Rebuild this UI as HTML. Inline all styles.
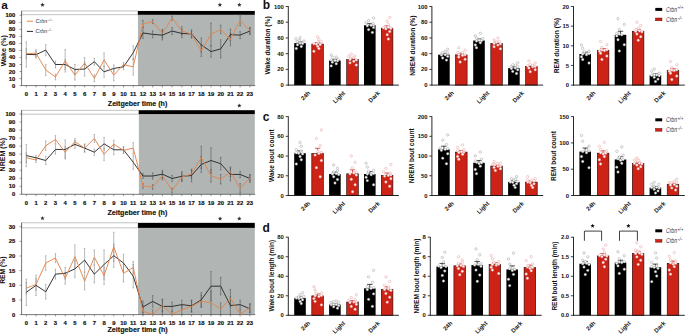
<!DOCTYPE html>
<html><head><meta charset="utf-8"><style>
html,body{margin:0;padding:0;background:#fff;}
svg{display:block;}
text{font-family:"Liberation Sans", sans-serif;}
</style></head><body>
<svg width="685" height="335" viewBox="0 0 685 335">
<rect width="685" height="335" fill="#fff"/>
<text x="1.2" y="8.6" font-size="11.8" font-weight="bold" text-anchor="start" fill="#111">a</text>
<rect x="137.95" y="14.8" width="116.85" height="70.8" fill="#b1b5b3"/>
<rect x="21.6" y="10.95" width="116.35" height="3.85" fill="#fff" stroke="#9a9a9a" stroke-width="0.6"/>
<rect x="137.95" y="10.95" width="116.85" height="3.85" fill="#000"/>
<line x1="21.6" y1="10.95" x2="21.6" y2="85.9" stroke="#555" stroke-width="0.8"/>
<line x1="21.6" y1="85.6" x2="255.2" y2="85.6" stroke="#555" stroke-width="0.8"/>
<line x1="19.6" y1="85.6" x2="21.6" y2="85.6" stroke="#555" stroke-width="0.6"/>
<text x="15.4" y="87.6" font-size="5.9" font-weight="bold" text-anchor="end" fill="#111" stroke="#111" stroke-width="0.18">0</text>
<line x1="19.6" y1="78.57" x2="21.6" y2="78.57" stroke="#555" stroke-width="0.6"/>
<text x="15.4" y="80.57" font-size="5.9" font-weight="bold" text-anchor="end" fill="#111" stroke="#111" stroke-width="0.18">10</text>
<line x1="19.6" y1="71.54" x2="21.6" y2="71.54" stroke="#555" stroke-width="0.6"/>
<text x="15.4" y="73.54" font-size="5.9" font-weight="bold" text-anchor="end" fill="#111" stroke="#111" stroke-width="0.18">20</text>
<line x1="19.6" y1="64.51" x2="21.6" y2="64.51" stroke="#555" stroke-width="0.6"/>
<text x="15.4" y="66.51" font-size="5.9" font-weight="bold" text-anchor="end" fill="#111" stroke="#111" stroke-width="0.18">30</text>
<line x1="19.6" y1="57.48" x2="21.6" y2="57.48" stroke="#555" stroke-width="0.6"/>
<text x="15.4" y="59.48" font-size="5.9" font-weight="bold" text-anchor="end" fill="#111" stroke="#111" stroke-width="0.18">40</text>
<line x1="19.6" y1="50.45" x2="21.6" y2="50.45" stroke="#555" stroke-width="0.6"/>
<text x="15.4" y="52.45" font-size="5.9" font-weight="bold" text-anchor="end" fill="#111" stroke="#111" stroke-width="0.18">50</text>
<line x1="19.6" y1="43.42" x2="21.6" y2="43.42" stroke="#555" stroke-width="0.6"/>
<text x="15.4" y="45.42" font-size="5.9" font-weight="bold" text-anchor="end" fill="#111" stroke="#111" stroke-width="0.18">60</text>
<line x1="19.6" y1="36.39" x2="21.6" y2="36.39" stroke="#555" stroke-width="0.6"/>
<text x="15.4" y="38.39" font-size="5.9" font-weight="bold" text-anchor="end" fill="#111" stroke="#111" stroke-width="0.18">70</text>
<line x1="19.6" y1="29.36" x2="21.6" y2="29.36" stroke="#555" stroke-width="0.6"/>
<text x="15.4" y="31.36" font-size="5.9" font-weight="bold" text-anchor="end" fill="#111" stroke="#111" stroke-width="0.18">80</text>
<line x1="19.6" y1="22.33" x2="21.6" y2="22.33" stroke="#555" stroke-width="0.6"/>
<text x="15.4" y="24.33" font-size="5.9" font-weight="bold" text-anchor="end" fill="#111" stroke="#111" stroke-width="0.18">90</text>
<line x1="19.6" y1="15.3" x2="21.6" y2="15.3" stroke="#555" stroke-width="0.6"/>
<text x="15.4" y="17.3" font-size="5.9" font-weight="bold" text-anchor="end" fill="#111" stroke="#111" stroke-width="0.18">100</text>
<line x1="26.3" y1="85.6" x2="26.3" y2="87.4" stroke="#555" stroke-width="0.6"/>
<text x="26.3" y="96.2" font-size="5.9" font-weight="bold" text-anchor="middle" fill="#111" stroke="#111" stroke-width="0.18">0</text>
<line x1="36.02" y1="85.6" x2="36.02" y2="87.4" stroke="#555" stroke-width="0.6"/>
<text x="36.02" y="96.2" font-size="5.9" font-weight="bold" text-anchor="middle" fill="#111" stroke="#111" stroke-width="0.18">1</text>
<line x1="45.74" y1="85.6" x2="45.74" y2="87.4" stroke="#555" stroke-width="0.6"/>
<text x="45.74" y="96.2" font-size="5.9" font-weight="bold" text-anchor="middle" fill="#111" stroke="#111" stroke-width="0.18">2</text>
<line x1="55.46" y1="85.6" x2="55.46" y2="87.4" stroke="#555" stroke-width="0.6"/>
<text x="55.46" y="96.2" font-size="5.9" font-weight="bold" text-anchor="middle" fill="#111" stroke="#111" stroke-width="0.18">3</text>
<line x1="65.18" y1="85.6" x2="65.18" y2="87.4" stroke="#555" stroke-width="0.6"/>
<text x="65.18" y="96.2" font-size="5.9" font-weight="bold" text-anchor="middle" fill="#111" stroke="#111" stroke-width="0.18">4</text>
<line x1="74.9" y1="85.6" x2="74.9" y2="87.4" stroke="#555" stroke-width="0.6"/>
<text x="74.9" y="96.2" font-size="5.9" font-weight="bold" text-anchor="middle" fill="#111" stroke="#111" stroke-width="0.18">5</text>
<line x1="84.62" y1="85.6" x2="84.62" y2="87.4" stroke="#555" stroke-width="0.6"/>
<text x="84.62" y="96.2" font-size="5.9" font-weight="bold" text-anchor="middle" fill="#111" stroke="#111" stroke-width="0.18">6</text>
<line x1="94.34" y1="85.6" x2="94.34" y2="87.4" stroke="#555" stroke-width="0.6"/>
<text x="94.34" y="96.2" font-size="5.9" font-weight="bold" text-anchor="middle" fill="#111" stroke="#111" stroke-width="0.18">7</text>
<line x1="104.06" y1="85.6" x2="104.06" y2="87.4" stroke="#555" stroke-width="0.6"/>
<text x="104.06" y="96.2" font-size="5.9" font-weight="bold" text-anchor="middle" fill="#111" stroke="#111" stroke-width="0.18">8</text>
<line x1="113.78" y1="85.6" x2="113.78" y2="87.4" stroke="#555" stroke-width="0.6"/>
<text x="113.78" y="96.2" font-size="5.9" font-weight="bold" text-anchor="middle" fill="#111" stroke="#111" stroke-width="0.18">9</text>
<line x1="123.5" y1="85.6" x2="123.5" y2="87.4" stroke="#555" stroke-width="0.6"/>
<text x="123.5" y="96.2" font-size="5.9" font-weight="bold" text-anchor="middle" fill="#111" stroke="#111" stroke-width="0.18">10</text>
<line x1="133.22" y1="85.6" x2="133.22" y2="87.4" stroke="#555" stroke-width="0.6"/>
<text x="133.22" y="96.2" font-size="5.9" font-weight="bold" text-anchor="middle" fill="#111" stroke="#111" stroke-width="0.18">11</text>
<line x1="142.94" y1="85.6" x2="142.94" y2="87.4" stroke="#555" stroke-width="0.6"/>
<text x="142.94" y="96.2" font-size="5.9" font-weight="bold" text-anchor="middle" fill="#111" stroke="#111" stroke-width="0.18">12</text>
<line x1="152.66" y1="85.6" x2="152.66" y2="87.4" stroke="#555" stroke-width="0.6"/>
<text x="152.66" y="96.2" font-size="5.9" font-weight="bold" text-anchor="middle" fill="#111" stroke="#111" stroke-width="0.18">13</text>
<line x1="162.38" y1="85.6" x2="162.38" y2="87.4" stroke="#555" stroke-width="0.6"/>
<text x="162.38" y="96.2" font-size="5.9" font-weight="bold" text-anchor="middle" fill="#111" stroke="#111" stroke-width="0.18">14</text>
<line x1="172.1" y1="85.6" x2="172.1" y2="87.4" stroke="#555" stroke-width="0.6"/>
<text x="172.1" y="96.2" font-size="5.9" font-weight="bold" text-anchor="middle" fill="#111" stroke="#111" stroke-width="0.18">15</text>
<line x1="181.82" y1="85.6" x2="181.82" y2="87.4" stroke="#555" stroke-width="0.6"/>
<text x="181.82" y="96.2" font-size="5.9" font-weight="bold" text-anchor="middle" fill="#111" stroke="#111" stroke-width="0.18">16</text>
<line x1="191.54" y1="85.6" x2="191.54" y2="87.4" stroke="#555" stroke-width="0.6"/>
<text x="191.54" y="96.2" font-size="5.9" font-weight="bold" text-anchor="middle" fill="#111" stroke="#111" stroke-width="0.18">17</text>
<line x1="201.26" y1="85.6" x2="201.26" y2="87.4" stroke="#555" stroke-width="0.6"/>
<text x="201.26" y="96.2" font-size="5.9" font-weight="bold" text-anchor="middle" fill="#111" stroke="#111" stroke-width="0.18">18</text>
<line x1="210.98" y1="85.6" x2="210.98" y2="87.4" stroke="#555" stroke-width="0.6"/>
<text x="210.98" y="96.2" font-size="5.9" font-weight="bold" text-anchor="middle" fill="#111" stroke="#111" stroke-width="0.18">19</text>
<line x1="220.7" y1="85.6" x2="220.7" y2="87.4" stroke="#555" stroke-width="0.6"/>
<text x="220.7" y="96.2" font-size="5.9" font-weight="bold" text-anchor="middle" fill="#111" stroke="#111" stroke-width="0.18">20</text>
<line x1="230.42" y1="85.6" x2="230.42" y2="87.4" stroke="#555" stroke-width="0.6"/>
<text x="230.42" y="96.2" font-size="5.9" font-weight="bold" text-anchor="middle" fill="#111" stroke="#111" stroke-width="0.18">21</text>
<line x1="240.14" y1="85.6" x2="240.14" y2="87.4" stroke="#555" stroke-width="0.6"/>
<text x="240.14" y="96.2" font-size="5.9" font-weight="bold" text-anchor="middle" fill="#111" stroke="#111" stroke-width="0.18">22</text>
<line x1="249.86" y1="85.6" x2="249.86" y2="87.4" stroke="#555" stroke-width="0.6"/>
<text x="249.86" y="96.2" font-size="5.9" font-weight="bold" text-anchor="middle" fill="#111" stroke="#111" stroke-width="0.18">23</text>
<text x="137.55" y="105.75" font-size="7.1" font-weight="bold" text-anchor="middle" fill="#111" textLength="59.42" lengthAdjust="spacingAndGlyphs" stroke="#111" stroke-width="0.15">Zeitgeber time (h)</text>
<text x="5.65" y="50.7" font-size="7.0" font-weight="bold" text-anchor="middle" fill="#111" transform="rotate(-90 5.65 50.7)" textLength="31.21" lengthAdjust="spacingAndGlyphs">Wake (%)</text>
<line x1="26.3" y1="41.73" x2="26.3" y2="67.04" stroke="#888" stroke-width="0.6"/>
<line x1="25.5" y1="41.73" x2="27.1" y2="41.73" stroke="#888" stroke-width="0.5"/>
<line x1="25.5" y1="67.04" x2="27.1" y2="67.04" stroke="#888" stroke-width="0.5"/>
<line x1="36.02" y1="51.15" x2="36.02" y2="58.18" stroke="#888" stroke-width="0.6"/>
<line x1="35.22" y1="51.15" x2="36.82" y2="51.15" stroke="#888" stroke-width="0.5"/>
<line x1="35.22" y1="58.18" x2="36.82" y2="58.18" stroke="#888" stroke-width="0.5"/>
<line x1="45.74" y1="44.47" x2="45.74" y2="55.72" stroke="#888" stroke-width="0.6"/>
<line x1="44.94" y1="44.47" x2="46.54" y2="44.47" stroke="#888" stroke-width="0.5"/>
<line x1="44.94" y1="55.72" x2="46.54" y2="55.72" stroke="#888" stroke-width="0.5"/>
<line x1="55.46" y1="60.99" x2="55.46" y2="68.02" stroke="#888" stroke-width="0.6"/>
<line x1="54.66" y1="60.99" x2="56.26" y2="60.99" stroke="#888" stroke-width="0.5"/>
<line x1="54.66" y1="68.02" x2="56.26" y2="68.02" stroke="#888" stroke-width="0.5"/>
<line x1="65.18" y1="59.59" x2="65.18" y2="69.43" stroke="#888" stroke-width="0.6"/>
<line x1="64.38" y1="59.59" x2="65.98" y2="59.59" stroke="#888" stroke-width="0.5"/>
<line x1="64.38" y1="69.43" x2="65.98" y2="69.43" stroke="#888" stroke-width="0.5"/>
<line x1="74.9" y1="64.51" x2="74.9" y2="74.35" stroke="#888" stroke-width="0.6"/>
<line x1="74.1" y1="64.51" x2="75.7" y2="64.51" stroke="#888" stroke-width="0.5"/>
<line x1="74.1" y1="74.35" x2="75.7" y2="74.35" stroke="#888" stroke-width="0.5"/>
<line x1="84.62" y1="62.05" x2="84.62" y2="76.11" stroke="#888" stroke-width="0.6"/>
<line x1="83.82" y1="62.05" x2="85.42" y2="62.05" stroke="#888" stroke-width="0.5"/>
<line x1="83.82" y1="76.11" x2="85.42" y2="76.11" stroke="#888" stroke-width="0.5"/>
<line x1="94.34" y1="58.18" x2="94.34" y2="65.21" stroke="#888" stroke-width="0.6"/>
<line x1="93.54" y1="58.18" x2="95.14" y2="58.18" stroke="#888" stroke-width="0.5"/>
<line x1="93.54" y1="65.21" x2="95.14" y2="65.21" stroke="#888" stroke-width="0.5"/>
<line x1="104.06" y1="66.2" x2="104.06" y2="77.45" stroke="#888" stroke-width="0.6"/>
<line x1="103.26" y1="66.2" x2="104.86" y2="66.2" stroke="#888" stroke-width="0.5"/>
<line x1="103.26" y1="77.45" x2="104.86" y2="77.45" stroke="#888" stroke-width="0.5"/>
<line x1="113.78" y1="64.93" x2="113.78" y2="71.96" stroke="#888" stroke-width="0.6"/>
<line x1="112.98" y1="64.93" x2="114.58" y2="64.93" stroke="#888" stroke-width="0.5"/>
<line x1="112.98" y1="71.96" x2="114.58" y2="71.96" stroke="#888" stroke-width="0.5"/>
<line x1="123.5" y1="64.02" x2="123.5" y2="69.64" stroke="#888" stroke-width="0.6"/>
<line x1="122.7" y1="64.02" x2="124.3" y2="64.02" stroke="#888" stroke-width="0.5"/>
<line x1="122.7" y1="69.64" x2="124.3" y2="69.64" stroke="#888" stroke-width="0.5"/>
<line x1="133.22" y1="45.74" x2="133.22" y2="59.8" stroke="#888" stroke-width="0.6"/>
<line x1="132.42" y1="45.74" x2="134.02" y2="45.74" stroke="#888" stroke-width="0.5"/>
<line x1="132.42" y1="59.8" x2="134.02" y2="59.8" stroke="#888" stroke-width="0.5"/>
<line x1="142.94" y1="27.32" x2="142.94" y2="38.57" stroke="#555" stroke-width="0.6"/>
<line x1="142.14" y1="27.32" x2="143.74" y2="27.32" stroke="#555" stroke-width="0.5"/>
<line x1="142.14" y1="38.57" x2="143.74" y2="38.57" stroke="#555" stroke-width="0.5"/>
<line x1="152.66" y1="30.84" x2="152.66" y2="37.87" stroke="#555" stroke-width="0.6"/>
<line x1="151.86" y1="30.84" x2="153.46" y2="30.84" stroke="#555" stroke-width="0.5"/>
<line x1="151.86" y1="37.87" x2="153.46" y2="37.87" stroke="#555" stroke-width="0.5"/>
<line x1="162.38" y1="30.2" x2="162.38" y2="40.05" stroke="#555" stroke-width="0.6"/>
<line x1="161.58" y1="30.2" x2="163.18" y2="30.2" stroke="#555" stroke-width="0.5"/>
<line x1="161.58" y1="40.05" x2="163.18" y2="40.05" stroke="#555" stroke-width="0.5"/>
<line x1="172.1" y1="27.53" x2="172.1" y2="34.56" stroke="#555" stroke-width="0.6"/>
<line x1="171.3" y1="27.53" x2="172.9" y2="27.53" stroke="#555" stroke-width="0.5"/>
<line x1="171.3" y1="34.56" x2="172.9" y2="34.56" stroke="#555" stroke-width="0.5"/>
<line x1="181.82" y1="29.22" x2="181.82" y2="37.66" stroke="#555" stroke-width="0.6"/>
<line x1="181.02" y1="29.22" x2="182.62" y2="29.22" stroke="#555" stroke-width="0.5"/>
<line x1="181.02" y1="37.66" x2="182.62" y2="37.66" stroke="#555" stroke-width="0.5"/>
<line x1="191.54" y1="29.71" x2="191.54" y2="38.15" stroke="#555" stroke-width="0.6"/>
<line x1="190.74" y1="29.71" x2="192.34" y2="29.71" stroke="#555" stroke-width="0.5"/>
<line x1="190.74" y1="38.15" x2="192.34" y2="38.15" stroke="#555" stroke-width="0.5"/>
<line x1="201.26" y1="37.87" x2="201.26" y2="51.93" stroke="#555" stroke-width="0.6"/>
<line x1="200.46" y1="37.87" x2="202.06" y2="37.87" stroke="#555" stroke-width="0.5"/>
<line x1="200.46" y1="51.93" x2="202.06" y2="51.93" stroke="#555" stroke-width="0.5"/>
<line x1="210.98" y1="45.95" x2="210.98" y2="57.2" stroke="#555" stroke-width="0.6"/>
<line x1="210.18" y1="45.95" x2="211.78" y2="45.95" stroke="#555" stroke-width="0.5"/>
<line x1="210.18" y1="57.2" x2="211.78" y2="57.2" stroke="#555" stroke-width="0.5"/>
<line x1="220.7" y1="39.76" x2="220.7" y2="58.04" stroke="#555" stroke-width="0.6"/>
<line x1="219.9" y1="39.76" x2="221.5" y2="39.76" stroke="#555" stroke-width="0.5"/>
<line x1="219.9" y1="58.04" x2="221.5" y2="58.04" stroke="#555" stroke-width="0.5"/>
<line x1="230.42" y1="29.01" x2="230.42" y2="40.26" stroke="#555" stroke-width="0.6"/>
<line x1="229.62" y1="29.01" x2="231.22" y2="29.01" stroke="#555" stroke-width="0.5"/>
<line x1="229.62" y1="40.26" x2="231.22" y2="40.26" stroke="#555" stroke-width="0.5"/>
<line x1="240.14" y1="31.61" x2="240.14" y2="38.64" stroke="#555" stroke-width="0.6"/>
<line x1="239.34" y1="31.61" x2="240.94" y2="31.61" stroke="#555" stroke-width="0.5"/>
<line x1="239.34" y1="38.64" x2="240.94" y2="38.64" stroke="#555" stroke-width="0.5"/>
<line x1="249.86" y1="27.53" x2="249.86" y2="34.56" stroke="#555" stroke-width="0.6"/>
<line x1="249.06" y1="27.53" x2="250.66" y2="27.53" stroke="#555" stroke-width="0.5"/>
<line x1="249.06" y1="34.56" x2="250.66" y2="34.56" stroke="#555" stroke-width="0.5"/>
<line x1="26.3" y1="48.76" x2="26.3" y2="58.6" stroke="#888" stroke-width="0.6"/>
<line x1="25.5" y1="48.76" x2="27.1" y2="48.76" stroke="#888" stroke-width="0.5"/>
<line x1="25.5" y1="58.6" x2="27.1" y2="58.6" stroke="#888" stroke-width="0.5"/>
<line x1="36.02" y1="49.75" x2="36.02" y2="56.78" stroke="#888" stroke-width="0.6"/>
<line x1="35.22" y1="49.75" x2="36.82" y2="49.75" stroke="#888" stroke-width="0.5"/>
<line x1="35.22" y1="56.78" x2="36.82" y2="56.78" stroke="#888" stroke-width="0.5"/>
<line x1="45.74" y1="64.3" x2="45.74" y2="75.55" stroke="#888" stroke-width="0.6"/>
<line x1="44.94" y1="64.3" x2="46.54" y2="64.3" stroke="#888" stroke-width="0.5"/>
<line x1="44.94" y1="75.55" x2="46.54" y2="75.55" stroke="#888" stroke-width="0.5"/>
<line x1="55.46" y1="74.21" x2="55.46" y2="79.84" stroke="#888" stroke-width="0.6"/>
<line x1="54.66" y1="74.21" x2="56.26" y2="74.21" stroke="#888" stroke-width="0.5"/>
<line x1="54.66" y1="79.84" x2="56.26" y2="79.84" stroke="#888" stroke-width="0.5"/>
<line x1="65.18" y1="49.61" x2="65.18" y2="72.1" stroke="#888" stroke-width="0.6"/>
<line x1="64.38" y1="49.61" x2="65.98" y2="49.61" stroke="#888" stroke-width="0.5"/>
<line x1="64.38" y1="72.1" x2="65.98" y2="72.1" stroke="#888" stroke-width="0.5"/>
<line x1="74.9" y1="70.2" x2="74.9" y2="80.05" stroke="#888" stroke-width="0.6"/>
<line x1="74.1" y1="70.2" x2="75.7" y2="70.2" stroke="#888" stroke-width="0.5"/>
<line x1="74.1" y1="80.05" x2="75.7" y2="80.05" stroke="#888" stroke-width="0.5"/>
<line x1="84.62" y1="57.48" x2="84.62" y2="68.73" stroke="#888" stroke-width="0.6"/>
<line x1="83.82" y1="57.48" x2="85.42" y2="57.48" stroke="#888" stroke-width="0.5"/>
<line x1="83.82" y1="68.73" x2="85.42" y2="68.73" stroke="#888" stroke-width="0.5"/>
<line x1="94.34" y1="74.7" x2="94.34" y2="81.73" stroke="#888" stroke-width="0.6"/>
<line x1="93.54" y1="74.7" x2="95.14" y2="74.7" stroke="#888" stroke-width="0.5"/>
<line x1="93.54" y1="81.73" x2="95.14" y2="81.73" stroke="#888" stroke-width="0.5"/>
<line x1="104.06" y1="52.84" x2="104.06" y2="66.9" stroke="#888" stroke-width="0.6"/>
<line x1="103.26" y1="52.84" x2="104.86" y2="52.84" stroke="#888" stroke-width="0.5"/>
<line x1="103.26" y1="66.9" x2="104.86" y2="66.9" stroke="#888" stroke-width="0.5"/>
<line x1="113.78" y1="69.5" x2="113.78" y2="80.75" stroke="#888" stroke-width="0.6"/>
<line x1="112.98" y1="69.5" x2="114.58" y2="69.5" stroke="#888" stroke-width="0.5"/>
<line x1="112.98" y1="80.75" x2="114.58" y2="80.75" stroke="#888" stroke-width="0.5"/>
<line x1="123.5" y1="62.54" x2="123.5" y2="66.76" stroke="#888" stroke-width="0.6"/>
<line x1="122.7" y1="62.54" x2="124.3" y2="62.54" stroke="#888" stroke-width="0.5"/>
<line x1="122.7" y1="66.76" x2="124.3" y2="66.76" stroke="#888" stroke-width="0.5"/>
<line x1="133.22" y1="58.39" x2="133.22" y2="75.27" stroke="#888" stroke-width="0.6"/>
<line x1="132.42" y1="58.39" x2="134.02" y2="58.39" stroke="#888" stroke-width="0.5"/>
<line x1="132.42" y1="75.27" x2="134.02" y2="75.27" stroke="#888" stroke-width="0.5"/>
<line x1="142.94" y1="20.36" x2="142.94" y2="27.39" stroke="#555" stroke-width="0.6"/>
<line x1="142.14" y1="20.36" x2="143.74" y2="20.36" stroke="#555" stroke-width="0.5"/>
<line x1="142.14" y1="27.39" x2="143.74" y2="27.39" stroke="#555" stroke-width="0.5"/>
<line x1="152.66" y1="19.38" x2="152.66" y2="23.6" stroke="#555" stroke-width="0.6"/>
<line x1="151.86" y1="19.38" x2="153.46" y2="19.38" stroke="#555" stroke-width="0.5"/>
<line x1="151.86" y1="23.6" x2="153.46" y2="23.6" stroke="#555" stroke-width="0.5"/>
<line x1="162.38" y1="29.22" x2="162.38" y2="37.66" stroke="#555" stroke-width="0.6"/>
<line x1="161.58" y1="29.22" x2="163.18" y2="29.22" stroke="#555" stroke-width="0.5"/>
<line x1="161.58" y1="37.66" x2="163.18" y2="37.66" stroke="#555" stroke-width="0.5"/>
<line x1="172.1" y1="16.07" x2="172.1" y2="20.29" stroke="#555" stroke-width="0.6"/>
<line x1="171.3" y1="16.07" x2="172.9" y2="16.07" stroke="#555" stroke-width="0.5"/>
<line x1="171.3" y1="20.29" x2="172.9" y2="20.29" stroke="#555" stroke-width="0.5"/>
<line x1="181.82" y1="26.62" x2="181.82" y2="35.05" stroke="#555" stroke-width="0.6"/>
<line x1="181.02" y1="26.62" x2="182.62" y2="26.62" stroke="#555" stroke-width="0.5"/>
<line x1="181.02" y1="35.05" x2="182.62" y2="35.05" stroke="#555" stroke-width="0.5"/>
<line x1="191.54" y1="31.33" x2="191.54" y2="36.95" stroke="#555" stroke-width="0.6"/>
<line x1="190.74" y1="31.33" x2="192.34" y2="31.33" stroke="#555" stroke-width="0.5"/>
<line x1="190.74" y1="36.95" x2="192.34" y2="36.95" stroke="#555" stroke-width="0.5"/>
<line x1="201.26" y1="45.18" x2="201.26" y2="56.43" stroke="#555" stroke-width="0.6"/>
<line x1="200.46" y1="45.18" x2="202.06" y2="45.18" stroke="#555" stroke-width="0.5"/>
<line x1="200.46" y1="56.43" x2="202.06" y2="56.43" stroke="#555" stroke-width="0.5"/>
<line x1="210.98" y1="23.03" x2="210.98" y2="45.53" stroke="#555" stroke-width="0.6"/>
<line x1="210.18" y1="23.03" x2="211.78" y2="23.03" stroke="#555" stroke-width="0.5"/>
<line x1="210.18" y1="45.53" x2="211.78" y2="45.53" stroke="#555" stroke-width="0.5"/>
<line x1="220.7" y1="25.14" x2="220.7" y2="33.58" stroke="#555" stroke-width="0.6"/>
<line x1="219.9" y1="25.14" x2="221.5" y2="25.14" stroke="#555" stroke-width="0.5"/>
<line x1="219.9" y1="33.58" x2="221.5" y2="33.58" stroke="#555" stroke-width="0.5"/>
<line x1="230.42" y1="33.09" x2="230.42" y2="45.74" stroke="#555" stroke-width="0.6"/>
<line x1="229.62" y1="33.09" x2="231.22" y2="33.09" stroke="#555" stroke-width="0.5"/>
<line x1="229.62" y1="45.74" x2="231.22" y2="45.74" stroke="#555" stroke-width="0.5"/>
<line x1="240.14" y1="14.67" x2="240.14" y2="25.92" stroke="#555" stroke-width="0.6"/>
<line x1="239.34" y1="14.67" x2="240.94" y2="14.67" stroke="#555" stroke-width="0.5"/>
<line x1="239.34" y1="25.92" x2="240.94" y2="25.92" stroke="#555" stroke-width="0.5"/>
<line x1="249.86" y1="27.95" x2="249.86" y2="33.58" stroke="#555" stroke-width="0.6"/>
<line x1="249.06" y1="27.95" x2="250.66" y2="27.95" stroke="#555" stroke-width="0.5"/>
<line x1="249.06" y1="33.58" x2="250.66" y2="33.58" stroke="#555" stroke-width="0.5"/>
<polyline points="26.3,54.39 36.02,54.67 45.74,50.1 55.46,64.51 65.18,64.51 74.9,69.43 84.62,69.08 94.34,61.7 104.06,71.82 113.78,68.45 123.5,66.83 133.22,52.77 142.94,32.95 152.66,34.35 162.38,35.12 172.1,31.05 181.82,33.44 191.54,33.93 201.26,44.9 210.98,51.57 220.7,48.9 230.42,34.63 240.14,35.12 249.86,31.05" fill="none" stroke="#2b2b2b" stroke-width="0.95" stroke-linejoin="miter"/>
<polyline points="26.3,53.68 36.02,53.26 45.74,69.92 55.46,77.02 65.18,60.85 74.9,75.13 84.62,63.1 94.34,78.22 104.06,59.87 113.78,75.13 123.5,64.65 133.22,66.83 142.94,23.88 152.66,21.49 162.38,33.44 172.1,18.18 181.82,30.84 191.54,34.14 201.26,50.8 210.98,34.28 220.7,29.36 230.42,39.41 240.14,20.29 249.86,30.77" fill="none" stroke="#e4854b" stroke-width="0.95" stroke-linejoin="miter"/>
<polygon points="42.5,2.6 43.11,4.06 44.69,4.19 43.48,5.22 43.85,6.76 42.5,5.94 41.15,6.76 41.52,5.22 40.31,4.19 41.89,4.06" fill="#333"/>
<polygon points="219.9,2.6 220.51,4.06 222.09,4.19 220.88,5.22 221.25,6.76 219.9,5.94 218.55,6.76 218.92,5.22 217.71,4.19 219.29,4.06" fill="#333"/>
<polygon points="239.4,2.6 240.01,4.06 241.59,4.19 240.38,5.22 240.75,6.76 239.4,5.94 238.05,6.76 238.42,5.22 237.21,4.19 238.79,4.06" fill="#333"/>
<line x1="26.9" y1="21.2" x2="33" y2="21.2" stroke="#e4854b" stroke-width="1"/>
<line x1="26.9" y1="31.4" x2="33" y2="31.4" stroke="#2b2b2b" stroke-width="1"/>
<text x="35.4" y="23.2" font-size="5.9" font-style="italic" fill="#333" textLength="12" lengthAdjust="spacingAndGlyphs">Crbn</text><text x="48.0" y="21.0" font-size="3.9" font-style="italic" fill="#555" textLength="4.3" lengthAdjust="spacingAndGlyphs">+/+</text>
<text x="35.4" y="33.4" font-size="5.9" font-style="italic" fill="#333" textLength="12" lengthAdjust="spacingAndGlyphs">Crbn</text><text x="48.0" y="31.2" font-size="3.9" font-style="italic" fill="#555" textLength="3.6" lengthAdjust="spacingAndGlyphs">-/-</text>
<rect x="138.85" y="114.1" width="115.95" height="80.2" fill="#b1b5b3"/>
<rect x="21.6" y="110.2" width="117.25" height="3.9" fill="#fff" stroke="#9a9a9a" stroke-width="0.6"/>
<rect x="138.85" y="110.2" width="115.95" height="3.9" fill="#000"/>
<line x1="21.6" y1="110.2" x2="21.6" y2="194.6" stroke="#555" stroke-width="0.8"/>
<line x1="21.6" y1="194.3" x2="255.2" y2="194.3" stroke="#555" stroke-width="0.8"/>
<line x1="19.6" y1="194.3" x2="21.6" y2="194.3" stroke="#555" stroke-width="0.6"/>
<text x="15.4" y="196.3" font-size="5.9" font-weight="bold" text-anchor="end" fill="#111" stroke="#111" stroke-width="0.18">0</text>
<line x1="19.6" y1="186.27" x2="21.6" y2="186.27" stroke="#555" stroke-width="0.6"/>
<text x="15.4" y="188.27" font-size="5.9" font-weight="bold" text-anchor="end" fill="#111" stroke="#111" stroke-width="0.18">10</text>
<line x1="19.6" y1="178.24" x2="21.6" y2="178.24" stroke="#555" stroke-width="0.6"/>
<text x="15.4" y="180.24" font-size="5.9" font-weight="bold" text-anchor="end" fill="#111" stroke="#111" stroke-width="0.18">20</text>
<line x1="19.6" y1="170.21" x2="21.6" y2="170.21" stroke="#555" stroke-width="0.6"/>
<text x="15.4" y="172.21" font-size="5.9" font-weight="bold" text-anchor="end" fill="#111" stroke="#111" stroke-width="0.18">30</text>
<line x1="19.6" y1="162.18" x2="21.6" y2="162.18" stroke="#555" stroke-width="0.6"/>
<text x="15.4" y="164.18" font-size="5.9" font-weight="bold" text-anchor="end" fill="#111" stroke="#111" stroke-width="0.18">40</text>
<line x1="19.6" y1="154.15" x2="21.6" y2="154.15" stroke="#555" stroke-width="0.6"/>
<text x="15.4" y="156.15" font-size="5.9" font-weight="bold" text-anchor="end" fill="#111" stroke="#111" stroke-width="0.18">50</text>
<line x1="19.6" y1="146.12" x2="21.6" y2="146.12" stroke="#555" stroke-width="0.6"/>
<text x="15.4" y="148.12" font-size="5.9" font-weight="bold" text-anchor="end" fill="#111" stroke="#111" stroke-width="0.18">60</text>
<line x1="19.6" y1="138.09" x2="21.6" y2="138.09" stroke="#555" stroke-width="0.6"/>
<text x="15.4" y="140.09" font-size="5.9" font-weight="bold" text-anchor="end" fill="#111" stroke="#111" stroke-width="0.18">70</text>
<line x1="19.6" y1="130.06" x2="21.6" y2="130.06" stroke="#555" stroke-width="0.6"/>
<text x="15.4" y="132.06" font-size="5.9" font-weight="bold" text-anchor="end" fill="#111" stroke="#111" stroke-width="0.18">80</text>
<line x1="19.6" y1="122.03" x2="21.6" y2="122.03" stroke="#555" stroke-width="0.6"/>
<text x="15.4" y="124.03" font-size="5.9" font-weight="bold" text-anchor="end" fill="#111" stroke="#111" stroke-width="0.18">90</text>
<line x1="19.6" y1="114" x2="21.6" y2="114" stroke="#555" stroke-width="0.6"/>
<text x="15.4" y="116" font-size="5.9" font-weight="bold" text-anchor="end" fill="#111" stroke="#111" stroke-width="0.18">100</text>
<line x1="26.3" y1="194.3" x2="26.3" y2="196.1" stroke="#555" stroke-width="0.6"/>
<text x="26.3" y="205.2" font-size="5.9" font-weight="bold" text-anchor="middle" fill="#111" stroke="#111" stroke-width="0.18">0</text>
<line x1="36.02" y1="194.3" x2="36.02" y2="196.1" stroke="#555" stroke-width="0.6"/>
<text x="36.02" y="205.2" font-size="5.9" font-weight="bold" text-anchor="middle" fill="#111" stroke="#111" stroke-width="0.18">1</text>
<line x1="45.74" y1="194.3" x2="45.74" y2="196.1" stroke="#555" stroke-width="0.6"/>
<text x="45.74" y="205.2" font-size="5.9" font-weight="bold" text-anchor="middle" fill="#111" stroke="#111" stroke-width="0.18">2</text>
<line x1="55.46" y1="194.3" x2="55.46" y2="196.1" stroke="#555" stroke-width="0.6"/>
<text x="55.46" y="205.2" font-size="5.9" font-weight="bold" text-anchor="middle" fill="#111" stroke="#111" stroke-width="0.18">3</text>
<line x1="65.18" y1="194.3" x2="65.18" y2="196.1" stroke="#555" stroke-width="0.6"/>
<text x="65.18" y="205.2" font-size="5.9" font-weight="bold" text-anchor="middle" fill="#111" stroke="#111" stroke-width="0.18">4</text>
<line x1="74.9" y1="194.3" x2="74.9" y2="196.1" stroke="#555" stroke-width="0.6"/>
<text x="74.9" y="205.2" font-size="5.9" font-weight="bold" text-anchor="middle" fill="#111" stroke="#111" stroke-width="0.18">5</text>
<line x1="84.62" y1="194.3" x2="84.62" y2="196.1" stroke="#555" stroke-width="0.6"/>
<text x="84.62" y="205.2" font-size="5.9" font-weight="bold" text-anchor="middle" fill="#111" stroke="#111" stroke-width="0.18">6</text>
<line x1="94.34" y1="194.3" x2="94.34" y2="196.1" stroke="#555" stroke-width="0.6"/>
<text x="94.34" y="205.2" font-size="5.9" font-weight="bold" text-anchor="middle" fill="#111" stroke="#111" stroke-width="0.18">7</text>
<line x1="104.06" y1="194.3" x2="104.06" y2="196.1" stroke="#555" stroke-width="0.6"/>
<text x="104.06" y="205.2" font-size="5.9" font-weight="bold" text-anchor="middle" fill="#111" stroke="#111" stroke-width="0.18">8</text>
<line x1="113.78" y1="194.3" x2="113.78" y2="196.1" stroke="#555" stroke-width="0.6"/>
<text x="113.78" y="205.2" font-size="5.9" font-weight="bold" text-anchor="middle" fill="#111" stroke="#111" stroke-width="0.18">9</text>
<line x1="123.5" y1="194.3" x2="123.5" y2="196.1" stroke="#555" stroke-width="0.6"/>
<text x="123.5" y="205.2" font-size="5.9" font-weight="bold" text-anchor="middle" fill="#111" stroke="#111" stroke-width="0.18">10</text>
<line x1="133.22" y1="194.3" x2="133.22" y2="196.1" stroke="#555" stroke-width="0.6"/>
<text x="133.22" y="205.2" font-size="5.9" font-weight="bold" text-anchor="middle" fill="#111" stroke="#111" stroke-width="0.18">11</text>
<line x1="142.94" y1="194.3" x2="142.94" y2="196.1" stroke="#555" stroke-width="0.6"/>
<text x="142.94" y="205.2" font-size="5.9" font-weight="bold" text-anchor="middle" fill="#111" stroke="#111" stroke-width="0.18">12</text>
<line x1="152.66" y1="194.3" x2="152.66" y2="196.1" stroke="#555" stroke-width="0.6"/>
<text x="152.66" y="205.2" font-size="5.9" font-weight="bold" text-anchor="middle" fill="#111" stroke="#111" stroke-width="0.18">13</text>
<line x1="162.38" y1="194.3" x2="162.38" y2="196.1" stroke="#555" stroke-width="0.6"/>
<text x="162.38" y="205.2" font-size="5.9" font-weight="bold" text-anchor="middle" fill="#111" stroke="#111" stroke-width="0.18">14</text>
<line x1="172.1" y1="194.3" x2="172.1" y2="196.1" stroke="#555" stroke-width="0.6"/>
<text x="172.1" y="205.2" font-size="5.9" font-weight="bold" text-anchor="middle" fill="#111" stroke="#111" stroke-width="0.18">15</text>
<line x1="181.82" y1="194.3" x2="181.82" y2="196.1" stroke="#555" stroke-width="0.6"/>
<text x="181.82" y="205.2" font-size="5.9" font-weight="bold" text-anchor="middle" fill="#111" stroke="#111" stroke-width="0.18">16</text>
<line x1="191.54" y1="194.3" x2="191.54" y2="196.1" stroke="#555" stroke-width="0.6"/>
<text x="191.54" y="205.2" font-size="5.9" font-weight="bold" text-anchor="middle" fill="#111" stroke="#111" stroke-width="0.18">17</text>
<line x1="201.26" y1="194.3" x2="201.26" y2="196.1" stroke="#555" stroke-width="0.6"/>
<text x="201.26" y="205.2" font-size="5.9" font-weight="bold" text-anchor="middle" fill="#111" stroke="#111" stroke-width="0.18">18</text>
<line x1="210.98" y1="194.3" x2="210.98" y2="196.1" stroke="#555" stroke-width="0.6"/>
<text x="210.98" y="205.2" font-size="5.9" font-weight="bold" text-anchor="middle" fill="#111" stroke="#111" stroke-width="0.18">19</text>
<line x1="220.7" y1="194.3" x2="220.7" y2="196.1" stroke="#555" stroke-width="0.6"/>
<text x="220.7" y="205.2" font-size="5.9" font-weight="bold" text-anchor="middle" fill="#111" stroke="#111" stroke-width="0.18">20</text>
<line x1="230.42" y1="194.3" x2="230.42" y2="196.1" stroke="#555" stroke-width="0.6"/>
<text x="230.42" y="205.2" font-size="5.9" font-weight="bold" text-anchor="middle" fill="#111" stroke="#111" stroke-width="0.18">21</text>
<line x1="240.14" y1="194.3" x2="240.14" y2="196.1" stroke="#555" stroke-width="0.6"/>
<text x="240.14" y="205.2" font-size="5.9" font-weight="bold" text-anchor="middle" fill="#111" stroke="#111" stroke-width="0.18">22</text>
<line x1="249.86" y1="194.3" x2="249.86" y2="196.1" stroke="#555" stroke-width="0.6"/>
<text x="249.86" y="205.2" font-size="5.9" font-weight="bold" text-anchor="middle" fill="#111" stroke="#111" stroke-width="0.18">23</text>
<text x="137.35" y="215.45" font-size="7.1" font-weight="bold" text-anchor="middle" fill="#111" textLength="59.82" lengthAdjust="spacingAndGlyphs" stroke="#111" stroke-width="0.15">Zeitgeber time (h)</text>
<text x="5.35" y="154.6" font-size="7.0" font-weight="bold" text-anchor="middle" fill="#111" transform="rotate(-90 5.35 154.6)" textLength="33.6" lengthAdjust="spacingAndGlyphs">NREM (%)</text>
<line x1="26.3" y1="144.45" x2="26.3" y2="166.71" stroke="#888" stroke-width="0.6"/>
<line x1="25.5" y1="144.45" x2="27.1" y2="144.45" stroke="#888" stroke-width="0.5"/>
<line x1="25.5" y1="166.71" x2="27.1" y2="166.71" stroke="#888" stroke-width="0.5"/>
<line x1="36.02" y1="155.42" x2="36.02" y2="160.19" stroke="#888" stroke-width="0.6"/>
<line x1="35.22" y1="155.42" x2="36.82" y2="155.42" stroke="#888" stroke-width="0.5"/>
<line x1="35.22" y1="160.19" x2="36.82" y2="160.19" stroke="#888" stroke-width="0.5"/>
<line x1="45.74" y1="156.54" x2="45.74" y2="164.49" stroke="#888" stroke-width="0.6"/>
<line x1="44.94" y1="156.54" x2="46.54" y2="156.54" stroke="#888" stroke-width="0.5"/>
<line x1="44.94" y1="164.49" x2="46.54" y2="164.49" stroke="#888" stroke-width="0.5"/>
<line x1="55.46" y1="144.69" x2="55.46" y2="154.23" stroke="#888" stroke-width="0.6"/>
<line x1="54.66" y1="144.69" x2="56.26" y2="144.69" stroke="#888" stroke-width="0.5"/>
<line x1="54.66" y1="154.23" x2="56.26" y2="154.23" stroke="#888" stroke-width="0.5"/>
<line x1="65.18" y1="139.92" x2="65.18" y2="159" stroke="#888" stroke-width="0.6"/>
<line x1="64.38" y1="139.92" x2="65.98" y2="139.92" stroke="#888" stroke-width="0.5"/>
<line x1="64.38" y1="159" x2="65.98" y2="159" stroke="#888" stroke-width="0.5"/>
<line x1="74.9" y1="140.4" x2="74.9" y2="148.35" stroke="#888" stroke-width="0.6"/>
<line x1="74.1" y1="140.4" x2="75.7" y2="140.4" stroke="#888" stroke-width="0.5"/>
<line x1="74.1" y1="148.35" x2="75.7" y2="148.35" stroke="#888" stroke-width="0.5"/>
<line x1="84.62" y1="144.14" x2="84.62" y2="152.09" stroke="#888" stroke-width="0.6"/>
<line x1="83.82" y1="144.14" x2="85.42" y2="144.14" stroke="#888" stroke-width="0.5"/>
<line x1="83.82" y1="152.09" x2="85.42" y2="152.09" stroke="#888" stroke-width="0.5"/>
<line x1="94.34" y1="148.99" x2="94.34" y2="155.35" stroke="#888" stroke-width="0.6"/>
<line x1="93.54" y1="148.99" x2="95.14" y2="148.99" stroke="#888" stroke-width="0.5"/>
<line x1="93.54" y1="155.35" x2="95.14" y2="155.35" stroke="#888" stroke-width="0.5"/>
<line x1="104.06" y1="137.46" x2="104.06" y2="150.18" stroke="#888" stroke-width="0.6"/>
<line x1="103.26" y1="137.46" x2="104.86" y2="137.46" stroke="#888" stroke-width="0.5"/>
<line x1="103.26" y1="150.18" x2="104.86" y2="150.18" stroke="#888" stroke-width="0.5"/>
<line x1="113.78" y1="145.01" x2="113.78" y2="154.55" stroke="#888" stroke-width="0.6"/>
<line x1="112.98" y1="145.01" x2="114.58" y2="145.01" stroke="#888" stroke-width="0.5"/>
<line x1="112.98" y1="154.55" x2="114.58" y2="154.55" stroke="#888" stroke-width="0.5"/>
<line x1="123.5" y1="146.6" x2="123.5" y2="152.96" stroke="#888" stroke-width="0.6"/>
<line x1="122.7" y1="146.6" x2="124.3" y2="146.6" stroke="#888" stroke-width="0.5"/>
<line x1="122.7" y1="152.96" x2="124.3" y2="152.96" stroke="#888" stroke-width="0.5"/>
<line x1="133.22" y1="155.11" x2="133.22" y2="169.42" stroke="#888" stroke-width="0.6"/>
<line x1="132.42" y1="155.11" x2="134.02" y2="155.11" stroke="#888" stroke-width="0.5"/>
<line x1="132.42" y1="169.42" x2="134.02" y2="169.42" stroke="#888" stroke-width="0.5"/>
<line x1="142.94" y1="173.63" x2="142.94" y2="178.4" stroke="#555" stroke-width="0.6"/>
<line x1="142.14" y1="173.63" x2="143.74" y2="173.63" stroke="#555" stroke-width="0.5"/>
<line x1="142.14" y1="178.4" x2="143.74" y2="178.4" stroke="#555" stroke-width="0.5"/>
<line x1="152.66" y1="172.84" x2="152.66" y2="179.2" stroke="#555" stroke-width="0.6"/>
<line x1="151.86" y1="172.84" x2="153.46" y2="172.84" stroke="#555" stroke-width="0.5"/>
<line x1="151.86" y1="179.2" x2="153.46" y2="179.2" stroke="#555" stroke-width="0.5"/>
<line x1="162.38" y1="170.21" x2="162.38" y2="178.16" stroke="#555" stroke-width="0.6"/>
<line x1="161.58" y1="170.21" x2="163.18" y2="170.21" stroke="#555" stroke-width="0.5"/>
<line x1="161.58" y1="178.16" x2="163.18" y2="178.16" stroke="#555" stroke-width="0.5"/>
<line x1="172.1" y1="175.3" x2="172.1" y2="181.66" stroke="#555" stroke-width="0.6"/>
<line x1="171.3" y1="175.3" x2="172.9" y2="175.3" stroke="#555" stroke-width="0.5"/>
<line x1="171.3" y1="181.66" x2="172.9" y2="181.66" stroke="#555" stroke-width="0.5"/>
<line x1="181.82" y1="171.56" x2="181.82" y2="181.1" stroke="#555" stroke-width="0.6"/>
<line x1="181.02" y1="171.56" x2="182.62" y2="171.56" stroke="#555" stroke-width="0.5"/>
<line x1="181.02" y1="181.1" x2="182.62" y2="181.1" stroke="#555" stroke-width="0.5"/>
<line x1="191.54" y1="169.18" x2="191.54" y2="181.9" stroke="#555" stroke-width="0.6"/>
<line x1="190.74" y1="169.18" x2="192.34" y2="169.18" stroke="#555" stroke-width="0.5"/>
<line x1="190.74" y1="181.9" x2="192.34" y2="181.9" stroke="#555" stroke-width="0.5"/>
<line x1="201.26" y1="156.54" x2="201.26" y2="172.44" stroke="#555" stroke-width="0.6"/>
<line x1="200.46" y1="156.54" x2="202.06" y2="156.54" stroke="#555" stroke-width="0.5"/>
<line x1="200.46" y1="172.44" x2="202.06" y2="172.44" stroke="#555" stroke-width="0.5"/>
<line x1="210.98" y1="147.79" x2="210.98" y2="173.23" stroke="#555" stroke-width="0.6"/>
<line x1="210.18" y1="147.79" x2="211.78" y2="147.79" stroke="#555" stroke-width="0.5"/>
<line x1="210.18" y1="173.23" x2="211.78" y2="173.23" stroke="#555" stroke-width="0.5"/>
<line x1="220.7" y1="157.33" x2="220.7" y2="170.05" stroke="#555" stroke-width="0.6"/>
<line x1="219.9" y1="157.33" x2="221.5" y2="157.33" stroke="#555" stroke-width="0.5"/>
<line x1="219.9" y1="170.05" x2="221.5" y2="170.05" stroke="#555" stroke-width="0.5"/>
<line x1="230.42" y1="168.07" x2="230.42" y2="180.79" stroke="#555" stroke-width="0.6"/>
<line x1="229.62" y1="168.07" x2="231.22" y2="168.07" stroke="#555" stroke-width="0.5"/>
<line x1="229.62" y1="180.79" x2="231.22" y2="180.79" stroke="#555" stroke-width="0.5"/>
<line x1="240.14" y1="171.25" x2="240.14" y2="177.61" stroke="#555" stroke-width="0.6"/>
<line x1="239.34" y1="171.25" x2="240.94" y2="171.25" stroke="#555" stroke-width="0.5"/>
<line x1="239.34" y1="177.61" x2="240.94" y2="177.61" stroke="#555" stroke-width="0.5"/>
<line x1="249.86" y1="174.5" x2="249.86" y2="182.45" stroke="#555" stroke-width="0.6"/>
<line x1="249.06" y1="174.5" x2="250.66" y2="174.5" stroke="#555" stroke-width="0.5"/>
<line x1="249.06" y1="182.45" x2="250.66" y2="182.45" stroke="#555" stroke-width="0.5"/>
<line x1="26.3" y1="152.96" x2="26.3" y2="162.5" stroke="#888" stroke-width="0.6"/>
<line x1="25.5" y1="152.96" x2="27.1" y2="152.96" stroke="#888" stroke-width="0.5"/>
<line x1="25.5" y1="162.5" x2="27.1" y2="162.5" stroke="#888" stroke-width="0.5"/>
<line x1="36.02" y1="157.65" x2="36.02" y2="162.42" stroke="#888" stroke-width="0.6"/>
<line x1="35.22" y1="157.65" x2="36.82" y2="157.65" stroke="#888" stroke-width="0.5"/>
<line x1="35.22" y1="162.42" x2="36.82" y2="162.42" stroke="#888" stroke-width="0.5"/>
<line x1="45.74" y1="140.96" x2="45.74" y2="150.5" stroke="#888" stroke-width="0.6"/>
<line x1="44.94" y1="140.96" x2="46.54" y2="140.96" stroke="#888" stroke-width="0.5"/>
<line x1="44.94" y1="150.5" x2="46.54" y2="150.5" stroke="#888" stroke-width="0.5"/>
<line x1="55.46" y1="135.55" x2="55.46" y2="143.5" stroke="#888" stroke-width="0.6"/>
<line x1="54.66" y1="135.55" x2="56.26" y2="135.55" stroke="#888" stroke-width="0.5"/>
<line x1="54.66" y1="143.5" x2="56.26" y2="143.5" stroke="#888" stroke-width="0.5"/>
<line x1="65.18" y1="146.6" x2="65.18" y2="157.73" stroke="#888" stroke-width="0.6"/>
<line x1="64.38" y1="146.6" x2="65.98" y2="146.6" stroke="#888" stroke-width="0.5"/>
<line x1="64.38" y1="157.73" x2="65.98" y2="157.73" stroke="#888" stroke-width="0.5"/>
<line x1="74.9" y1="138.49" x2="74.9" y2="144.85" stroke="#888" stroke-width="0.6"/>
<line x1="74.1" y1="138.49" x2="75.7" y2="138.49" stroke="#888" stroke-width="0.5"/>
<line x1="74.1" y1="144.85" x2="75.7" y2="144.85" stroke="#888" stroke-width="0.5"/>
<line x1="84.62" y1="144.14" x2="84.62" y2="152.09" stroke="#888" stroke-width="0.6"/>
<line x1="83.82" y1="144.14" x2="85.42" y2="144.14" stroke="#888" stroke-width="0.5"/>
<line x1="83.82" y1="152.09" x2="85.42" y2="152.09" stroke="#888" stroke-width="0.5"/>
<line x1="94.34" y1="134.52" x2="94.34" y2="142.47" stroke="#888" stroke-width="0.6"/>
<line x1="93.54" y1="134.52" x2="95.14" y2="134.52" stroke="#888" stroke-width="0.5"/>
<line x1="93.54" y1="142.47" x2="95.14" y2="142.47" stroke="#888" stroke-width="0.5"/>
<line x1="104.06" y1="147.95" x2="104.06" y2="160.67" stroke="#888" stroke-width="0.6"/>
<line x1="103.26" y1="147.95" x2="104.86" y2="147.95" stroke="#888" stroke-width="0.5"/>
<line x1="103.26" y1="160.67" x2="104.86" y2="160.67" stroke="#888" stroke-width="0.5"/>
<line x1="113.78" y1="140.16" x2="113.78" y2="148.11" stroke="#888" stroke-width="0.6"/>
<line x1="112.98" y1="140.16" x2="114.58" y2="140.16" stroke="#888" stroke-width="0.5"/>
<line x1="112.98" y1="148.11" x2="114.58" y2="148.11" stroke="#888" stroke-width="0.5"/>
<line x1="123.5" y1="147.16" x2="123.5" y2="153.52" stroke="#888" stroke-width="0.6"/>
<line x1="122.7" y1="147.16" x2="124.3" y2="147.16" stroke="#888" stroke-width="0.5"/>
<line x1="122.7" y1="153.52" x2="124.3" y2="153.52" stroke="#888" stroke-width="0.5"/>
<line x1="133.22" y1="142.55" x2="133.22" y2="153.68" stroke="#888" stroke-width="0.6"/>
<line x1="132.42" y1="142.55" x2="134.02" y2="142.55" stroke="#888" stroke-width="0.5"/>
<line x1="132.42" y1="153.68" x2="134.02" y2="153.68" stroke="#888" stroke-width="0.5"/>
<line x1="142.94" y1="183.65" x2="142.94" y2="188.42" stroke="#555" stroke-width="0.6"/>
<line x1="142.14" y1="183.65" x2="143.74" y2="183.65" stroke="#555" stroke-width="0.5"/>
<line x1="142.14" y1="188.42" x2="143.74" y2="188.42" stroke="#555" stroke-width="0.5"/>
<line x1="152.66" y1="184.6" x2="152.66" y2="189.37" stroke="#555" stroke-width="0.6"/>
<line x1="151.86" y1="184.6" x2="153.46" y2="184.6" stroke="#555" stroke-width="0.5"/>
<line x1="151.86" y1="189.37" x2="153.46" y2="189.37" stroke="#555" stroke-width="0.5"/>
<line x1="162.38" y1="171.8" x2="162.38" y2="179.75" stroke="#555" stroke-width="0.6"/>
<line x1="161.58" y1="171.8" x2="163.18" y2="171.8" stroke="#555" stroke-width="0.5"/>
<line x1="161.58" y1="179.75" x2="163.18" y2="179.75" stroke="#555" stroke-width="0.5"/>
<line x1="172.1" y1="188.1" x2="172.1" y2="192.87" stroke="#555" stroke-width="0.6"/>
<line x1="171.3" y1="188.1" x2="172.9" y2="188.1" stroke="#555" stroke-width="0.5"/>
<line x1="171.3" y1="192.87" x2="172.9" y2="192.87" stroke="#555" stroke-width="0.5"/>
<line x1="181.82" y1="173.15" x2="181.82" y2="181.1" stroke="#555" stroke-width="0.6"/>
<line x1="181.02" y1="173.15" x2="182.62" y2="173.15" stroke="#555" stroke-width="0.5"/>
<line x1="181.02" y1="181.1" x2="182.62" y2="181.1" stroke="#555" stroke-width="0.5"/>
<line x1="191.54" y1="169.97" x2="191.54" y2="177.92" stroke="#555" stroke-width="0.6"/>
<line x1="190.74" y1="169.97" x2="192.34" y2="169.97" stroke="#555" stroke-width="0.5"/>
<line x1="190.74" y1="177.92" x2="192.34" y2="177.92" stroke="#555" stroke-width="0.5"/>
<line x1="201.26" y1="146.36" x2="201.26" y2="168.62" stroke="#555" stroke-width="0.6"/>
<line x1="200.46" y1="146.36" x2="202.06" y2="146.36" stroke="#555" stroke-width="0.5"/>
<line x1="200.46" y1="168.62" x2="202.06" y2="168.62" stroke="#555" stroke-width="0.5"/>
<line x1="210.98" y1="169.42" x2="210.98" y2="182.14" stroke="#555" stroke-width="0.6"/>
<line x1="210.18" y1="169.42" x2="211.78" y2="169.42" stroke="#555" stroke-width="0.5"/>
<line x1="210.18" y1="182.14" x2="211.78" y2="182.14" stroke="#555" stroke-width="0.5"/>
<line x1="220.7" y1="174.5" x2="220.7" y2="184.04" stroke="#555" stroke-width="0.6"/>
<line x1="219.9" y1="174.5" x2="221.5" y2="174.5" stroke="#555" stroke-width="0.5"/>
<line x1="219.9" y1="184.04" x2="221.5" y2="184.04" stroke="#555" stroke-width="0.5"/>
<line x1="230.42" y1="166.95" x2="230.42" y2="176.49" stroke="#555" stroke-width="0.6"/>
<line x1="229.62" y1="166.95" x2="231.22" y2="166.95" stroke="#555" stroke-width="0.5"/>
<line x1="229.62" y1="176.49" x2="231.22" y2="176.49" stroke="#555" stroke-width="0.5"/>
<line x1="240.14" y1="183.65" x2="240.14" y2="193.19" stroke="#555" stroke-width="0.6"/>
<line x1="239.34" y1="183.65" x2="240.94" y2="183.65" stroke="#555" stroke-width="0.5"/>
<line x1="239.34" y1="193.19" x2="240.94" y2="193.19" stroke="#555" stroke-width="0.5"/>
<line x1="249.86" y1="174.74" x2="249.86" y2="181.1" stroke="#555" stroke-width="0.6"/>
<line x1="249.06" y1="174.74" x2="250.66" y2="174.74" stroke="#555" stroke-width="0.5"/>
<line x1="249.06" y1="181.1" x2="250.66" y2="181.1" stroke="#555" stroke-width="0.5"/>
<polyline points="26.3,155.58 36.02,157.81 45.74,160.51 55.46,149.46 65.18,149.46 74.9,144.37 84.62,148.11 94.34,152.17 104.06,143.82 113.78,149.78 123.5,149.78 133.22,162.26 142.94,176.02 152.66,176.02 162.38,174.19 172.1,178.48 181.82,176.33 191.54,175.54 201.26,164.49 210.98,160.51 220.7,163.69 230.42,174.43 240.14,174.43 249.86,178.48" fill="none" stroke="#2b2b2b" stroke-width="0.95" stroke-linejoin="miter"/>
<polyline points="26.3,157.73 36.02,160.04 45.74,145.73 55.46,139.52 65.18,152.17 74.9,141.67 84.62,148.11 94.34,138.49 104.06,154.31 113.78,144.14 123.5,150.34 133.22,148.11 142.94,186.03 152.66,186.99 162.38,175.78 172.1,190.48 181.82,177.13 191.54,173.95 201.26,157.49 210.98,175.78 220.7,179.27 230.42,171.72 240.14,188.42 249.86,177.92" fill="none" stroke="#e4854b" stroke-width="0.95" stroke-linejoin="miter"/>
<polygon points="239.3,103.4 239.91,104.86 241.49,104.99 240.28,106.02 240.65,107.56 239.3,106.73 237.95,107.56 238.32,106.02 237.11,104.99 238.69,104.86" fill="#333"/>
<rect x="138.05" y="227.9" width="116.75" height="86.7" fill="#b1b5b3"/>
<rect x="21.6" y="222.85" width="116.45" height="5.05" fill="#fff" stroke="#9a9a9a" stroke-width="0.6"/>
<rect x="138.05" y="222.85" width="116.75" height="5.05" fill="#000"/>
<line x1="21.6" y1="222.85" x2="21.6" y2="314.9" stroke="#555" stroke-width="0.8"/>
<line x1="21.6" y1="314.6" x2="255.2" y2="314.6" stroke="#555" stroke-width="0.8"/>
<line x1="19.6" y1="314.6" x2="21.6" y2="314.6" stroke="#555" stroke-width="0.6"/>
<text x="15.4" y="316.6" font-size="5.9" font-weight="bold" text-anchor="end" fill="#111" stroke="#111" stroke-width="0.18">0</text>
<line x1="19.6" y1="299.95" x2="21.6" y2="299.95" stroke="#555" stroke-width="0.6"/>
<text x="15.4" y="301.95" font-size="5.9" font-weight="bold" text-anchor="end" fill="#111" stroke="#111" stroke-width="0.18">5</text>
<line x1="19.6" y1="285.3" x2="21.6" y2="285.3" stroke="#555" stroke-width="0.6"/>
<text x="15.4" y="287.3" font-size="5.9" font-weight="bold" text-anchor="end" fill="#111" stroke="#111" stroke-width="0.18">10</text>
<line x1="19.6" y1="270.65" x2="21.6" y2="270.65" stroke="#555" stroke-width="0.6"/>
<text x="15.4" y="272.65" font-size="5.9" font-weight="bold" text-anchor="end" fill="#111" stroke="#111" stroke-width="0.18">15</text>
<line x1="19.6" y1="256" x2="21.6" y2="256" stroke="#555" stroke-width="0.6"/>
<text x="15.4" y="258" font-size="5.9" font-weight="bold" text-anchor="end" fill="#111" stroke="#111" stroke-width="0.18">20</text>
<line x1="19.6" y1="241.35" x2="21.6" y2="241.35" stroke="#555" stroke-width="0.6"/>
<text x="15.4" y="243.35" font-size="5.9" font-weight="bold" text-anchor="end" fill="#111" stroke="#111" stroke-width="0.18">25</text>
<line x1="19.6" y1="226.7" x2="21.6" y2="226.7" stroke="#555" stroke-width="0.6"/>
<text x="15.4" y="228.7" font-size="5.9" font-weight="bold" text-anchor="end" fill="#111" stroke="#111" stroke-width="0.18">30</text>
<line x1="26.3" y1="314.6" x2="26.3" y2="316.4" stroke="#555" stroke-width="0.6"/>
<text x="26.3" y="325.1" font-size="5.9" font-weight="bold" text-anchor="middle" fill="#111" stroke="#111" stroke-width="0.18">0</text>
<line x1="36.02" y1="314.6" x2="36.02" y2="316.4" stroke="#555" stroke-width="0.6"/>
<text x="36.02" y="325.1" font-size="5.9" font-weight="bold" text-anchor="middle" fill="#111" stroke="#111" stroke-width="0.18">1</text>
<line x1="45.74" y1="314.6" x2="45.74" y2="316.4" stroke="#555" stroke-width="0.6"/>
<text x="45.74" y="325.1" font-size="5.9" font-weight="bold" text-anchor="middle" fill="#111" stroke="#111" stroke-width="0.18">2</text>
<line x1="55.46" y1="314.6" x2="55.46" y2="316.4" stroke="#555" stroke-width="0.6"/>
<text x="55.46" y="325.1" font-size="5.9" font-weight="bold" text-anchor="middle" fill="#111" stroke="#111" stroke-width="0.18">3</text>
<line x1="65.18" y1="314.6" x2="65.18" y2="316.4" stroke="#555" stroke-width="0.6"/>
<text x="65.18" y="325.1" font-size="5.9" font-weight="bold" text-anchor="middle" fill="#111" stroke="#111" stroke-width="0.18">4</text>
<line x1="74.9" y1="314.6" x2="74.9" y2="316.4" stroke="#555" stroke-width="0.6"/>
<text x="74.9" y="325.1" font-size="5.9" font-weight="bold" text-anchor="middle" fill="#111" stroke="#111" stroke-width="0.18">5</text>
<line x1="84.62" y1="314.6" x2="84.62" y2="316.4" stroke="#555" stroke-width="0.6"/>
<text x="84.62" y="325.1" font-size="5.9" font-weight="bold" text-anchor="middle" fill="#111" stroke="#111" stroke-width="0.18">6</text>
<line x1="94.34" y1="314.6" x2="94.34" y2="316.4" stroke="#555" stroke-width="0.6"/>
<text x="94.34" y="325.1" font-size="5.9" font-weight="bold" text-anchor="middle" fill="#111" stroke="#111" stroke-width="0.18">7</text>
<line x1="104.06" y1="314.6" x2="104.06" y2="316.4" stroke="#555" stroke-width="0.6"/>
<text x="104.06" y="325.1" font-size="5.9" font-weight="bold" text-anchor="middle" fill="#111" stroke="#111" stroke-width="0.18">8</text>
<line x1="113.78" y1="314.6" x2="113.78" y2="316.4" stroke="#555" stroke-width="0.6"/>
<text x="113.78" y="325.1" font-size="5.9" font-weight="bold" text-anchor="middle" fill="#111" stroke="#111" stroke-width="0.18">9</text>
<line x1="123.5" y1="314.6" x2="123.5" y2="316.4" stroke="#555" stroke-width="0.6"/>
<text x="123.5" y="325.1" font-size="5.9" font-weight="bold" text-anchor="middle" fill="#111" stroke="#111" stroke-width="0.18">10</text>
<line x1="133.22" y1="314.6" x2="133.22" y2="316.4" stroke="#555" stroke-width="0.6"/>
<text x="133.22" y="325.1" font-size="5.9" font-weight="bold" text-anchor="middle" fill="#111" stroke="#111" stroke-width="0.18">11</text>
<line x1="142.94" y1="314.6" x2="142.94" y2="316.4" stroke="#555" stroke-width="0.6"/>
<text x="142.94" y="325.1" font-size="5.9" font-weight="bold" text-anchor="middle" fill="#111" stroke="#111" stroke-width="0.18">12</text>
<line x1="152.66" y1="314.6" x2="152.66" y2="316.4" stroke="#555" stroke-width="0.6"/>
<text x="152.66" y="325.1" font-size="5.9" font-weight="bold" text-anchor="middle" fill="#111" stroke="#111" stroke-width="0.18">13</text>
<line x1="162.38" y1="314.6" x2="162.38" y2="316.4" stroke="#555" stroke-width="0.6"/>
<text x="162.38" y="325.1" font-size="5.9" font-weight="bold" text-anchor="middle" fill="#111" stroke="#111" stroke-width="0.18">14</text>
<line x1="172.1" y1="314.6" x2="172.1" y2="316.4" stroke="#555" stroke-width="0.6"/>
<text x="172.1" y="325.1" font-size="5.9" font-weight="bold" text-anchor="middle" fill="#111" stroke="#111" stroke-width="0.18">15</text>
<line x1="181.82" y1="314.6" x2="181.82" y2="316.4" stroke="#555" stroke-width="0.6"/>
<text x="181.82" y="325.1" font-size="5.9" font-weight="bold" text-anchor="middle" fill="#111" stroke="#111" stroke-width="0.18">16</text>
<line x1="191.54" y1="314.6" x2="191.54" y2="316.4" stroke="#555" stroke-width="0.6"/>
<text x="191.54" y="325.1" font-size="5.9" font-weight="bold" text-anchor="middle" fill="#111" stroke="#111" stroke-width="0.18">17</text>
<line x1="201.26" y1="314.6" x2="201.26" y2="316.4" stroke="#555" stroke-width="0.6"/>
<text x="201.26" y="325.1" font-size="5.9" font-weight="bold" text-anchor="middle" fill="#111" stroke="#111" stroke-width="0.18">18</text>
<line x1="210.98" y1="314.6" x2="210.98" y2="316.4" stroke="#555" stroke-width="0.6"/>
<text x="210.98" y="325.1" font-size="5.9" font-weight="bold" text-anchor="middle" fill="#111" stroke="#111" stroke-width="0.18">19</text>
<line x1="220.7" y1="314.6" x2="220.7" y2="316.4" stroke="#555" stroke-width="0.6"/>
<text x="220.7" y="325.1" font-size="5.9" font-weight="bold" text-anchor="middle" fill="#111" stroke="#111" stroke-width="0.18">20</text>
<line x1="230.42" y1="314.6" x2="230.42" y2="316.4" stroke="#555" stroke-width="0.6"/>
<text x="230.42" y="325.1" font-size="5.9" font-weight="bold" text-anchor="middle" fill="#111" stroke="#111" stroke-width="0.18">21</text>
<line x1="240.14" y1="314.6" x2="240.14" y2="316.4" stroke="#555" stroke-width="0.6"/>
<text x="240.14" y="325.1" font-size="5.9" font-weight="bold" text-anchor="middle" fill="#111" stroke="#111" stroke-width="0.18">22</text>
<line x1="249.86" y1="314.6" x2="249.86" y2="316.4" stroke="#555" stroke-width="0.6"/>
<text x="249.86" y="325.1" font-size="5.9" font-weight="bold" text-anchor="middle" fill="#111" stroke="#111" stroke-width="0.18">23</text>
<text x="137.55" y="332.35" font-size="7.1" font-weight="bold" text-anchor="middle" fill="#111" textLength="60.22" lengthAdjust="spacingAndGlyphs" stroke="#111" stroke-width="0.15">Zeitgeber time (h)</text>
<text x="4.9" y="270.15" font-size="7.0" font-weight="bold" text-anchor="middle" fill="#111" transform="rotate(-90 4.9 270.15)" textLength="27.22" lengthAdjust="spacingAndGlyphs">REM (%)</text>
<line x1="26.3" y1="279.15" x2="26.3" y2="305.52" stroke="#888" stroke-width="0.6"/>
<line x1="25.5" y1="279.15" x2="27.1" y2="279.15" stroke="#888" stroke-width="0.5"/>
<line x1="25.5" y1="305.52" x2="27.1" y2="305.52" stroke="#888" stroke-width="0.5"/>
<line x1="36.02" y1="275.05" x2="36.02" y2="295.56" stroke="#888" stroke-width="0.6"/>
<line x1="35.22" y1="275.05" x2="36.82" y2="275.05" stroke="#888" stroke-width="0.5"/>
<line x1="35.22" y1="295.56" x2="36.82" y2="295.56" stroke="#888" stroke-width="0.5"/>
<line x1="45.74" y1="284.42" x2="45.74" y2="299.07" stroke="#888" stroke-width="0.6"/>
<line x1="44.94" y1="284.42" x2="46.54" y2="284.42" stroke="#888" stroke-width="0.5"/>
<line x1="44.94" y1="299.07" x2="46.54" y2="299.07" stroke="#888" stroke-width="0.5"/>
<line x1="55.46" y1="269.19" x2="55.46" y2="279.15" stroke="#888" stroke-width="0.6"/>
<line x1="54.66" y1="269.19" x2="56.26" y2="269.19" stroke="#888" stroke-width="0.5"/>
<line x1="54.66" y1="279.15" x2="56.26" y2="279.15" stroke="#888" stroke-width="0.5"/>
<line x1="65.18" y1="267.43" x2="65.18" y2="279.15" stroke="#888" stroke-width="0.6"/>
<line x1="64.38" y1="267.43" x2="65.98" y2="267.43" stroke="#888" stroke-width="0.5"/>
<line x1="64.38" y1="279.15" x2="65.98" y2="279.15" stroke="#888" stroke-width="0.5"/>
<line x1="74.9" y1="260.1" x2="74.9" y2="277.68" stroke="#888" stroke-width="0.6"/>
<line x1="74.1" y1="260.1" x2="75.7" y2="260.1" stroke="#888" stroke-width="0.5"/>
<line x1="74.1" y1="277.68" x2="75.7" y2="277.68" stroke="#888" stroke-width="0.5"/>
<line x1="84.62" y1="248.38" x2="84.62" y2="271.82" stroke="#888" stroke-width="0.6"/>
<line x1="83.82" y1="248.38" x2="85.42" y2="248.38" stroke="#888" stroke-width="0.5"/>
<line x1="83.82" y1="271.82" x2="85.42" y2="271.82" stroke="#888" stroke-width="0.5"/>
<line x1="94.34" y1="265.38" x2="94.34" y2="282.96" stroke="#888" stroke-width="0.6"/>
<line x1="93.54" y1="265.38" x2="95.14" y2="265.38" stroke="#888" stroke-width="0.5"/>
<line x1="93.54" y1="282.96" x2="95.14" y2="282.96" stroke="#888" stroke-width="0.5"/>
<line x1="104.06" y1="249.85" x2="104.06" y2="279.15" stroke="#888" stroke-width="0.6"/>
<line x1="103.26" y1="249.85" x2="104.86" y2="249.85" stroke="#888" stroke-width="0.5"/>
<line x1="103.26" y1="279.15" x2="104.86" y2="279.15" stroke="#888" stroke-width="0.5"/>
<line x1="113.78" y1="243.99" x2="113.78" y2="267.43" stroke="#888" stroke-width="0.6"/>
<line x1="112.98" y1="243.99" x2="114.58" y2="243.99" stroke="#888" stroke-width="0.5"/>
<line x1="112.98" y1="267.43" x2="114.58" y2="267.43" stroke="#888" stroke-width="0.5"/>
<line x1="123.5" y1="254.24" x2="123.5" y2="271.82" stroke="#888" stroke-width="0.6"/>
<line x1="122.7" y1="254.24" x2="124.3" y2="254.24" stroke="#888" stroke-width="0.5"/>
<line x1="122.7" y1="271.82" x2="124.3" y2="271.82" stroke="#888" stroke-width="0.5"/>
<line x1="133.22" y1="264.5" x2="133.22" y2="287.94" stroke="#888" stroke-width="0.6"/>
<line x1="132.42" y1="264.5" x2="134.02" y2="264.5" stroke="#888" stroke-width="0.5"/>
<line x1="132.42" y1="287.94" x2="134.02" y2="287.94" stroke="#888" stroke-width="0.5"/>
<line x1="142.94" y1="301.12" x2="142.94" y2="312.84" stroke="#555" stroke-width="0.6"/>
<line x1="142.14" y1="301.12" x2="143.74" y2="301.12" stroke="#555" stroke-width="0.5"/>
<line x1="142.14" y1="312.84" x2="143.74" y2="312.84" stroke="#555" stroke-width="0.5"/>
<line x1="152.66" y1="295.56" x2="152.66" y2="307.28" stroke="#555" stroke-width="0.6"/>
<line x1="151.86" y1="295.56" x2="153.46" y2="295.56" stroke="#555" stroke-width="0.5"/>
<line x1="151.86" y1="307.28" x2="153.46" y2="307.28" stroke="#555" stroke-width="0.5"/>
<line x1="162.38" y1="299.07" x2="162.38" y2="313.72" stroke="#555" stroke-width="0.6"/>
<line x1="161.58" y1="299.07" x2="163.18" y2="299.07" stroke="#555" stroke-width="0.5"/>
<line x1="161.58" y1="313.72" x2="163.18" y2="313.72" stroke="#555" stroke-width="0.5"/>
<line x1="172.1" y1="302" x2="172.1" y2="310.79" stroke="#555" stroke-width="0.6"/>
<line x1="171.3" y1="302" x2="172.9" y2="302" stroke="#555" stroke-width="0.5"/>
<line x1="171.3" y1="310.79" x2="172.9" y2="310.79" stroke="#555" stroke-width="0.5"/>
<line x1="181.82" y1="300.24" x2="181.82" y2="309.03" stroke="#555" stroke-width="0.6"/>
<line x1="181.02" y1="300.24" x2="182.62" y2="300.24" stroke="#555" stroke-width="0.5"/>
<line x1="181.02" y1="309.03" x2="182.62" y2="309.03" stroke="#555" stroke-width="0.5"/>
<line x1="191.54" y1="299.95" x2="191.54" y2="311.67" stroke="#555" stroke-width="0.6"/>
<line x1="190.74" y1="299.95" x2="192.34" y2="299.95" stroke="#555" stroke-width="0.5"/>
<line x1="190.74" y1="311.67" x2="192.34" y2="311.67" stroke="#555" stroke-width="0.5"/>
<line x1="201.26" y1="292.62" x2="201.26" y2="307.28" stroke="#555" stroke-width="0.6"/>
<line x1="200.46" y1="292.62" x2="202.06" y2="292.62" stroke="#555" stroke-width="0.5"/>
<line x1="200.46" y1="307.28" x2="202.06" y2="307.28" stroke="#555" stroke-width="0.5"/>
<line x1="210.98" y1="271.53" x2="210.98" y2="300.83" stroke="#555" stroke-width="0.6"/>
<line x1="210.18" y1="271.53" x2="211.78" y2="271.53" stroke="#555" stroke-width="0.5"/>
<line x1="210.18" y1="300.83" x2="211.78" y2="300.83" stroke="#555" stroke-width="0.5"/>
<line x1="220.7" y1="277.39" x2="220.7" y2="294.97" stroke="#555" stroke-width="0.6"/>
<line x1="219.9" y1="277.39" x2="221.5" y2="277.39" stroke="#555" stroke-width="0.5"/>
<line x1="219.9" y1="294.97" x2="221.5" y2="294.97" stroke="#555" stroke-width="0.5"/>
<line x1="230.42" y1="296.73" x2="230.42" y2="314.31" stroke="#555" stroke-width="0.6"/>
<line x1="229.62" y1="296.73" x2="231.22" y2="296.73" stroke="#555" stroke-width="0.5"/>
<line x1="229.62" y1="314.31" x2="231.22" y2="314.31" stroke="#555" stroke-width="0.5"/>
<line x1="240.14" y1="300.24" x2="240.14" y2="309.03" stroke="#555" stroke-width="0.6"/>
<line x1="239.34" y1="300.24" x2="240.94" y2="300.24" stroke="#555" stroke-width="0.5"/>
<line x1="239.34" y1="309.03" x2="240.94" y2="309.03" stroke="#555" stroke-width="0.5"/>
<line x1="249.86" y1="304.35" x2="249.86" y2="313.14" stroke="#555" stroke-width="0.6"/>
<line x1="249.06" y1="304.35" x2="250.66" y2="304.35" stroke="#555" stroke-width="0.5"/>
<line x1="249.06" y1="313.14" x2="250.66" y2="313.14" stroke="#555" stroke-width="0.5"/>
<line x1="26.3" y1="282.37" x2="26.3" y2="294.09" stroke="#888" stroke-width="0.6"/>
<line x1="25.5" y1="282.37" x2="27.1" y2="282.37" stroke="#888" stroke-width="0.5"/>
<line x1="25.5" y1="294.09" x2="27.1" y2="294.09" stroke="#888" stroke-width="0.5"/>
<line x1="36.02" y1="278.56" x2="36.02" y2="290.28" stroke="#888" stroke-width="0.6"/>
<line x1="35.22" y1="278.56" x2="36.82" y2="278.56" stroke="#888" stroke-width="0.5"/>
<line x1="35.22" y1="290.28" x2="36.82" y2="290.28" stroke="#888" stroke-width="0.5"/>
<line x1="45.74" y1="255.71" x2="45.74" y2="270.36" stroke="#888" stroke-width="0.6"/>
<line x1="44.94" y1="255.71" x2="46.54" y2="255.71" stroke="#888" stroke-width="0.5"/>
<line x1="44.94" y1="270.36" x2="46.54" y2="270.36" stroke="#888" stroke-width="0.5"/>
<line x1="55.46" y1="253.66" x2="55.46" y2="262.45" stroke="#888" stroke-width="0.6"/>
<line x1="54.66" y1="253.66" x2="56.26" y2="253.66" stroke="#888" stroke-width="0.5"/>
<line x1="54.66" y1="262.45" x2="56.26" y2="262.45" stroke="#888" stroke-width="0.5"/>
<line x1="65.18" y1="272.41" x2="65.18" y2="284.13" stroke="#888" stroke-width="0.6"/>
<line x1="64.38" y1="272.41" x2="65.98" y2="272.41" stroke="#888" stroke-width="0.5"/>
<line x1="64.38" y1="284.13" x2="65.98" y2="284.13" stroke="#888" stroke-width="0.5"/>
<line x1="74.9" y1="244.87" x2="74.9" y2="268.31" stroke="#888" stroke-width="0.6"/>
<line x1="74.1" y1="244.87" x2="75.7" y2="244.87" stroke="#888" stroke-width="0.5"/>
<line x1="74.1" y1="268.31" x2="75.7" y2="268.31" stroke="#888" stroke-width="0.5"/>
<line x1="84.62" y1="272.41" x2="84.62" y2="289.99" stroke="#888" stroke-width="0.6"/>
<line x1="83.82" y1="272.41" x2="85.42" y2="272.41" stroke="#888" stroke-width="0.5"/>
<line x1="83.82" y1="289.99" x2="85.42" y2="289.99" stroke="#888" stroke-width="0.5"/>
<line x1="94.34" y1="249.85" x2="94.34" y2="264.5" stroke="#888" stroke-width="0.6"/>
<line x1="93.54" y1="249.85" x2="95.14" y2="249.85" stroke="#888" stroke-width="0.5"/>
<line x1="93.54" y1="264.5" x2="95.14" y2="264.5" stroke="#888" stroke-width="0.5"/>
<line x1="104.06" y1="266.84" x2="104.06" y2="284.42" stroke="#888" stroke-width="0.6"/>
<line x1="103.26" y1="266.84" x2="104.86" y2="266.84" stroke="#888" stroke-width="0.5"/>
<line x1="103.26" y1="284.42" x2="104.86" y2="284.42" stroke="#888" stroke-width="0.5"/>
<line x1="113.78" y1="232.27" x2="113.78" y2="261.57" stroke="#888" stroke-width="0.6"/>
<line x1="112.98" y1="232.27" x2="114.58" y2="232.27" stroke="#888" stroke-width="0.5"/>
<line x1="112.98" y1="261.57" x2="114.58" y2="261.57" stroke="#888" stroke-width="0.5"/>
<line x1="123.5" y1="264.5" x2="123.5" y2="282.08" stroke="#888" stroke-width="0.6"/>
<line x1="122.7" y1="264.5" x2="124.3" y2="264.5" stroke="#888" stroke-width="0.5"/>
<line x1="122.7" y1="282.08" x2="124.3" y2="282.08" stroke="#888" stroke-width="0.5"/>
<line x1="133.22" y1="261.57" x2="133.22" y2="273.29" stroke="#888" stroke-width="0.6"/>
<line x1="132.42" y1="261.57" x2="134.02" y2="261.57" stroke="#888" stroke-width="0.5"/>
<line x1="132.42" y1="273.29" x2="134.02" y2="273.29" stroke="#888" stroke-width="0.5"/>
<line x1="142.94" y1="306.98" x2="142.94" y2="314.6" stroke="#555" stroke-width="0.6"/>
<line x1="142.14" y1="306.98" x2="143.74" y2="306.98" stroke="#555" stroke-width="0.5"/>
<line x1="142.14" y1="314.6" x2="143.74" y2="314.6" stroke="#555" stroke-width="0.5"/>
<line x1="152.66" y1="309.91" x2="152.66" y2="314.6" stroke="#555" stroke-width="0.6"/>
<line x1="151.86" y1="309.91" x2="153.46" y2="309.91" stroke="#555" stroke-width="0.5"/>
<line x1="151.86" y1="314.6" x2="153.46" y2="314.6" stroke="#555" stroke-width="0.5"/>
<line x1="162.38" y1="299.66" x2="162.38" y2="311.38" stroke="#555" stroke-width="0.6"/>
<line x1="161.58" y1="299.66" x2="163.18" y2="299.66" stroke="#555" stroke-width="0.5"/>
<line x1="161.58" y1="311.38" x2="163.18" y2="311.38" stroke="#555" stroke-width="0.5"/>
<line x1="172.1" y1="311.38" x2="172.1" y2="314.6" stroke="#555" stroke-width="0.6"/>
<line x1="171.3" y1="311.38" x2="172.9" y2="311.38" stroke="#555" stroke-width="0.5"/>
<line x1="171.3" y1="314.6" x2="172.9" y2="314.6" stroke="#555" stroke-width="0.5"/>
<line x1="181.82" y1="305.52" x2="181.82" y2="314.31" stroke="#555" stroke-width="0.6"/>
<line x1="181.02" y1="305.52" x2="182.62" y2="305.52" stroke="#555" stroke-width="0.5"/>
<line x1="181.02" y1="314.31" x2="182.62" y2="314.31" stroke="#555" stroke-width="0.5"/>
<line x1="191.54" y1="300.54" x2="191.54" y2="312.26" stroke="#555" stroke-width="0.6"/>
<line x1="190.74" y1="300.54" x2="192.34" y2="300.54" stroke="#555" stroke-width="0.5"/>
<line x1="190.74" y1="312.26" x2="192.34" y2="312.26" stroke="#555" stroke-width="0.5"/>
<line x1="201.26" y1="295.26" x2="201.26" y2="306.98" stroke="#555" stroke-width="0.6"/>
<line x1="200.46" y1="295.26" x2="202.06" y2="295.26" stroke="#555" stroke-width="0.5"/>
<line x1="200.46" y1="306.98" x2="202.06" y2="306.98" stroke="#555" stroke-width="0.5"/>
<line x1="210.98" y1="291.16" x2="210.98" y2="314.6" stroke="#555" stroke-width="0.6"/>
<line x1="210.18" y1="291.16" x2="211.78" y2="291.16" stroke="#555" stroke-width="0.5"/>
<line x1="210.18" y1="314.6" x2="211.78" y2="314.6" stroke="#555" stroke-width="0.5"/>
<line x1="220.7" y1="302.88" x2="220.7" y2="314.6" stroke="#555" stroke-width="0.6"/>
<line x1="219.9" y1="302.88" x2="221.5" y2="302.88" stroke="#555" stroke-width="0.5"/>
<line x1="219.9" y1="314.6" x2="221.5" y2="314.6" stroke="#555" stroke-width="0.5"/>
<line x1="230.42" y1="289.4" x2="230.42" y2="306.98" stroke="#555" stroke-width="0.6"/>
<line x1="229.62" y1="289.4" x2="231.22" y2="289.4" stroke="#555" stroke-width="0.5"/>
<line x1="229.62" y1="306.98" x2="231.22" y2="306.98" stroke="#555" stroke-width="0.5"/>
<line x1="240.14" y1="309.91" x2="240.14" y2="314.6" stroke="#555" stroke-width="0.6"/>
<line x1="239.34" y1="309.91" x2="240.94" y2="309.91" stroke="#555" stroke-width="0.5"/>
<line x1="239.34" y1="314.6" x2="240.94" y2="314.6" stroke="#555" stroke-width="0.5"/>
<line x1="249.86" y1="303.47" x2="249.86" y2="312.26" stroke="#555" stroke-width="0.6"/>
<line x1="249.06" y1="303.47" x2="250.66" y2="303.47" stroke="#555" stroke-width="0.5"/>
<line x1="249.06" y1="312.26" x2="250.66" y2="312.26" stroke="#555" stroke-width="0.5"/>
<polyline points="26.3,292.33 36.02,285.3 45.74,291.75 55.46,274.17 65.18,273.29 74.9,268.89 84.62,260.1 94.34,274.17 104.06,264.5 113.78,255.71 123.5,263.03 133.22,276.22 142.94,306.98 152.66,301.42 162.38,306.4 172.1,306.4 181.82,304.64 191.54,305.81 201.26,299.95 210.98,286.18 220.7,286.18 230.42,305.52 240.14,304.64 249.86,308.74" fill="none" stroke="#2b2b2b" stroke-width="0.95" stroke-linejoin="miter"/>
<polyline points="26.3,288.23 36.02,284.42 45.74,263.03 55.46,258.05 65.18,278.27 74.9,256.59 84.62,281.2 94.34,257.17 104.06,275.63 113.78,246.92 123.5,273.29 133.22,267.43 142.94,311.38 152.66,314.31 162.38,305.52 172.1,314.31 181.82,309.91 191.54,306.4 201.26,301.12 210.98,302.88 220.7,308.74 230.42,298.19 240.14,314.31 249.86,307.86" fill="none" stroke="#e4854b" stroke-width="0.95" stroke-linejoin="miter"/>
<polygon points="42.5,216 43.11,217.46 44.69,217.59 43.48,218.62 43.85,220.16 42.5,219.34 41.15,220.16 41.52,218.62 40.31,217.59 41.89,217.46" fill="#333"/>
<polygon points="220.1,216.4 220.71,217.86 222.29,217.99 221.08,219.02 221.45,220.56 220.1,219.73 218.75,220.56 219.12,219.02 217.91,217.99 219.49,217.86" fill="#333"/>
<polygon points="239.3,216.4 239.91,217.86 241.49,217.99 240.28,219.02 240.65,220.56 239.3,219.73 237.95,220.56 238.32,219.02 237.11,217.99 238.69,217.86" fill="#333"/>
<text x="262.8" y="8.9" font-size="12" font-weight="bold" text-anchor="start" fill="#111">b</text>
<rect x="294.2" y="43.13" width="11.6" height="41.97" fill="#000"/>
<line x1="300" y1="43.13" x2="300" y2="41.94" stroke="#000" stroke-width="0.7"/>
<line x1="297.3" y1="41.94" x2="302.7" y2="41.94" stroke="#000" stroke-width="0.7"/>
<circle cx="296.3" cy="48.53" r="1.2" fill="#fff" stroke="#9a9a9a" stroke-width="0.5"/>
<circle cx="301.3" cy="46.43" r="1.2" fill="#fff" stroke="#9a9a9a" stroke-width="0.5"/>
<circle cx="297.5" cy="44.78" r="1.2" fill="#fff" stroke="#9a9a9a" stroke-width="0.5"/>
<circle cx="302.6" cy="43.49" r="1.2" fill="#fff" stroke="#9a9a9a" stroke-width="0.5"/>
<circle cx="300.1" cy="43.13" r="1.2" fill="#fff" stroke="#9a9a9a" stroke-width="0.5"/>
<circle cx="297.22" cy="41.64" r="1.2" fill="#fff" stroke="#9a9a9a" stroke-width="0.5"/>
<circle cx="303.98" cy="40.99" r="1.2" fill="#fff" stroke="#9a9a9a" stroke-width="0.5"/>
<circle cx="299.44" cy="40.32" r="1.2" fill="#fff" stroke="#9a9a9a" stroke-width="0.5"/>
<circle cx="295.85" cy="38.74" r="1.2" fill="#fff" stroke="#9a9a9a" stroke-width="0.5"/>
<circle cx="300.1" cy="37.73" r="1.2" fill="#fff" stroke="#9a9a9a" stroke-width="0.5"/>
<rect x="311.8" y="44.07" width="11.6" height="41.03" fill="#cd2316" stroke="#1a0505" stroke-width="0.6"/>
<line x1="317.6" y1="44.07" x2="317.6" y2="42.49" stroke="#c8231a" stroke-width="0.7"/>
<line x1="314.9" y1="42.49" x2="320.3" y2="42.49" stroke="#c8231a" stroke-width="0.7"/>
<circle cx="313.9" cy="51.27" r="1.2" fill="#fff" stroke="#e59a9a" stroke-width="0.5"/>
<circle cx="318.9" cy="48.47" r="1.2" fill="#fff" stroke="#e59a9a" stroke-width="0.5"/>
<circle cx="317.7" cy="46.27" r="1.2" fill="#fff" stroke="#e59a9a" stroke-width="0.5"/>
<circle cx="320.2" cy="44.55" r="1.2" fill="#fff" stroke="#e59a9a" stroke-width="0.5"/>
<circle cx="316.4" cy="44.07" r="1.2" fill="#fff" stroke="#e59a9a" stroke-width="0.5"/>
<circle cx="313.9" cy="43.75" r="1.2" fill="#fff" stroke="#e59a9a" stroke-width="0.5"/>
<circle cx="318.07" cy="41.95" r="1.2" fill="#fff" stroke="#e59a9a" stroke-width="0.5"/>
<circle cx="321.4" cy="41.67" r="1.2" fill="#fff" stroke="#e59a9a" stroke-width="0.5"/>
<circle cx="318.9" cy="39.47" r="1.2" fill="#fff" stroke="#e59a9a" stroke-width="0.5"/>
<circle cx="317.7" cy="36.87" r="1.2" fill="#fff" stroke="#e59a9a" stroke-width="0.5"/>
<rect x="329.1" y="60.5" width="11.6" height="24.6" fill="#000"/>
<line x1="334.9" y1="60.5" x2="334.9" y2="59.31" stroke="#000" stroke-width="0.7"/>
<line x1="332.2" y1="59.31" x2="337.6" y2="59.31" stroke="#000" stroke-width="0.7"/>
<circle cx="331.2" cy="65.9" r="1.2" fill="#fff" stroke="#9a9a9a" stroke-width="0.5"/>
<circle cx="336.2" cy="63.8" r="1.2" fill="#fff" stroke="#9a9a9a" stroke-width="0.5"/>
<circle cx="332.4" cy="62.15" r="1.2" fill="#fff" stroke="#9a9a9a" stroke-width="0.5"/>
<circle cx="337.5" cy="60.86" r="1.2" fill="#fff" stroke="#9a9a9a" stroke-width="0.5"/>
<circle cx="335" cy="60.5" r="1.2" fill="#fff" stroke="#9a9a9a" stroke-width="0.5"/>
<circle cx="338.24" cy="59.26" r="1.2" fill="#fff" stroke="#9a9a9a" stroke-width="0.5"/>
<circle cx="331.2" cy="60.02" r="1.2" fill="#fff" stroke="#9a9a9a" stroke-width="0.5"/>
<circle cx="332.61" cy="57.43" r="1.2" fill="#fff" stroke="#9a9a9a" stroke-width="0.5"/>
<circle cx="336.2" cy="57.05" r="1.2" fill="#fff" stroke="#9a9a9a" stroke-width="0.5"/>
<circle cx="331.2" cy="55.1" r="1.2" fill="#fff" stroke="#9a9a9a" stroke-width="0.5"/>
<rect x="346.7" y="59.55" width="11.6" height="25.55" fill="#cd2316" stroke="#1a0505" stroke-width="0.6"/>
<line x1="352.5" y1="59.55" x2="352.5" y2="58.37" stroke="#c8231a" stroke-width="0.7"/>
<line x1="349.8" y1="58.37" x2="355.2" y2="58.37" stroke="#c8231a" stroke-width="0.7"/>
<circle cx="356.3" cy="64.95" r="1.2" fill="#fff" stroke="#e59a9a" stroke-width="0.5"/>
<circle cx="350" cy="62.85" r="1.2" fill="#fff" stroke="#e59a9a" stroke-width="0.5"/>
<circle cx="353.8" cy="61.2" r="1.2" fill="#fff" stroke="#e59a9a" stroke-width="0.5"/>
<circle cx="356.3" cy="59.91" r="1.2" fill="#fff" stroke="#e59a9a" stroke-width="0.5"/>
<circle cx="350" cy="59.55" r="1.2" fill="#fff" stroke="#e59a9a" stroke-width="0.5"/>
<circle cx="350.56" cy="58" r="1.2" fill="#fff" stroke="#e59a9a" stroke-width="0.5"/>
<circle cx="353.37" cy="57.64" r="1.2" fill="#fff" stroke="#e59a9a" stroke-width="0.5"/>
<circle cx="354.77" cy="55.98" r="1.2" fill="#fff" stroke="#e59a9a" stroke-width="0.5"/>
<circle cx="348.8" cy="56.1" r="1.2" fill="#fff" stroke="#e59a9a" stroke-width="0.5"/>
<circle cx="351.3" cy="54.15" r="1.2" fill="#fff" stroke="#e59a9a" stroke-width="0.5"/>
<rect x="364" y="25.21" width="11.6" height="59.89" fill="#000"/>
<line x1="369.8" y1="25.21" x2="369.8" y2="23.63" stroke="#000" stroke-width="0.7"/>
<line x1="367.1" y1="23.63" x2="372.5" y2="23.63" stroke="#000" stroke-width="0.7"/>
<circle cx="372.4" cy="32.41" r="1.2" fill="#fff" stroke="#9a9a9a" stroke-width="0.5"/>
<circle cx="368.6" cy="29.61" r="1.2" fill="#fff" stroke="#9a9a9a" stroke-width="0.5"/>
<circle cx="373.6" cy="27.41" r="1.2" fill="#fff" stroke="#9a9a9a" stroke-width="0.5"/>
<circle cx="367.3" cy="25.69" r="1.2" fill="#fff" stroke="#9a9a9a" stroke-width="0.5"/>
<circle cx="371.1" cy="25.21" r="1.2" fill="#fff" stroke="#9a9a9a" stroke-width="0.5"/>
<circle cx="373.6" cy="24.89" r="1.2" fill="#fff" stroke="#9a9a9a" stroke-width="0.5"/>
<circle cx="373.07" cy="23.39" r="1.2" fill="#fff" stroke="#9a9a9a" stroke-width="0.5"/>
<circle cx="366.1" cy="22.81" r="1.2" fill="#fff" stroke="#9a9a9a" stroke-width="0.5"/>
<circle cx="368.6" cy="20.61" r="1.2" fill="#fff" stroke="#9a9a9a" stroke-width="0.5"/>
<circle cx="373.6" cy="18.01" r="1.2" fill="#fff" stroke="#9a9a9a" stroke-width="0.5"/>
<rect x="381.3" y="28.19" width="11.6" height="56.91" fill="#cd2316" stroke="#1a0505" stroke-width="0.6"/>
<line x1="387.1" y1="28.19" x2="387.1" y2="25.82" stroke="#c8231a" stroke-width="0.7"/>
<line x1="384.4" y1="25.82" x2="389.8" y2="25.82" stroke="#c8231a" stroke-width="0.7"/>
<circle cx="388.4" cy="38.99" r="1.2" fill="#fff" stroke="#e59a9a" stroke-width="0.5"/>
<circle cx="387.2" cy="34.79" r="1.2" fill="#fff" stroke="#e59a9a" stroke-width="0.5"/>
<circle cx="389.7" cy="31.49" r="1.2" fill="#fff" stroke="#e59a9a" stroke-width="0.5"/>
<circle cx="385.9" cy="28.91" r="1.2" fill="#fff" stroke="#e59a9a" stroke-width="0.5"/>
<circle cx="390.9" cy="28.19" r="1.2" fill="#fff" stroke="#e59a9a" stroke-width="0.5"/>
<circle cx="383.4" cy="27.71" r="1.2" fill="#fff" stroke="#e59a9a" stroke-width="0.5"/>
<circle cx="388.4" cy="27.23" r="1.2" fill="#fff" stroke="#e59a9a" stroke-width="0.5"/>
<circle cx="388.4" cy="24.59" r="1.2" fill="#fff" stroke="#e59a9a" stroke-width="0.5"/>
<circle cx="387.2" cy="21.29" r="1.2" fill="#fff" stroke="#e59a9a" stroke-width="0.5"/>
<circle cx="389.7" cy="17.39" r="1.2" fill="#fff" stroke="#e59a9a" stroke-width="0.5"/>
<line x1="288.3" y1="6.2" x2="288.3" y2="85.5" stroke="#111" stroke-width="0.9"/>
<line x1="287.9" y1="85.1" x2="398.9" y2="85.1" stroke="#111" stroke-width="0.9"/>
<line x1="285.7" y1="85.1" x2="288.3" y2="85.1" stroke="#111" stroke-width="0.8"/>
<text x="283.9" y="87.2" font-size="5.9" font-weight="bold" text-anchor="end" fill="#111">0</text>
<line x1="285.7" y1="69.38" x2="288.3" y2="69.38" stroke="#111" stroke-width="0.8"/>
<text x="283.9" y="71.48" font-size="5.9" font-weight="bold" text-anchor="end" fill="#111">20</text>
<line x1="285.7" y1="53.66" x2="288.3" y2="53.66" stroke="#111" stroke-width="0.8"/>
<text x="283.9" y="55.76" font-size="5.9" font-weight="bold" text-anchor="end" fill="#111">40</text>
<line x1="285.7" y1="37.94" x2="288.3" y2="37.94" stroke="#111" stroke-width="0.8"/>
<text x="283.9" y="40.04" font-size="5.9" font-weight="bold" text-anchor="end" fill="#111">60</text>
<line x1="285.7" y1="22.22" x2="288.3" y2="22.22" stroke="#111" stroke-width="0.8"/>
<text x="283.9" y="24.32" font-size="5.9" font-weight="bold" text-anchor="end" fill="#111">80</text>
<line x1="285.7" y1="6.5" x2="288.3" y2="6.5" stroke="#111" stroke-width="0.8"/>
<text x="283.9" y="8.6" font-size="5.9" font-weight="bold" text-anchor="end" fill="#111">100</text>
<text x="310.6" y="93.5" font-size="6.0" font-weight="bold" text-anchor="end" fill="#111" transform="rotate(-45 310.6 93.5)">24h</text>
<text x="345.5" y="93.5" font-size="6.0" font-weight="bold" text-anchor="end" fill="#111" transform="rotate(-45 345.5 93.5)">Light</text>
<text x="380.25" y="93.5" font-size="6.0" font-weight="bold" text-anchor="end" fill="#111" transform="rotate(-45 380.25 93.5)">Dark</text>
<text x="270.35" y="45.4" font-size="6.8" font-weight="bold" text-anchor="middle" fill="#111" transform="rotate(-90 270.35 45.4)" textLength="58.4" lengthAdjust="spacingAndGlyphs">Wake duration (%)</text>
<rect x="438.1" y="54.68" width="11.6" height="30.42" fill="#000"/>
<line x1="443.9" y1="54.68" x2="443.9" y2="53.5" stroke="#000" stroke-width="0.7"/>
<line x1="441.2" y1="53.5" x2="446.6" y2="53.5" stroke="#000" stroke-width="0.7"/>
<circle cx="446.5" cy="60.08" r="1.2" fill="#fff" stroke="#9a9a9a" stroke-width="0.5"/>
<circle cx="442.7" cy="57.98" r="1.2" fill="#fff" stroke="#9a9a9a" stroke-width="0.5"/>
<circle cx="447.7" cy="56.33" r="1.2" fill="#fff" stroke="#9a9a9a" stroke-width="0.5"/>
<circle cx="441.4" cy="55.04" r="1.2" fill="#fff" stroke="#9a9a9a" stroke-width="0.5"/>
<circle cx="445.2" cy="54.68" r="1.2" fill="#fff" stroke="#9a9a9a" stroke-width="0.5"/>
<circle cx="442.14" cy="53.57" r="1.2" fill="#fff" stroke="#9a9a9a" stroke-width="0.5"/>
<circle cx="442.46" cy="52.75" r="1.2" fill="#fff" stroke="#9a9a9a" stroke-width="0.5"/>
<circle cx="447.7" cy="52.88" r="1.2" fill="#fff" stroke="#9a9a9a" stroke-width="0.5"/>
<circle cx="445.2" cy="51.23" r="1.2" fill="#fff" stroke="#9a9a9a" stroke-width="0.5"/>
<circle cx="447.7" cy="49.28" r="1.2" fill="#fff" stroke="#9a9a9a" stroke-width="0.5"/>
<rect x="455.5" y="54.84" width="11.6" height="30.26" fill="#cd2316" stroke="#1a0505" stroke-width="0.6"/>
<line x1="461.3" y1="54.84" x2="461.3" y2="53.26" stroke="#c8231a" stroke-width="0.7"/>
<line x1="458.6" y1="53.26" x2="464" y2="53.26" stroke="#c8231a" stroke-width="0.7"/>
<circle cx="460.1" cy="62.04" r="1.2" fill="#fff" stroke="#e59a9a" stroke-width="0.5"/>
<circle cx="465.1" cy="59.24" r="1.2" fill="#fff" stroke="#e59a9a" stroke-width="0.5"/>
<circle cx="458.8" cy="57.04" r="1.2" fill="#fff" stroke="#e59a9a" stroke-width="0.5"/>
<circle cx="462.6" cy="55.32" r="1.2" fill="#fff" stroke="#e59a9a" stroke-width="0.5"/>
<circle cx="465.1" cy="54.84" r="1.2" fill="#fff" stroke="#e59a9a" stroke-width="0.5"/>
<circle cx="458.8" cy="54.52" r="1.2" fill="#fff" stroke="#e59a9a" stroke-width="0.5"/>
<circle cx="457.87" cy="52.48" r="1.2" fill="#fff" stroke="#e59a9a" stroke-width="0.5"/>
<circle cx="462.6" cy="52.44" r="1.2" fill="#fff" stroke="#e59a9a" stroke-width="0.5"/>
<circle cx="465.1" cy="50.24" r="1.2" fill="#fff" stroke="#e59a9a" stroke-width="0.5"/>
<circle cx="458.8" cy="47.64" r="1.2" fill="#fff" stroke="#e59a9a" stroke-width="0.5"/>
<rect x="473.2" y="40.53" width="11.6" height="44.57" fill="#000"/>
<line x1="479" y1="40.53" x2="479" y2="38.95" stroke="#000" stroke-width="0.7"/>
<line x1="476.3" y1="38.95" x2="481.7" y2="38.95" stroke="#000" stroke-width="0.7"/>
<circle cx="476.5" cy="47.73" r="1.2" fill="#fff" stroke="#9a9a9a" stroke-width="0.5"/>
<circle cx="475.3" cy="44.93" r="1.2" fill="#fff" stroke="#9a9a9a" stroke-width="0.5"/>
<circle cx="480.3" cy="42.73" r="1.2" fill="#fff" stroke="#9a9a9a" stroke-width="0.5"/>
<circle cx="476.5" cy="41.01" r="1.2" fill="#fff" stroke="#9a9a9a" stroke-width="0.5"/>
<circle cx="481.6" cy="40.53" r="1.2" fill="#fff" stroke="#9a9a9a" stroke-width="0.5"/>
<circle cx="479.1" cy="40.21" r="1.2" fill="#fff" stroke="#9a9a9a" stroke-width="0.5"/>
<circle cx="482.73" cy="38.66" r="1.2" fill="#fff" stroke="#9a9a9a" stroke-width="0.5"/>
<circle cx="476.5" cy="38.13" r="1.2" fill="#fff" stroke="#9a9a9a" stroke-width="0.5"/>
<circle cx="475.3" cy="35.93" r="1.2" fill="#fff" stroke="#9a9a9a" stroke-width="0.5"/>
<circle cx="480.3" cy="33.33" r="1.2" fill="#fff" stroke="#9a9a9a" stroke-width="0.5"/>
<rect x="490.8" y="43.44" width="11.6" height="41.66" fill="#cd2316" stroke="#1a0505" stroke-width="0.6"/>
<line x1="496.6" y1="43.44" x2="496.6" y2="42.26" stroke="#c8231a" stroke-width="0.7"/>
<line x1="493.9" y1="42.26" x2="499.3" y2="42.26" stroke="#c8231a" stroke-width="0.7"/>
<circle cx="500.4" cy="48.84" r="1.2" fill="#fff" stroke="#e59a9a" stroke-width="0.5"/>
<circle cx="494.1" cy="46.74" r="1.2" fill="#fff" stroke="#e59a9a" stroke-width="0.5"/>
<circle cx="497.9" cy="45.09" r="1.2" fill="#fff" stroke="#e59a9a" stroke-width="0.5"/>
<circle cx="500.4" cy="43.8" r="1.2" fill="#fff" stroke="#e59a9a" stroke-width="0.5"/>
<circle cx="494.1" cy="43.44" r="1.2" fill="#fff" stroke="#e59a9a" stroke-width="0.5"/>
<circle cx="496.32" cy="42.19" r="1.2" fill="#fff" stroke="#e59a9a" stroke-width="0.5"/>
<circle cx="496.69" cy="41.87" r="1.2" fill="#fff" stroke="#e59a9a" stroke-width="0.5"/>
<circle cx="499.2" cy="41.64" r="1.2" fill="#fff" stroke="#e59a9a" stroke-width="0.5"/>
<circle cx="494.1" cy="39.99" r="1.2" fill="#fff" stroke="#e59a9a" stroke-width="0.5"/>
<circle cx="497.9" cy="38.04" r="1.2" fill="#fff" stroke="#e59a9a" stroke-width="0.5"/>
<rect x="508.1" y="68.12" width="11.6" height="16.98" fill="#000"/>
<line x1="513.9" y1="68.12" x2="513.9" y2="66.94" stroke="#000" stroke-width="0.7"/>
<line x1="511.2" y1="66.94" x2="516.6" y2="66.94" stroke="#000" stroke-width="0.7"/>
<circle cx="516.5" cy="73.52" r="1.2" fill="#fff" stroke="#9a9a9a" stroke-width="0.5"/>
<circle cx="512.7" cy="71.42" r="1.2" fill="#fff" stroke="#9a9a9a" stroke-width="0.5"/>
<circle cx="517.7" cy="69.77" r="1.2" fill="#fff" stroke="#9a9a9a" stroke-width="0.5"/>
<circle cx="511.4" cy="68.48" r="1.2" fill="#fff" stroke="#9a9a9a" stroke-width="0.5"/>
<circle cx="515.2" cy="68.12" r="1.2" fill="#fff" stroke="#9a9a9a" stroke-width="0.5"/>
<circle cx="510.9" cy="66.66" r="1.2" fill="#fff" stroke="#9a9a9a" stroke-width="0.5"/>
<circle cx="517.63" cy="66.47" r="1.2" fill="#fff" stroke="#9a9a9a" stroke-width="0.5"/>
<circle cx="515.62" cy="65.25" r="1.2" fill="#fff" stroke="#9a9a9a" stroke-width="0.5"/>
<circle cx="512.7" cy="64.67" r="1.2" fill="#fff" stroke="#9a9a9a" stroke-width="0.5"/>
<circle cx="517.7" cy="62.72" r="1.2" fill="#fff" stroke="#9a9a9a" stroke-width="0.5"/>
<rect x="525.6" y="66.39" width="11.6" height="18.71" fill="#cd2316" stroke="#1a0505" stroke-width="0.6"/>
<line x1="531.4" y1="66.39" x2="531.4" y2="65.21" stroke="#c8231a" stroke-width="0.7"/>
<line x1="528.7" y1="65.21" x2="534.1" y2="65.21" stroke="#c8231a" stroke-width="0.7"/>
<circle cx="530.2" cy="71.79" r="1.2" fill="#fff" stroke="#e59a9a" stroke-width="0.5"/>
<circle cx="535.2" cy="69.69" r="1.2" fill="#fff" stroke="#e59a9a" stroke-width="0.5"/>
<circle cx="528.9" cy="68.04" r="1.2" fill="#fff" stroke="#e59a9a" stroke-width="0.5"/>
<circle cx="532.7" cy="66.75" r="1.2" fill="#fff" stroke="#e59a9a" stroke-width="0.5"/>
<circle cx="535.2" cy="66.39" r="1.2" fill="#fff" stroke="#e59a9a" stroke-width="0.5"/>
<circle cx="532.61" cy="65.35" r="1.2" fill="#fff" stroke="#e59a9a" stroke-width="0.5"/>
<circle cx="527.7" cy="65.91" r="1.2" fill="#fff" stroke="#e59a9a" stroke-width="0.5"/>
<circle cx="530.2" cy="64.59" r="1.2" fill="#fff" stroke="#e59a9a" stroke-width="0.5"/>
<circle cx="535.2" cy="62.94" r="1.2" fill="#fff" stroke="#e59a9a" stroke-width="0.5"/>
<circle cx="528.9" cy="60.99" r="1.2" fill="#fff" stroke="#e59a9a" stroke-width="0.5"/>
<line x1="431.9" y1="6.2" x2="431.9" y2="85.5" stroke="#111" stroke-width="0.9"/>
<line x1="431.5" y1="85.1" x2="543.2" y2="85.1" stroke="#111" stroke-width="0.9"/>
<line x1="429.3" y1="85.1" x2="431.9" y2="85.1" stroke="#111" stroke-width="0.8"/>
<text x="427.5" y="87.2" font-size="5.9" font-weight="bold" text-anchor="end" fill="#111">0</text>
<line x1="429.3" y1="69.38" x2="431.9" y2="69.38" stroke="#111" stroke-width="0.8"/>
<text x="427.5" y="71.48" font-size="5.9" font-weight="bold" text-anchor="end" fill="#111">20</text>
<line x1="429.3" y1="53.66" x2="431.9" y2="53.66" stroke="#111" stroke-width="0.8"/>
<text x="427.5" y="55.76" font-size="5.9" font-weight="bold" text-anchor="end" fill="#111">40</text>
<line x1="429.3" y1="37.94" x2="431.9" y2="37.94" stroke="#111" stroke-width="0.8"/>
<text x="427.5" y="40.04" font-size="5.9" font-weight="bold" text-anchor="end" fill="#111">60</text>
<line x1="429.3" y1="22.22" x2="431.9" y2="22.22" stroke="#111" stroke-width="0.8"/>
<text x="427.5" y="24.32" font-size="5.9" font-weight="bold" text-anchor="end" fill="#111">80</text>
<line x1="429.3" y1="6.5" x2="431.9" y2="6.5" stroke="#111" stroke-width="0.8"/>
<text x="427.5" y="8.6" font-size="5.9" font-weight="bold" text-anchor="end" fill="#111">100</text>
<text x="454.4" y="93.5" font-size="6.0" font-weight="bold" text-anchor="end" fill="#111" transform="rotate(-45 454.4 93.5)">24h</text>
<text x="489.6" y="93.5" font-size="6.0" font-weight="bold" text-anchor="end" fill="#111" transform="rotate(-45 489.6 93.5)">Light</text>
<text x="524.45" y="93.5" font-size="6.0" font-weight="bold" text-anchor="end" fill="#111" transform="rotate(-45 524.45 93.5)">Dark</text>
<text x="415.15" y="45.7" font-size="6.8" font-weight="bold" text-anchor="middle" fill="#111" transform="rotate(-90 415.15 45.7)" textLength="60.23" lengthAdjust="spacingAndGlyphs">NREM duration (%)</text>
<rect x="579.4" y="54.05" width="11.6" height="31.05" fill="#000"/>
<line x1="585.2" y1="54.05" x2="585.2" y2="52.08" stroke="#000" stroke-width="0.7"/>
<line x1="582.5" y1="52.08" x2="587.9" y2="52.08" stroke="#000" stroke-width="0.7"/>
<circle cx="589" cy="63.05" r="1.2" fill="#fff" stroke="#9a9a9a" stroke-width="0.5"/>
<circle cx="582.7" cy="59.55" r="1.2" fill="#fff" stroke="#9a9a9a" stroke-width="0.5"/>
<circle cx="581.5" cy="56.8" r="1.2" fill="#fff" stroke="#9a9a9a" stroke-width="0.5"/>
<circle cx="586.5" cy="54.65" r="1.2" fill="#fff" stroke="#9a9a9a" stroke-width="0.5"/>
<circle cx="582.7" cy="54.05" r="1.2" fill="#fff" stroke="#9a9a9a" stroke-width="0.5"/>
<circle cx="589" cy="53.65" r="1.2" fill="#fff" stroke="#9a9a9a" stroke-width="0.5"/>
<circle cx="584.35" cy="51.72" r="1.2" fill="#fff" stroke="#9a9a9a" stroke-width="0.5"/>
<circle cx="589" cy="51.05" r="1.2" fill="#fff" stroke="#9a9a9a" stroke-width="0.5"/>
<circle cx="582.7" cy="48.3" r="1.2" fill="#fff" stroke="#9a9a9a" stroke-width="0.5"/>
<circle cx="581.5" cy="45.05" r="1.2" fill="#fff" stroke="#9a9a9a" stroke-width="0.5"/>
<rect x="597.3" y="50.52" width="11.6" height="34.58" fill="#cd2316" stroke="#1a0505" stroke-width="0.6"/>
<line x1="603.1" y1="50.52" x2="603.1" y2="48.54" stroke="#c8231a" stroke-width="0.7"/>
<line x1="600.4" y1="48.54" x2="605.8" y2="48.54" stroke="#c8231a" stroke-width="0.7"/>
<circle cx="601.9" cy="59.52" r="1.2" fill="#fff" stroke="#e59a9a" stroke-width="0.5"/>
<circle cx="606.9" cy="56.02" r="1.2" fill="#fff" stroke="#e59a9a" stroke-width="0.5"/>
<circle cx="600.6" cy="53.27" r="1.2" fill="#fff" stroke="#e59a9a" stroke-width="0.5"/>
<circle cx="599.4" cy="51.12" r="1.2" fill="#fff" stroke="#e59a9a" stroke-width="0.5"/>
<circle cx="604.4" cy="50.52" r="1.2" fill="#fff" stroke="#e59a9a" stroke-width="0.5"/>
<circle cx="601.9" cy="50.12" r="1.2" fill="#fff" stroke="#e59a9a" stroke-width="0.5"/>
<circle cx="606.9" cy="49.72" r="1.2" fill="#fff" stroke="#e59a9a" stroke-width="0.5"/>
<circle cx="601.9" cy="47.52" r="1.2" fill="#fff" stroke="#e59a9a" stroke-width="0.5"/>
<circle cx="606.9" cy="44.77" r="1.2" fill="#fff" stroke="#e59a9a" stroke-width="0.5"/>
<circle cx="600.6" cy="41.52" r="1.2" fill="#fff" stroke="#e59a9a" stroke-width="0.5"/>
<rect x="614.7" y="34.8" width="11.6" height="50.3" fill="#000"/>
<line x1="620.5" y1="34.8" x2="620.5" y2="31.24" stroke="#000" stroke-width="0.7"/>
<line x1="617.8" y1="31.24" x2="623.2" y2="31.24" stroke="#000" stroke-width="0.7"/>
<circle cx="619.3" cy="51" r="1.2" fill="#fff" stroke="#9a9a9a" stroke-width="0.5"/>
<circle cx="624.3" cy="44.7" r="1.2" fill="#fff" stroke="#9a9a9a" stroke-width="0.5"/>
<circle cx="618" cy="39.75" r="1.2" fill="#fff" stroke="#9a9a9a" stroke-width="0.5"/>
<circle cx="616.8" cy="35.88" r="1.2" fill="#fff" stroke="#9a9a9a" stroke-width="0.5"/>
<circle cx="621.8" cy="34.8" r="1.2" fill="#fff" stroke="#9a9a9a" stroke-width="0.5"/>
<circle cx="619.3" cy="34.08" r="1.2" fill="#fff" stroke="#9a9a9a" stroke-width="0.5"/>
<circle cx="616.8" cy="33.36" r="1.2" fill="#fff" stroke="#9a9a9a" stroke-width="0.5"/>
<circle cx="619.3" cy="29.4" r="1.2" fill="#fff" stroke="#9a9a9a" stroke-width="0.5"/>
<circle cx="624.3" cy="24.45" r="1.2" fill="#fff" stroke="#9a9a9a" stroke-width="0.5"/>
<circle cx="618" cy="18.6" r="1.2" fill="#fff" stroke="#9a9a9a" stroke-width="0.5"/>
<rect x="632.3" y="31.26" width="11.6" height="53.84" fill="#cd2316" stroke="#1a0505" stroke-width="0.6"/>
<line x1="638.1" y1="31.26" x2="638.1" y2="29.28" stroke="#c8231a" stroke-width="0.7"/>
<line x1="635.4" y1="29.28" x2="640.8" y2="29.28" stroke="#c8231a" stroke-width="0.7"/>
<circle cx="638.2" cy="40.26" r="1.2" fill="#fff" stroke="#e59a9a" stroke-width="0.5"/>
<circle cx="640.7" cy="36.76" r="1.2" fill="#fff" stroke="#e59a9a" stroke-width="0.5"/>
<circle cx="636.9" cy="34.01" r="1.2" fill="#fff" stroke="#e59a9a" stroke-width="0.5"/>
<circle cx="641.9" cy="31.86" r="1.2" fill="#fff" stroke="#e59a9a" stroke-width="0.5"/>
<circle cx="635.6" cy="31.26" r="1.2" fill="#fff" stroke="#e59a9a" stroke-width="0.5"/>
<circle cx="639.4" cy="30.86" r="1.2" fill="#fff" stroke="#e59a9a" stroke-width="0.5"/>
<circle cx="636.1" cy="29.62" r="1.2" fill="#fff" stroke="#e59a9a" stroke-width="0.5"/>
<circle cx="638.2" cy="28.26" r="1.2" fill="#fff" stroke="#e59a9a" stroke-width="0.5"/>
<circle cx="640.7" cy="25.51" r="1.2" fill="#fff" stroke="#e59a9a" stroke-width="0.5"/>
<circle cx="636.9" cy="22.26" r="1.2" fill="#fff" stroke="#e59a9a" stroke-width="0.5"/>
<rect x="649.6" y="75.27" width="11.6" height="9.83" fill="#000"/>
<line x1="655.4" y1="75.27" x2="655.4" y2="73.89" stroke="#000" stroke-width="0.7"/>
<line x1="652.7" y1="73.89" x2="658.1" y2="73.89" stroke="#000" stroke-width="0.7"/>
<circle cx="655.5" cy="81.57" r="1.2" fill="#fff" stroke="#9a9a9a" stroke-width="0.5"/>
<circle cx="658" cy="79.12" r="1.2" fill="#fff" stroke="#9a9a9a" stroke-width="0.5"/>
<circle cx="654.2" cy="77.2" r="1.2" fill="#fff" stroke="#9a9a9a" stroke-width="0.5"/>
<circle cx="659.2" cy="75.69" r="1.2" fill="#fff" stroke="#9a9a9a" stroke-width="0.5"/>
<circle cx="651.7" cy="75.27" r="1.2" fill="#fff" stroke="#9a9a9a" stroke-width="0.5"/>
<circle cx="656.7" cy="74.99" r="1.2" fill="#fff" stroke="#9a9a9a" stroke-width="0.5"/>
<circle cx="654.2" cy="74.71" r="1.2" fill="#fff" stroke="#9a9a9a" stroke-width="0.5"/>
<circle cx="659.2" cy="73.17" r="1.2" fill="#fff" stroke="#9a9a9a" stroke-width="0.5"/>
<circle cx="651.7" cy="71.25" r="1.2" fill="#fff" stroke="#9a9a9a" stroke-width="0.5"/>
<circle cx="654.2" cy="68.97" r="1.2" fill="#fff" stroke="#9a9a9a" stroke-width="0.5"/>
<rect x="667.2" y="70.56" width="11.6" height="14.54" fill="#cd2316" stroke="#1a0505" stroke-width="0.6"/>
<line x1="673" y1="70.56" x2="673" y2="68.58" stroke="#c8231a" stroke-width="0.7"/>
<line x1="670.3" y1="68.58" x2="675.7" y2="68.58" stroke="#c8231a" stroke-width="0.7"/>
<circle cx="671.8" cy="79.56" r="1.2" fill="#fff" stroke="#e59a9a" stroke-width="0.5"/>
<circle cx="676.8" cy="76.06" r="1.2" fill="#fff" stroke="#e59a9a" stroke-width="0.5"/>
<circle cx="670.5" cy="73.31" r="1.2" fill="#fff" stroke="#e59a9a" stroke-width="0.5"/>
<circle cx="669.3" cy="71.16" r="1.2" fill="#fff" stroke="#e59a9a" stroke-width="0.5"/>
<circle cx="674.3" cy="70.56" r="1.2" fill="#fff" stroke="#e59a9a" stroke-width="0.5"/>
<circle cx="671.8" cy="70.16" r="1.2" fill="#fff" stroke="#e59a9a" stroke-width="0.5"/>
<circle cx="676.8" cy="69.76" r="1.2" fill="#fff" stroke="#e59a9a" stroke-width="0.5"/>
<circle cx="671.8" cy="67.56" r="1.2" fill="#fff" stroke="#e59a9a" stroke-width="0.5"/>
<circle cx="676.8" cy="64.81" r="1.2" fill="#fff" stroke="#e59a9a" stroke-width="0.5"/>
<circle cx="670.5" cy="61.56" r="1.2" fill="#fff" stroke="#e59a9a" stroke-width="0.5"/>
<line x1="573.5" y1="6.2" x2="573.5" y2="85.5" stroke="#111" stroke-width="0.9"/>
<line x1="573.1" y1="85.1" x2="684.8" y2="85.1" stroke="#111" stroke-width="0.9"/>
<line x1="570.9" y1="85.1" x2="573.5" y2="85.1" stroke="#111" stroke-width="0.8"/>
<text x="569.1" y="87.2" font-size="5.9" font-weight="bold" text-anchor="end" fill="#111">0</text>
<line x1="570.9" y1="65.45" x2="573.5" y2="65.45" stroke="#111" stroke-width="0.8"/>
<text x="569.1" y="67.55" font-size="5.9" font-weight="bold" text-anchor="end" fill="#111">5</text>
<line x1="570.9" y1="45.8" x2="573.5" y2="45.8" stroke="#111" stroke-width="0.8"/>
<text x="569.1" y="47.9" font-size="5.9" font-weight="bold" text-anchor="end" fill="#111">10</text>
<line x1="570.9" y1="26.15" x2="573.5" y2="26.15" stroke="#111" stroke-width="0.8"/>
<text x="569.1" y="28.25" font-size="5.9" font-weight="bold" text-anchor="end" fill="#111">15</text>
<line x1="570.9" y1="6.5" x2="573.5" y2="6.5" stroke="#111" stroke-width="0.8"/>
<text x="569.1" y="8.6" font-size="5.9" font-weight="bold" text-anchor="end" fill="#111">20</text>
<text x="595.95" y="93.5" font-size="6.0" font-weight="bold" text-anchor="end" fill="#111" transform="rotate(-45 595.95 93.5)">24h</text>
<text x="631.1" y="93.5" font-size="6.0" font-weight="bold" text-anchor="end" fill="#111" transform="rotate(-45 631.1 93.5)">Light</text>
<text x="666" y="93.5" font-size="6.0" font-weight="bold" text-anchor="end" fill="#111" transform="rotate(-45 666 93.5)">Dark</text>
<text x="558.8" y="45.65" font-size="6.8" font-weight="bold" text-anchor="middle" fill="#111" transform="rotate(-90 558.8 45.65)" textLength="55.31" lengthAdjust="spacingAndGlyphs">REM duration (%)</text>
<rect x="655.3" y="7.9" width="6.9" height="3" fill="#000"/>
<rect x="655.5" y="18" width="6.5" height="2.8" fill="#cd2316" stroke="#500" stroke-width="0.4"/>
<text x="666" y="11.9" font-size="6.4" font-style="italic" fill="#3a3a3a" textLength="11" lengthAdjust="spacingAndGlyphs">Crbn</text><text x="677.5" y="9.4" font-size="4.6" font-style="italic" fill="#444" textLength="5.8" lengthAdjust="spacingAndGlyphs">+/+</text>
<text x="666" y="22" font-size="6.4" font-style="italic" fill="#3a3a3a" textLength="11" lengthAdjust="spacingAndGlyphs">Crbn</text><text x="677.5" y="19.5" font-size="4.6" font-style="italic" fill="#444" textLength="4.8" lengthAdjust="spacingAndGlyphs">-/-</text>
<text x="262.8" y="121.15" font-size="12" font-weight="bold" text-anchor="start" fill="#111">c</text>
<rect x="294.2" y="153.19" width="11.6" height="42.31" fill="#000"/>
<line x1="300" y1="153.19" x2="300" y2="150.82" stroke="#000" stroke-width="0.7"/>
<line x1="297.3" y1="150.82" x2="302.7" y2="150.82" stroke="#000" stroke-width="0.7"/>
<circle cx="296.3" cy="163.99" r="1.2" fill="#fff" stroke="#9a9a9a" stroke-width="0.5"/>
<circle cx="301.3" cy="159.79" r="1.2" fill="#fff" stroke="#9a9a9a" stroke-width="0.5"/>
<circle cx="300.1" cy="156.49" r="1.2" fill="#fff" stroke="#9a9a9a" stroke-width="0.5"/>
<circle cx="302.6" cy="153.91" r="1.2" fill="#fff" stroke="#9a9a9a" stroke-width="0.5"/>
<circle cx="298.8" cy="153.19" r="1.2" fill="#fff" stroke="#9a9a9a" stroke-width="0.5"/>
<circle cx="296.3" cy="152.71" r="1.2" fill="#fff" stroke="#9a9a9a" stroke-width="0.5"/>
<circle cx="300.92" cy="150.97" r="1.2" fill="#fff" stroke="#9a9a9a" stroke-width="0.5"/>
<circle cx="296.3" cy="149.59" r="1.2" fill="#fff" stroke="#9a9a9a" stroke-width="0.5"/>
<circle cx="301.3" cy="146.29" r="1.2" fill="#fff" stroke="#9a9a9a" stroke-width="0.5"/>
<circle cx="300.1" cy="142.39" r="1.2" fill="#fff" stroke="#9a9a9a" stroke-width="0.5"/>
<rect x="311.8" y="153.39" width="11.6" height="42.11" fill="#cd2316" stroke="#1a0505" stroke-width="0.6"/>
<line x1="317.6" y1="153.39" x2="317.6" y2="148.25" stroke="#c8231a" stroke-width="0.7"/>
<line x1="314.9" y1="148.25" x2="320.3" y2="148.25" stroke="#c8231a" stroke-width="0.7"/>
<circle cx="320.2" cy="176.79" r="1.2" fill="#fff" stroke="#e59a9a" stroke-width="0.5"/>
<circle cx="316.4" cy="167.69" r="1.2" fill="#fff" stroke="#e59a9a" stroke-width="0.5"/>
<circle cx="321.4" cy="160.54" r="1.2" fill="#fff" stroke="#e59a9a" stroke-width="0.5"/>
<circle cx="315.1" cy="154.95" r="1.2" fill="#fff" stroke="#e59a9a" stroke-width="0.5"/>
<circle cx="318.9" cy="153.39" r="1.2" fill="#fff" stroke="#e59a9a" stroke-width="0.5"/>
<circle cx="321.4" cy="152.35" r="1.2" fill="#fff" stroke="#e59a9a" stroke-width="0.5"/>
<circle cx="317.7" cy="151.31" r="1.2" fill="#fff" stroke="#e59a9a" stroke-width="0.5"/>
<circle cx="320.2" cy="145.59" r="1.2" fill="#fff" stroke="#e59a9a" stroke-width="0.5"/>
<circle cx="316.4" cy="138.44" r="1.2" fill="#fff" stroke="#e59a9a" stroke-width="0.5"/>
<circle cx="321.4" cy="129.99" r="1.2" fill="#fff" stroke="#e59a9a" stroke-width="0.5"/>
<rect x="329.1" y="174" width="11.6" height="21.5" fill="#000"/>
<line x1="334.9" y1="174" x2="334.9" y2="172.02" stroke="#000" stroke-width="0.7"/>
<line x1="332.2" y1="172.02" x2="337.6" y2="172.02" stroke="#000" stroke-width="0.7"/>
<circle cx="335" cy="183" r="1.2" fill="#fff" stroke="#9a9a9a" stroke-width="0.5"/>
<circle cx="337.5" cy="179.5" r="1.2" fill="#fff" stroke="#9a9a9a" stroke-width="0.5"/>
<circle cx="333.7" cy="176.75" r="1.2" fill="#fff" stroke="#9a9a9a" stroke-width="0.5"/>
<circle cx="338.7" cy="174.6" r="1.2" fill="#fff" stroke="#9a9a9a" stroke-width="0.5"/>
<circle cx="332.4" cy="174" r="1.2" fill="#fff" stroke="#9a9a9a" stroke-width="0.5"/>
<circle cx="336.2" cy="173.6" r="1.2" fill="#fff" stroke="#9a9a9a" stroke-width="0.5"/>
<circle cx="333.9" cy="171.96" r="1.2" fill="#fff" stroke="#9a9a9a" stroke-width="0.5"/>
<circle cx="337.5" cy="171" r="1.2" fill="#fff" stroke="#9a9a9a" stroke-width="0.5"/>
<circle cx="337.5" cy="168.25" r="1.2" fill="#fff" stroke="#9a9a9a" stroke-width="0.5"/>
<circle cx="333.7" cy="165" r="1.2" fill="#fff" stroke="#9a9a9a" stroke-width="0.5"/>
<rect x="346.7" y="173.8" width="11.6" height="21.7" fill="#cd2316" stroke="#1a0505" stroke-width="0.6"/>
<line x1="352.5" y1="173.8" x2="352.5" y2="169.85" stroke="#c8231a" stroke-width="0.7"/>
<line x1="349.8" y1="169.85" x2="355.2" y2="169.85" stroke="#c8231a" stroke-width="0.7"/>
<circle cx="352.6" cy="191.8" r="1.2" fill="#fff" stroke="#e59a9a" stroke-width="0.5"/>
<circle cx="355.1" cy="184.8" r="1.2" fill="#fff" stroke="#e59a9a" stroke-width="0.5"/>
<circle cx="351.3" cy="179.3" r="1.2" fill="#fff" stroke="#e59a9a" stroke-width="0.5"/>
<circle cx="356.3" cy="175" r="1.2" fill="#fff" stroke="#e59a9a" stroke-width="0.5"/>
<circle cx="350" cy="173.8" r="1.2" fill="#fff" stroke="#e59a9a" stroke-width="0.5"/>
<circle cx="353.8" cy="173" r="1.2" fill="#fff" stroke="#e59a9a" stroke-width="0.5"/>
<circle cx="356.3" cy="172.2" r="1.2" fill="#fff" stroke="#e59a9a" stroke-width="0.5"/>
<circle cx="352.6" cy="167.8" r="1.2" fill="#fff" stroke="#e59a9a" stroke-width="0.5"/>
<circle cx="355.1" cy="162.3" r="1.2" fill="#fff" stroke="#e59a9a" stroke-width="0.5"/>
<circle cx="351.3" cy="155.8" r="1.2" fill="#fff" stroke="#e59a9a" stroke-width="0.5"/>
<rect x="364" y="174" width="11.6" height="21.5" fill="#000"/>
<line x1="369.8" y1="174" x2="369.8" y2="171.63" stroke="#000" stroke-width="0.7"/>
<line x1="367.1" y1="171.63" x2="372.5" y2="171.63" stroke="#000" stroke-width="0.7"/>
<circle cx="373.6" cy="184.8" r="1.2" fill="#fff" stroke="#9a9a9a" stroke-width="0.5"/>
<circle cx="367.3" cy="180.6" r="1.2" fill="#fff" stroke="#9a9a9a" stroke-width="0.5"/>
<circle cx="366.1" cy="177.3" r="1.2" fill="#fff" stroke="#9a9a9a" stroke-width="0.5"/>
<circle cx="371.1" cy="174.72" r="1.2" fill="#fff" stroke="#9a9a9a" stroke-width="0.5"/>
<circle cx="367.3" cy="174" r="1.2" fill="#fff" stroke="#9a9a9a" stroke-width="0.5"/>
<circle cx="373.6" cy="173.52" r="1.2" fill="#fff" stroke="#9a9a9a" stroke-width="0.5"/>
<circle cx="368.42" cy="171.45" r="1.2" fill="#fff" stroke="#9a9a9a" stroke-width="0.5"/>
<circle cx="373.6" cy="170.4" r="1.2" fill="#fff" stroke="#9a9a9a" stroke-width="0.5"/>
<circle cx="367.3" cy="167.1" r="1.2" fill="#fff" stroke="#9a9a9a" stroke-width="0.5"/>
<circle cx="366.1" cy="163.2" r="1.2" fill="#fff" stroke="#9a9a9a" stroke-width="0.5"/>
<rect x="381.3" y="175.38" width="11.6" height="20.12" fill="#cd2316" stroke="#1a0505" stroke-width="0.6"/>
<line x1="387.1" y1="175.38" x2="387.1" y2="173.01" stroke="#c8231a" stroke-width="0.7"/>
<line x1="384.4" y1="173.01" x2="389.8" y2="173.01" stroke="#c8231a" stroke-width="0.7"/>
<circle cx="389.7" cy="186.18" r="1.2" fill="#fff" stroke="#e59a9a" stroke-width="0.5"/>
<circle cx="385.9" cy="181.98" r="1.2" fill="#fff" stroke="#e59a9a" stroke-width="0.5"/>
<circle cx="390.9" cy="178.68" r="1.2" fill="#fff" stroke="#e59a9a" stroke-width="0.5"/>
<circle cx="384.6" cy="176.1" r="1.2" fill="#fff" stroke="#e59a9a" stroke-width="0.5"/>
<circle cx="388.4" cy="175.38" r="1.2" fill="#fff" stroke="#e59a9a" stroke-width="0.5"/>
<circle cx="390.9" cy="174.9" r="1.2" fill="#fff" stroke="#e59a9a" stroke-width="0.5"/>
<circle cx="390.26" cy="173.02" r="1.2" fill="#fff" stroke="#e59a9a" stroke-width="0.5"/>
<circle cx="383.4" cy="171.78" r="1.2" fill="#fff" stroke="#e59a9a" stroke-width="0.5"/>
<circle cx="385.9" cy="168.48" r="1.2" fill="#fff" stroke="#e59a9a" stroke-width="0.5"/>
<circle cx="390.9" cy="164.58" r="1.2" fill="#fff" stroke="#e59a9a" stroke-width="0.5"/>
<line x1="288.3" y1="116.3" x2="288.3" y2="195.9" stroke="#111" stroke-width="0.9"/>
<line x1="287.9" y1="195.5" x2="398.9" y2="195.5" stroke="#111" stroke-width="0.9"/>
<line x1="285.7" y1="195.5" x2="288.3" y2="195.5" stroke="#111" stroke-width="0.8"/>
<text x="283.9" y="197.6" font-size="5.9" font-weight="bold" text-anchor="end" fill="#111">0</text>
<line x1="285.7" y1="175.78" x2="288.3" y2="175.78" stroke="#111" stroke-width="0.8"/>
<text x="283.9" y="177.88" font-size="5.9" font-weight="bold" text-anchor="end" fill="#111">20</text>
<line x1="285.7" y1="156.05" x2="288.3" y2="156.05" stroke="#111" stroke-width="0.8"/>
<text x="283.9" y="158.15" font-size="5.9" font-weight="bold" text-anchor="end" fill="#111">40</text>
<line x1="285.7" y1="136.32" x2="288.3" y2="136.32" stroke="#111" stroke-width="0.8"/>
<text x="283.9" y="138.42" font-size="5.9" font-weight="bold" text-anchor="end" fill="#111">60</text>
<line x1="285.7" y1="116.6" x2="288.3" y2="116.6" stroke="#111" stroke-width="0.8"/>
<text x="283.9" y="118.7" font-size="5.9" font-weight="bold" text-anchor="end" fill="#111">80</text>
<text x="310.6" y="203.9" font-size="6.0" font-weight="bold" text-anchor="end" fill="#111" transform="rotate(-45 310.6 203.9)">24h</text>
<text x="345.5" y="203.9" font-size="6.0" font-weight="bold" text-anchor="end" fill="#111" transform="rotate(-45 345.5 203.9)">Light</text>
<text x="380.25" y="203.9" font-size="6.0" font-weight="bold" text-anchor="end" fill="#111" transform="rotate(-45 380.25 203.9)">Dark</text>
<text x="273.6" y="155.65" font-size="6.8" font-weight="bold" text-anchor="middle" fill="#111" transform="rotate(-90 273.6 155.65)" textLength="52.52" lengthAdjust="spacingAndGlyphs">Wake bout count</text>
<rect x="438.1" y="149.34" width="11.6" height="46.16" fill="#000"/>
<line x1="443.9" y1="149.34" x2="443.9" y2="146.18" stroke="#000" stroke-width="0.7"/>
<line x1="441.2" y1="146.18" x2="446.6" y2="146.18" stroke="#000" stroke-width="0.7"/>
<circle cx="446.5" cy="163.74" r="1.2" fill="#fff" stroke="#9a9a9a" stroke-width="0.5"/>
<circle cx="442.7" cy="158.14" r="1.2" fill="#fff" stroke="#9a9a9a" stroke-width="0.5"/>
<circle cx="447.7" cy="153.74" r="1.2" fill="#fff" stroke="#9a9a9a" stroke-width="0.5"/>
<circle cx="441.4" cy="150.3" r="1.2" fill="#fff" stroke="#9a9a9a" stroke-width="0.5"/>
<circle cx="445.2" cy="149.34" r="1.2" fill="#fff" stroke="#9a9a9a" stroke-width="0.5"/>
<circle cx="447.7" cy="148.7" r="1.2" fill="#fff" stroke="#9a9a9a" stroke-width="0.5"/>
<circle cx="440.2" cy="148.06" r="1.2" fill="#fff" stroke="#9a9a9a" stroke-width="0.5"/>
<circle cx="446.5" cy="144.54" r="1.2" fill="#fff" stroke="#9a9a9a" stroke-width="0.5"/>
<circle cx="442.7" cy="140.14" r="1.2" fill="#fff" stroke="#9a9a9a" stroke-width="0.5"/>
<circle cx="447.7" cy="134.94" r="1.2" fill="#fff" stroke="#9a9a9a" stroke-width="0.5"/>
<rect x="455.5" y="152.1" width="11.6" height="43.4" fill="#cd2316" stroke="#1a0505" stroke-width="0.6"/>
<line x1="461.3" y1="152.1" x2="461.3" y2="150.52" stroke="#c8231a" stroke-width="0.7"/>
<line x1="458.6" y1="150.52" x2="464" y2="150.52" stroke="#c8231a" stroke-width="0.7"/>
<circle cx="458.8" cy="159.3" r="1.2" fill="#fff" stroke="#e59a9a" stroke-width="0.5"/>
<circle cx="457.6" cy="156.5" r="1.2" fill="#fff" stroke="#e59a9a" stroke-width="0.5"/>
<circle cx="462.6" cy="154.3" r="1.2" fill="#fff" stroke="#e59a9a" stroke-width="0.5"/>
<circle cx="458.8" cy="152.58" r="1.2" fill="#fff" stroke="#e59a9a" stroke-width="0.5"/>
<circle cx="463.9" cy="152.1" r="1.2" fill="#fff" stroke="#e59a9a" stroke-width="0.5"/>
<circle cx="461.4" cy="151.78" r="1.2" fill="#fff" stroke="#e59a9a" stroke-width="0.5"/>
<circle cx="457.77" cy="150.62" r="1.2" fill="#fff" stroke="#e59a9a" stroke-width="0.5"/>
<circle cx="463.9" cy="149.7" r="1.2" fill="#fff" stroke="#e59a9a" stroke-width="0.5"/>
<circle cx="457.6" cy="147.5" r="1.2" fill="#fff" stroke="#e59a9a" stroke-width="0.5"/>
<circle cx="462.6" cy="144.91" r="1.2" fill="#fff" stroke="#e59a9a" stroke-width="0.5"/>
<rect x="473.2" y="162.84" width="11.6" height="32.66" fill="#000"/>
<line x1="479" y1="162.84" x2="479" y2="160.46" stroke="#000" stroke-width="0.7"/>
<line x1="476.3" y1="160.46" x2="481.7" y2="160.46" stroke="#000" stroke-width="0.7"/>
<circle cx="476.5" cy="173.64" r="1.2" fill="#fff" stroke="#9a9a9a" stroke-width="0.5"/>
<circle cx="475.3" cy="169.44" r="1.2" fill="#fff" stroke="#9a9a9a" stroke-width="0.5"/>
<circle cx="480.3" cy="166.14" r="1.2" fill="#fff" stroke="#9a9a9a" stroke-width="0.5"/>
<circle cx="479.1" cy="163.56" r="1.2" fill="#fff" stroke="#9a9a9a" stroke-width="0.5"/>
<circle cx="481.6" cy="162.84" r="1.2" fill="#fff" stroke="#9a9a9a" stroke-width="0.5"/>
<circle cx="476.5" cy="162.36" r="1.2" fill="#fff" stroke="#9a9a9a" stroke-width="0.5"/>
<circle cx="475.32" cy="160.9" r="1.2" fill="#fff" stroke="#9a9a9a" stroke-width="0.5"/>
<circle cx="481.6" cy="159.24" r="1.2" fill="#fff" stroke="#9a9a9a" stroke-width="0.5"/>
<circle cx="475.3" cy="155.94" r="1.2" fill="#fff" stroke="#9a9a9a" stroke-width="0.5"/>
<circle cx="480.3" cy="152.04" r="1.2" fill="#fff" stroke="#9a9a9a" stroke-width="0.5"/>
<rect x="490.8" y="166.03" width="11.6" height="29.47" fill="#cd2316" stroke="#1a0505" stroke-width="0.6"/>
<line x1="496.6" y1="166.03" x2="496.6" y2="165.04" stroke="#c8231a" stroke-width="0.7"/>
<line x1="493.9" y1="165.04" x2="499.3" y2="165.04" stroke="#c8231a" stroke-width="0.7"/>
<circle cx="495.4" cy="170.53" r="1.2" fill="#fff" stroke="#e59a9a" stroke-width="0.5"/>
<circle cx="500.4" cy="168.78" r="1.2" fill="#fff" stroke="#e59a9a" stroke-width="0.5"/>
<circle cx="494.1" cy="167.41" r="1.2" fill="#fff" stroke="#e59a9a" stroke-width="0.5"/>
<circle cx="497.9" cy="166.33" r="1.2" fill="#fff" stroke="#e59a9a" stroke-width="0.5"/>
<circle cx="500.4" cy="166.03" r="1.2" fill="#fff" stroke="#e59a9a" stroke-width="0.5"/>
<circle cx="494.87" cy="164.89" r="1.2" fill="#fff" stroke="#e59a9a" stroke-width="0.5"/>
<circle cx="492.95" cy="164" r="1.2" fill="#fff" stroke="#e59a9a" stroke-width="0.5"/>
<circle cx="497.14" cy="163.7" r="1.2" fill="#fff" stroke="#e59a9a" stroke-width="0.5"/>
<circle cx="500.4" cy="163.16" r="1.2" fill="#fff" stroke="#e59a9a" stroke-width="0.5"/>
<circle cx="494.1" cy="161.53" r="1.2" fill="#fff" stroke="#e59a9a" stroke-width="0.5"/>
<rect x="508.1" y="182.01" width="11.6" height="13.49" fill="#000"/>
<line x1="513.9" y1="182.01" x2="513.9" y2="180.82" stroke="#000" stroke-width="0.7"/>
<line x1="511.2" y1="180.82" x2="516.6" y2="180.82" stroke="#000" stroke-width="0.7"/>
<circle cx="515.2" cy="187.41" r="1.2" fill="#fff" stroke="#9a9a9a" stroke-width="0.5"/>
<circle cx="514" cy="185.31" r="1.2" fill="#fff" stroke="#9a9a9a" stroke-width="0.5"/>
<circle cx="516.5" cy="183.66" r="1.2" fill="#fff" stroke="#9a9a9a" stroke-width="0.5"/>
<circle cx="512.7" cy="182.37" r="1.2" fill="#fff" stroke="#9a9a9a" stroke-width="0.5"/>
<circle cx="510.2" cy="182.01" r="1.2" fill="#fff" stroke="#9a9a9a" stroke-width="0.5"/>
<circle cx="514.02" cy="179.99" r="1.2" fill="#fff" stroke="#9a9a9a" stroke-width="0.5"/>
<circle cx="517.7" cy="181.53" r="1.2" fill="#fff" stroke="#9a9a9a" stroke-width="0.5"/>
<circle cx="515.59" cy="179.17" r="1.2" fill="#fff" stroke="#9a9a9a" stroke-width="0.5"/>
<circle cx="511.4" cy="178.56" r="1.2" fill="#fff" stroke="#9a9a9a" stroke-width="0.5"/>
<circle cx="516.5" cy="176.61" r="1.2" fill="#fff" stroke="#9a9a9a" stroke-width="0.5"/>
<rect x="525.6" y="182.09" width="11.6" height="13.41" fill="#cd2316" stroke="#1a0505" stroke-width="0.6"/>
<line x1="531.4" y1="182.09" x2="531.4" y2="180.9" stroke="#c8231a" stroke-width="0.7"/>
<line x1="528.7" y1="180.9" x2="534.1" y2="180.9" stroke="#c8231a" stroke-width="0.7"/>
<circle cx="532.7" cy="187.49" r="1.2" fill="#fff" stroke="#e59a9a" stroke-width="0.5"/>
<circle cx="531.5" cy="185.39" r="1.2" fill="#fff" stroke="#e59a9a" stroke-width="0.5"/>
<circle cx="534" cy="183.74" r="1.2" fill="#fff" stroke="#e59a9a" stroke-width="0.5"/>
<circle cx="530.2" cy="182.45" r="1.2" fill="#fff" stroke="#e59a9a" stroke-width="0.5"/>
<circle cx="527.7" cy="182.09" r="1.2" fill="#fff" stroke="#e59a9a" stroke-width="0.5"/>
<circle cx="533.93" cy="180.72" r="1.2" fill="#fff" stroke="#e59a9a" stroke-width="0.5"/>
<circle cx="527.51" cy="180.2" r="1.2" fill="#fff" stroke="#e59a9a" stroke-width="0.5"/>
<circle cx="531.5" cy="180.29" r="1.2" fill="#fff" stroke="#e59a9a" stroke-width="0.5"/>
<circle cx="535.2" cy="178.64" r="1.2" fill="#fff" stroke="#e59a9a" stroke-width="0.5"/>
<circle cx="527.7" cy="176.69" r="1.2" fill="#fff" stroke="#e59a9a" stroke-width="0.5"/>
<line x1="431.9" y1="116.3" x2="431.9" y2="195.9" stroke="#111" stroke-width="0.9"/>
<line x1="431.5" y1="195.5" x2="543.2" y2="195.5" stroke="#111" stroke-width="0.9"/>
<line x1="429.3" y1="195.5" x2="431.9" y2="195.5" stroke="#111" stroke-width="0.8"/>
<text x="427.5" y="197.6" font-size="5.9" font-weight="bold" text-anchor="end" fill="#111">0</text>
<line x1="429.3" y1="175.78" x2="431.9" y2="175.78" stroke="#111" stroke-width="0.8"/>
<text x="427.5" y="177.88" font-size="5.9" font-weight="bold" text-anchor="end" fill="#111">50</text>
<line x1="429.3" y1="156.05" x2="431.9" y2="156.05" stroke="#111" stroke-width="0.8"/>
<text x="427.5" y="158.15" font-size="5.9" font-weight="bold" text-anchor="end" fill="#111">100</text>
<line x1="429.3" y1="136.32" x2="431.9" y2="136.32" stroke="#111" stroke-width="0.8"/>
<text x="427.5" y="138.42" font-size="5.9" font-weight="bold" text-anchor="end" fill="#111">150</text>
<line x1="429.3" y1="116.6" x2="431.9" y2="116.6" stroke="#111" stroke-width="0.8"/>
<text x="427.5" y="118.7" font-size="5.9" font-weight="bold" text-anchor="end" fill="#111">200</text>
<text x="454.4" y="203.9" font-size="6.0" font-weight="bold" text-anchor="end" fill="#111" transform="rotate(-45 454.4 203.9)">24h</text>
<text x="489.6" y="203.9" font-size="6.0" font-weight="bold" text-anchor="end" fill="#111" transform="rotate(-45 489.6 203.9)">Light</text>
<text x="524.45" y="203.9" font-size="6.0" font-weight="bold" text-anchor="end" fill="#111" transform="rotate(-45 524.45 203.9)">Dark</text>
<text x="413.75" y="155.75" font-size="6.8" font-weight="bold" text-anchor="middle" fill="#111" transform="rotate(-90 413.75 155.75)" textLength="54.79" lengthAdjust="spacingAndGlyphs">NREM bout count</text>
<rect x="579.4" y="151.58" width="11.6" height="43.92" fill="#000"/>
<line x1="585.2" y1="151.58" x2="585.2" y2="148.02" stroke="#000" stroke-width="0.7"/>
<line x1="582.5" y1="148.02" x2="587.9" y2="148.02" stroke="#000" stroke-width="0.7"/>
<circle cx="589" cy="167.78" r="1.2" fill="#fff" stroke="#9a9a9a" stroke-width="0.5"/>
<circle cx="582.7" cy="161.48" r="1.2" fill="#fff" stroke="#9a9a9a" stroke-width="0.5"/>
<circle cx="581.5" cy="156.53" r="1.2" fill="#fff" stroke="#9a9a9a" stroke-width="0.5"/>
<circle cx="586.5" cy="152.66" r="1.2" fill="#fff" stroke="#9a9a9a" stroke-width="0.5"/>
<circle cx="582.7" cy="151.58" r="1.2" fill="#fff" stroke="#9a9a9a" stroke-width="0.5"/>
<circle cx="589" cy="150.86" r="1.2" fill="#fff" stroke="#9a9a9a" stroke-width="0.5"/>
<circle cx="586.5" cy="150.14" r="1.2" fill="#fff" stroke="#9a9a9a" stroke-width="0.5"/>
<circle cx="589" cy="146.18" r="1.2" fill="#fff" stroke="#9a9a9a" stroke-width="0.5"/>
<circle cx="582.7" cy="141.23" r="1.2" fill="#fff" stroke="#9a9a9a" stroke-width="0.5"/>
<circle cx="581.5" cy="135.38" r="1.2" fill="#fff" stroke="#9a9a9a" stroke-width="0.5"/>
<rect x="597.3" y="153.16" width="11.6" height="42.34" fill="#cd2316" stroke="#1a0505" stroke-width="0.6"/>
<line x1="603.1" y1="153.16" x2="603.1" y2="150.79" stroke="#c8231a" stroke-width="0.7"/>
<line x1="600.4" y1="150.79" x2="605.8" y2="150.79" stroke="#c8231a" stroke-width="0.7"/>
<circle cx="600.6" cy="163.96" r="1.2" fill="#fff" stroke="#e59a9a" stroke-width="0.5"/>
<circle cx="599.4" cy="159.76" r="1.2" fill="#fff" stroke="#e59a9a" stroke-width="0.5"/>
<circle cx="604.4" cy="156.46" r="1.2" fill="#fff" stroke="#e59a9a" stroke-width="0.5"/>
<circle cx="603.2" cy="153.88" r="1.2" fill="#fff" stroke="#e59a9a" stroke-width="0.5"/>
<circle cx="605.7" cy="153.16" r="1.2" fill="#fff" stroke="#e59a9a" stroke-width="0.5"/>
<circle cx="600.6" cy="152.68" r="1.2" fill="#fff" stroke="#e59a9a" stroke-width="0.5"/>
<circle cx="606.59" cy="150.77" r="1.2" fill="#fff" stroke="#e59a9a" stroke-width="0.5"/>
<circle cx="600.6" cy="149.56" r="1.2" fill="#fff" stroke="#e59a9a" stroke-width="0.5"/>
<circle cx="599.4" cy="146.26" r="1.2" fill="#fff" stroke="#e59a9a" stroke-width="0.5"/>
<circle cx="604.4" cy="142.36" r="1.2" fill="#fff" stroke="#e59a9a" stroke-width="0.5"/>
<rect x="614.7" y="159.47" width="11.6" height="36.03" fill="#000"/>
<line x1="620.5" y1="159.47" x2="620.5" y2="156.7" stroke="#000" stroke-width="0.7"/>
<line x1="617.8" y1="156.7" x2="623.2" y2="156.7" stroke="#000" stroke-width="0.7"/>
<circle cx="618" cy="172.07" r="1.2" fill="#fff" stroke="#9a9a9a" stroke-width="0.5"/>
<circle cx="616.8" cy="167.17" r="1.2" fill="#fff" stroke="#9a9a9a" stroke-width="0.5"/>
<circle cx="621.8" cy="163.32" r="1.2" fill="#fff" stroke="#9a9a9a" stroke-width="0.5"/>
<circle cx="620.6" cy="160.31" r="1.2" fill="#fff" stroke="#9a9a9a" stroke-width="0.5"/>
<circle cx="623.1" cy="159.47" r="1.2" fill="#fff" stroke="#9a9a9a" stroke-width="0.5"/>
<circle cx="618" cy="158.91" r="1.2" fill="#fff" stroke="#9a9a9a" stroke-width="0.5"/>
<circle cx="619.52" cy="156.93" r="1.2" fill="#fff" stroke="#9a9a9a" stroke-width="0.5"/>
<circle cx="623.1" cy="155.27" r="1.2" fill="#fff" stroke="#9a9a9a" stroke-width="0.5"/>
<circle cx="616.8" cy="151.42" r="1.2" fill="#fff" stroke="#9a9a9a" stroke-width="0.5"/>
<circle cx="621.8" cy="146.87" r="1.2" fill="#fff" stroke="#9a9a9a" stroke-width="0.5"/>
<rect x="632.3" y="163.41" width="11.6" height="32.09" fill="#cd2316" stroke="#1a0505" stroke-width="0.6"/>
<line x1="638.1" y1="163.41" x2="638.1" y2="162.23" stroke="#c8231a" stroke-width="0.7"/>
<line x1="635.4" y1="162.23" x2="640.8" y2="162.23" stroke="#c8231a" stroke-width="0.7"/>
<circle cx="638.2" cy="168.81" r="1.2" fill="#fff" stroke="#e59a9a" stroke-width="0.5"/>
<circle cx="640.7" cy="166.71" r="1.2" fill="#fff" stroke="#e59a9a" stroke-width="0.5"/>
<circle cx="636.9" cy="165.06" r="1.2" fill="#fff" stroke="#e59a9a" stroke-width="0.5"/>
<circle cx="641.9" cy="163.77" r="1.2" fill="#fff" stroke="#e59a9a" stroke-width="0.5"/>
<circle cx="634.4" cy="163.41" r="1.2" fill="#fff" stroke="#e59a9a" stroke-width="0.5"/>
<circle cx="639.4" cy="163.17" r="1.2" fill="#fff" stroke="#e59a9a" stroke-width="0.5"/>
<circle cx="637.58" cy="161.2" r="1.2" fill="#fff" stroke="#e59a9a" stroke-width="0.5"/>
<circle cx="638.89" cy="160.37" r="1.2" fill="#fff" stroke="#e59a9a" stroke-width="0.5"/>
<circle cx="634.4" cy="159.96" r="1.2" fill="#fff" stroke="#e59a9a" stroke-width="0.5"/>
<circle cx="636.9" cy="158.01" r="1.2" fill="#fff" stroke="#e59a9a" stroke-width="0.5"/>
<rect x="649.6" y="187.61" width="11.6" height="7.89" fill="#000"/>
<line x1="655.4" y1="187.61" x2="655.4" y2="186.42" stroke="#000" stroke-width="0.7"/>
<line x1="652.7" y1="186.42" x2="658.1" y2="186.42" stroke="#000" stroke-width="0.7"/>
<circle cx="655.5" cy="193.01" r="1.2" fill="#fff" stroke="#9a9a9a" stroke-width="0.5"/>
<circle cx="658" cy="190.91" r="1.2" fill="#fff" stroke="#9a9a9a" stroke-width="0.5"/>
<circle cx="654.2" cy="189.26" r="1.2" fill="#fff" stroke="#9a9a9a" stroke-width="0.5"/>
<circle cx="659.2" cy="187.97" r="1.2" fill="#fff" stroke="#9a9a9a" stroke-width="0.5"/>
<circle cx="651.7" cy="187.61" r="1.2" fill="#fff" stroke="#9a9a9a" stroke-width="0.5"/>
<circle cx="656.7" cy="187.37" r="1.2" fill="#fff" stroke="#9a9a9a" stroke-width="0.5"/>
<circle cx="654.04" cy="186.07" r="1.2" fill="#fff" stroke="#9a9a9a" stroke-width="0.5"/>
<circle cx="658.77" cy="184.21" r="1.2" fill="#fff" stroke="#9a9a9a" stroke-width="0.5"/>
<circle cx="651.7" cy="184.16" r="1.2" fill="#fff" stroke="#9a9a9a" stroke-width="0.5"/>
<circle cx="654.2" cy="182.21" r="1.2" fill="#fff" stroke="#9a9a9a" stroke-width="0.5"/>
<rect x="667.2" y="184.61" width="11.6" height="10.89" fill="#cd2316" stroke="#1a0505" stroke-width="0.6"/>
<line x1="673" y1="184.61" x2="673" y2="183.43" stroke="#c8231a" stroke-width="0.7"/>
<line x1="670.3" y1="183.43" x2="675.7" y2="183.43" stroke="#c8231a" stroke-width="0.7"/>
<circle cx="675.6" cy="190.01" r="1.2" fill="#fff" stroke="#e59a9a" stroke-width="0.5"/>
<circle cx="671.8" cy="187.91" r="1.2" fill="#fff" stroke="#e59a9a" stroke-width="0.5"/>
<circle cx="676.8" cy="186.26" r="1.2" fill="#fff" stroke="#e59a9a" stroke-width="0.5"/>
<circle cx="670.5" cy="184.97" r="1.2" fill="#fff" stroke="#e59a9a" stroke-width="0.5"/>
<circle cx="674.3" cy="184.61" r="1.2" fill="#fff" stroke="#e59a9a" stroke-width="0.5"/>
<circle cx="668.94" cy="182.68" r="1.2" fill="#fff" stroke="#e59a9a" stroke-width="0.5"/>
<circle cx="671.45" cy="182.69" r="1.2" fill="#fff" stroke="#e59a9a" stroke-width="0.5"/>
<circle cx="676.8" cy="182.81" r="1.2" fill="#fff" stroke="#e59a9a" stroke-width="0.5"/>
<circle cx="674.3" cy="181.16" r="1.2" fill="#fff" stroke="#e59a9a" stroke-width="0.5"/>
<circle cx="676.8" cy="179.21" r="1.2" fill="#fff" stroke="#e59a9a" stroke-width="0.5"/>
<line x1="573.5" y1="116.3" x2="573.5" y2="195.9" stroke="#111" stroke-width="0.9"/>
<line x1="573.1" y1="195.5" x2="684.8" y2="195.5" stroke="#111" stroke-width="0.9"/>
<line x1="570.9" y1="195.5" x2="573.5" y2="195.5" stroke="#111" stroke-width="0.8"/>
<text x="569.1" y="197.6" font-size="5.9" font-weight="bold" text-anchor="end" fill="#111">0</text>
<line x1="570.9" y1="169.2" x2="573.5" y2="169.2" stroke="#111" stroke-width="0.8"/>
<text x="569.1" y="171.3" font-size="5.9" font-weight="bold" text-anchor="end" fill="#111">50</text>
<line x1="570.9" y1="142.9" x2="573.5" y2="142.9" stroke="#111" stroke-width="0.8"/>
<text x="569.1" y="145" font-size="5.9" font-weight="bold" text-anchor="end" fill="#111">100</text>
<line x1="570.9" y1="116.6" x2="573.5" y2="116.6" stroke="#111" stroke-width="0.8"/>
<text x="569.1" y="118.7" font-size="5.9" font-weight="bold" text-anchor="end" fill="#111">150</text>
<text x="595.95" y="203.9" font-size="6.0" font-weight="bold" text-anchor="end" fill="#111" transform="rotate(-45 595.95 203.9)">24h</text>
<text x="631.1" y="203.9" font-size="6.0" font-weight="bold" text-anchor="end" fill="#111" transform="rotate(-45 631.1 203.9)">Light</text>
<text x="666" y="203.9" font-size="6.0" font-weight="bold" text-anchor="end" fill="#111" transform="rotate(-45 666 203.9)">Dark</text>
<text x="555.8" y="156.05" font-size="6.8" font-weight="bold" text-anchor="middle" fill="#111" transform="rotate(-90 555.8 156.05)" textLength="49.99" lengthAdjust="spacingAndGlyphs">REM bout count</text>
<rect x="655.3" y="118.3" width="6.9" height="3" fill="#000"/>
<rect x="655.5" y="128.4" width="6.5" height="2.8" fill="#cd2316" stroke="#500" stroke-width="0.4"/>
<text x="666" y="122.3" font-size="6.4" font-style="italic" fill="#3a3a3a" textLength="11" lengthAdjust="spacingAndGlyphs">Crbn</text><text x="677.5" y="119.8" font-size="4.6" font-style="italic" fill="#444" textLength="5.8" lengthAdjust="spacingAndGlyphs">+/+</text>
<text x="666" y="132.4" font-size="6.4" font-style="italic" fill="#3a3a3a" textLength="11" lengthAdjust="spacingAndGlyphs">Crbn</text><text x="677.5" y="129.9" font-size="4.6" font-style="italic" fill="#444" textLength="4.8" lengthAdjust="spacingAndGlyphs">-/-</text>
<text x="262.5" y="232.35" font-size="12" font-weight="bold" text-anchor="start" fill="#111">d</text>
<rect x="294.2" y="298.12" width="11.6" height="17.18" fill="#000"/>
<line x1="300" y1="298.12" x2="300" y2="296.93" stroke="#000" stroke-width="0.7"/>
<line x1="297.3" y1="296.93" x2="302.7" y2="296.93" stroke="#000" stroke-width="0.7"/>
<circle cx="301.3" cy="303.52" r="1.2" fill="#fff" stroke="#9a9a9a" stroke-width="0.5"/>
<circle cx="300.1" cy="301.42" r="1.2" fill="#fff" stroke="#9a9a9a" stroke-width="0.5"/>
<circle cx="302.6" cy="299.77" r="1.2" fill="#fff" stroke="#9a9a9a" stroke-width="0.5"/>
<circle cx="298.8" cy="298.48" r="1.2" fill="#fff" stroke="#9a9a9a" stroke-width="0.5"/>
<circle cx="296.3" cy="298.12" r="1.2" fill="#fff" stroke="#9a9a9a" stroke-width="0.5"/>
<circle cx="298.53" cy="297.07" r="1.2" fill="#fff" stroke="#9a9a9a" stroke-width="0.5"/>
<circle cx="301.3" cy="297.64" r="1.2" fill="#fff" stroke="#9a9a9a" stroke-width="0.5"/>
<circle cx="303.8" cy="296.32" r="1.2" fill="#fff" stroke="#9a9a9a" stroke-width="0.5"/>
<circle cx="300.1" cy="294.67" r="1.2" fill="#fff" stroke="#9a9a9a" stroke-width="0.5"/>
<circle cx="302.6" cy="292.72" r="1.2" fill="#fff" stroke="#9a9a9a" stroke-width="0.5"/>
<rect x="311.8" y="295.87" width="11.6" height="19.43" fill="#cd2316" stroke="#1a0505" stroke-width="0.6"/>
<line x1="317.6" y1="295.87" x2="317.6" y2="293.9" stroke="#c8231a" stroke-width="0.7"/>
<line x1="314.9" y1="293.9" x2="320.3" y2="293.9" stroke="#c8231a" stroke-width="0.7"/>
<circle cx="321.4" cy="304.87" r="1.2" fill="#fff" stroke="#e59a9a" stroke-width="0.5"/>
<circle cx="315.1" cy="301.37" r="1.2" fill="#fff" stroke="#e59a9a" stroke-width="0.5"/>
<circle cx="313.9" cy="298.62" r="1.2" fill="#fff" stroke="#e59a9a" stroke-width="0.5"/>
<circle cx="318.9" cy="296.47" r="1.2" fill="#fff" stroke="#e59a9a" stroke-width="0.5"/>
<circle cx="315.1" cy="295.87" r="1.2" fill="#fff" stroke="#e59a9a" stroke-width="0.5"/>
<circle cx="321.4" cy="295.47" r="1.2" fill="#fff" stroke="#e59a9a" stroke-width="0.5"/>
<circle cx="316.11" cy="293.27" r="1.2" fill="#fff" stroke="#e59a9a" stroke-width="0.5"/>
<circle cx="321.4" cy="292.87" r="1.2" fill="#fff" stroke="#e59a9a" stroke-width="0.5"/>
<circle cx="315.1" cy="290.12" r="1.2" fill="#fff" stroke="#e59a9a" stroke-width="0.5"/>
<circle cx="313.9" cy="286.87" r="1.2" fill="#fff" stroke="#e59a9a" stroke-width="0.5"/>
<rect x="329.1" y="304.56" width="11.6" height="10.74" fill="#000"/>
<line x1="334.9" y1="304.56" x2="334.9" y2="303.77" stroke="#000" stroke-width="0.7"/>
<line x1="332.2" y1="303.77" x2="337.6" y2="303.77" stroke="#000" stroke-width="0.7"/>
<circle cx="337.5" cy="308.16" r="1.2" fill="#fff" stroke="#9a9a9a" stroke-width="0.5"/>
<circle cx="333.7" cy="306.76" r="1.2" fill="#fff" stroke="#9a9a9a" stroke-width="0.5"/>
<circle cx="338.7" cy="305.66" r="1.2" fill="#fff" stroke="#9a9a9a" stroke-width="0.5"/>
<circle cx="331.2" cy="304.8" r="1.2" fill="#fff" stroke="#9a9a9a" stroke-width="0.5"/>
<circle cx="336.2" cy="304.56" r="1.2" fill="#fff" stroke="#9a9a9a" stroke-width="0.5"/>
<circle cx="331.04" cy="302.66" r="1.2" fill="#fff" stroke="#9a9a9a" stroke-width="0.5"/>
<circle cx="333.7" cy="304.24" r="1.2" fill="#fff" stroke="#9a9a9a" stroke-width="0.5"/>
<circle cx="333.12" cy="301.81" r="1.2" fill="#fff" stroke="#9a9a9a" stroke-width="0.5"/>
<circle cx="338.7" cy="302.26" r="1.2" fill="#fff" stroke="#9a9a9a" stroke-width="0.5"/>
<circle cx="336.2" cy="300.96" r="1.2" fill="#fff" stroke="#9a9a9a" stroke-width="0.5"/>
<rect x="346.7" y="302.02" width="11.6" height="13.28" fill="#cd2316" stroke="#1a0505" stroke-width="0.6"/>
<line x1="352.5" y1="302.02" x2="352.5" y2="300.44" stroke="#c8231a" stroke-width="0.7"/>
<line x1="349.8" y1="300.44" x2="355.2" y2="300.44" stroke="#c8231a" stroke-width="0.7"/>
<circle cx="355.1" cy="309.22" r="1.2" fill="#fff" stroke="#e59a9a" stroke-width="0.5"/>
<circle cx="351.3" cy="306.42" r="1.2" fill="#fff" stroke="#e59a9a" stroke-width="0.5"/>
<circle cx="356.3" cy="304.22" r="1.2" fill="#fff" stroke="#e59a9a" stroke-width="0.5"/>
<circle cx="350" cy="302.5" r="1.2" fill="#fff" stroke="#e59a9a" stroke-width="0.5"/>
<circle cx="353.8" cy="302.02" r="1.2" fill="#fff" stroke="#e59a9a" stroke-width="0.5"/>
<circle cx="356.3" cy="301.7" r="1.2" fill="#fff" stroke="#e59a9a" stroke-width="0.5"/>
<circle cx="348.67" cy="300.3" r="1.2" fill="#fff" stroke="#e59a9a" stroke-width="0.5"/>
<circle cx="355.1" cy="299.62" r="1.2" fill="#fff" stroke="#e59a9a" stroke-width="0.5"/>
<circle cx="351.3" cy="297.42" r="1.2" fill="#fff" stroke="#e59a9a" stroke-width="0.5"/>
<circle cx="356.3" cy="294.82" r="1.2" fill="#fff" stroke="#e59a9a" stroke-width="0.5"/>
<rect x="364" y="288.36" width="11.6" height="26.94" fill="#000"/>
<line x1="369.8" y1="288.36" x2="369.8" y2="284.4" stroke="#000" stroke-width="0.7"/>
<line x1="367.1" y1="284.4" x2="372.5" y2="284.4" stroke="#000" stroke-width="0.7"/>
<circle cx="372.4" cy="306.36" r="1.2" fill="#fff" stroke="#9a9a9a" stroke-width="0.5"/>
<circle cx="368.6" cy="299.36" r="1.2" fill="#fff" stroke="#9a9a9a" stroke-width="0.5"/>
<circle cx="373.6" cy="293.86" r="1.2" fill="#fff" stroke="#9a9a9a" stroke-width="0.5"/>
<circle cx="367.3" cy="289.56" r="1.2" fill="#fff" stroke="#9a9a9a" stroke-width="0.5"/>
<circle cx="371.1" cy="288.36" r="1.2" fill="#fff" stroke="#9a9a9a" stroke-width="0.5"/>
<circle cx="373.6" cy="287.56" r="1.2" fill="#fff" stroke="#9a9a9a" stroke-width="0.5"/>
<circle cx="367.3" cy="286.76" r="1.2" fill="#fff" stroke="#9a9a9a" stroke-width="0.5"/>
<circle cx="372.4" cy="282.36" r="1.2" fill="#fff" stroke="#9a9a9a" stroke-width="0.5"/>
<circle cx="368.6" cy="276.86" r="1.2" fill="#fff" stroke="#9a9a9a" stroke-width="0.5"/>
<circle cx="373.6" cy="270.36" r="1.2" fill="#fff" stroke="#9a9a9a" stroke-width="0.5"/>
<rect x="381.3" y="289.53" width="11.6" height="25.77" fill="#cd2316" stroke="#1a0505" stroke-width="0.6"/>
<line x1="387.1" y1="289.53" x2="387.1" y2="286.76" stroke="#c8231a" stroke-width="0.7"/>
<line x1="384.4" y1="286.76" x2="389.8" y2="286.76" stroke="#c8231a" stroke-width="0.7"/>
<circle cx="387.2" cy="302.13" r="1.2" fill="#fff" stroke="#e59a9a" stroke-width="0.5"/>
<circle cx="389.7" cy="297.23" r="1.2" fill="#fff" stroke="#e59a9a" stroke-width="0.5"/>
<circle cx="385.9" cy="293.38" r="1.2" fill="#fff" stroke="#e59a9a" stroke-width="0.5"/>
<circle cx="390.9" cy="290.37" r="1.2" fill="#fff" stroke="#e59a9a" stroke-width="0.5"/>
<circle cx="384.6" cy="289.53" r="1.2" fill="#fff" stroke="#e59a9a" stroke-width="0.5"/>
<circle cx="388.4" cy="288.97" r="1.2" fill="#fff" stroke="#e59a9a" stroke-width="0.5"/>
<circle cx="388.64" cy="286.81" r="1.2" fill="#fff" stroke="#e59a9a" stroke-width="0.5"/>
<circle cx="384.6" cy="285.33" r="1.2" fill="#fff" stroke="#e59a9a" stroke-width="0.5"/>
<circle cx="389.7" cy="281.48" r="1.2" fill="#fff" stroke="#e59a9a" stroke-width="0.5"/>
<circle cx="385.9" cy="276.93" r="1.2" fill="#fff" stroke="#e59a9a" stroke-width="0.5"/>
<line x1="288.3" y1="236.9" x2="288.3" y2="315.7" stroke="#111" stroke-width="0.9"/>
<line x1="287.9" y1="315.3" x2="398.9" y2="315.3" stroke="#111" stroke-width="0.9"/>
<line x1="285.7" y1="315.3" x2="288.3" y2="315.3" stroke="#111" stroke-width="0.8"/>
<text x="283.9" y="317.4" font-size="5.9" font-weight="bold" text-anchor="end" fill="#111">0</text>
<line x1="285.7" y1="295.77" x2="288.3" y2="295.77" stroke="#111" stroke-width="0.8"/>
<text x="283.9" y="297.88" font-size="5.9" font-weight="bold" text-anchor="end" fill="#111">20</text>
<line x1="285.7" y1="276.25" x2="288.3" y2="276.25" stroke="#111" stroke-width="0.8"/>
<text x="283.9" y="278.35" font-size="5.9" font-weight="bold" text-anchor="end" fill="#111">40</text>
<line x1="285.7" y1="256.73" x2="288.3" y2="256.73" stroke="#111" stroke-width="0.8"/>
<text x="283.9" y="258.83" font-size="5.9" font-weight="bold" text-anchor="end" fill="#111">60</text>
<line x1="285.7" y1="237.2" x2="288.3" y2="237.2" stroke="#111" stroke-width="0.8"/>
<text x="283.9" y="239.3" font-size="5.9" font-weight="bold" text-anchor="end" fill="#111">80</text>
<text x="310.6" y="323.7" font-size="6.0" font-weight="bold" text-anchor="end" fill="#111" transform="rotate(-45 310.6 323.7)">24h</text>
<text x="345.5" y="323.7" font-size="6.0" font-weight="bold" text-anchor="end" fill="#111" transform="rotate(-45 345.5 323.7)">Light</text>
<text x="380.25" y="323.7" font-size="6.0" font-weight="bold" text-anchor="end" fill="#111" transform="rotate(-45 380.25 323.7)">Dark</text>
<text x="273.61" y="275.64" font-size="6.8" font-weight="bold" text-anchor="middle" fill="#111" transform="rotate(-90 273.61 275.64)" textLength="71.56" lengthAdjust="spacingAndGlyphs">Wake bout length (min)</text>
<rect x="436.4" y="266.59" width="11.6" height="48.71" fill="#000"/>
<line x1="442.2" y1="266.59" x2="442.2" y2="263.42" stroke="#000" stroke-width="0.7"/>
<line x1="439.5" y1="263.42" x2="444.9" y2="263.42" stroke="#000" stroke-width="0.7"/>
<circle cx="443.5" cy="280.99" r="1.2" fill="#fff" stroke="#9a9a9a" stroke-width="0.5"/>
<circle cx="442.3" cy="275.39" r="1.2" fill="#fff" stroke="#9a9a9a" stroke-width="0.5"/>
<circle cx="444.8" cy="270.99" r="1.2" fill="#fff" stroke="#9a9a9a" stroke-width="0.5"/>
<circle cx="441" cy="267.55" r="1.2" fill="#fff" stroke="#9a9a9a" stroke-width="0.5"/>
<circle cx="446" cy="266.59" r="1.2" fill="#fff" stroke="#9a9a9a" stroke-width="0.5"/>
<circle cx="438.5" cy="265.95" r="1.2" fill="#fff" stroke="#9a9a9a" stroke-width="0.5"/>
<circle cx="443.5" cy="265.31" r="1.2" fill="#fff" stroke="#9a9a9a" stroke-width="0.5"/>
<circle cx="443.5" cy="261.79" r="1.2" fill="#fff" stroke="#9a9a9a" stroke-width="0.5"/>
<circle cx="442.3" cy="257.39" r="1.2" fill="#fff" stroke="#9a9a9a" stroke-width="0.5"/>
<circle cx="444.8" cy="252.19" r="1.2" fill="#fff" stroke="#9a9a9a" stroke-width="0.5"/>
<rect x="453.9" y="265.8" width="11.6" height="49.5" fill="#cd2316" stroke="#1a0505" stroke-width="0.6"/>
<line x1="459.7" y1="265.8" x2="459.7" y2="263.83" stroke="#c8231a" stroke-width="0.7"/>
<line x1="457" y1="263.83" x2="462.4" y2="263.83" stroke="#c8231a" stroke-width="0.7"/>
<circle cx="459.8" cy="274.8" r="1.2" fill="#fff" stroke="#e59a9a" stroke-width="0.5"/>
<circle cx="462.3" cy="271.3" r="1.2" fill="#fff" stroke="#e59a9a" stroke-width="0.5"/>
<circle cx="458.5" cy="268.55" r="1.2" fill="#fff" stroke="#e59a9a" stroke-width="0.5"/>
<circle cx="463.5" cy="266.4" r="1.2" fill="#fff" stroke="#e59a9a" stroke-width="0.5"/>
<circle cx="457.2" cy="265.8" r="1.2" fill="#fff" stroke="#e59a9a" stroke-width="0.5"/>
<circle cx="461" cy="265.4" r="1.2" fill="#fff" stroke="#e59a9a" stroke-width="0.5"/>
<circle cx="458.47" cy="263.59" r="1.2" fill="#fff" stroke="#e59a9a" stroke-width="0.5"/>
<circle cx="462.3" cy="262.8" r="1.2" fill="#fff" stroke="#e59a9a" stroke-width="0.5"/>
<circle cx="462.3" cy="260.05" r="1.2" fill="#fff" stroke="#e59a9a" stroke-width="0.5"/>
<circle cx="458.5" cy="256.8" r="1.2" fill="#fff" stroke="#e59a9a" stroke-width="0.5"/>
<rect x="471.4" y="265.12" width="11.6" height="50.18" fill="#000"/>
<line x1="477.2" y1="265.12" x2="477.2" y2="261.56" stroke="#000" stroke-width="0.7"/>
<line x1="474.5" y1="261.56" x2="479.9" y2="261.56" stroke="#000" stroke-width="0.7"/>
<circle cx="477.3" cy="281.32" r="1.2" fill="#fff" stroke="#9a9a9a" stroke-width="0.5"/>
<circle cx="479.8" cy="275.02" r="1.2" fill="#fff" stroke="#9a9a9a" stroke-width="0.5"/>
<circle cx="476" cy="270.07" r="1.2" fill="#fff" stroke="#9a9a9a" stroke-width="0.5"/>
<circle cx="481" cy="266.2" r="1.2" fill="#fff" stroke="#9a9a9a" stroke-width="0.5"/>
<circle cx="474.7" cy="265.12" r="1.2" fill="#fff" stroke="#9a9a9a" stroke-width="0.5"/>
<circle cx="478.5" cy="264.4" r="1.2" fill="#fff" stroke="#9a9a9a" stroke-width="0.5"/>
<circle cx="481" cy="263.68" r="1.2" fill="#fff" stroke="#9a9a9a" stroke-width="0.5"/>
<circle cx="477.3" cy="259.72" r="1.2" fill="#fff" stroke="#9a9a9a" stroke-width="0.5"/>
<circle cx="479.8" cy="254.77" r="1.2" fill="#fff" stroke="#9a9a9a" stroke-width="0.5"/>
<circle cx="476" cy="248.92" r="1.2" fill="#fff" stroke="#9a9a9a" stroke-width="0.5"/>
<rect x="489.1" y="264.53" width="11.6" height="50.77" fill="#cd2316" stroke="#1a0505" stroke-width="0.6"/>
<line x1="494.9" y1="264.53" x2="494.9" y2="262.56" stroke="#c8231a" stroke-width="0.7"/>
<line x1="492.2" y1="262.56" x2="497.6" y2="262.56" stroke="#c8231a" stroke-width="0.7"/>
<circle cx="498.7" cy="273.53" r="1.2" fill="#fff" stroke="#e59a9a" stroke-width="0.5"/>
<circle cx="492.4" cy="270.03" r="1.2" fill="#fff" stroke="#e59a9a" stroke-width="0.5"/>
<circle cx="491.2" cy="267.28" r="1.2" fill="#fff" stroke="#e59a9a" stroke-width="0.5"/>
<circle cx="496.2" cy="265.13" r="1.2" fill="#fff" stroke="#e59a9a" stroke-width="0.5"/>
<circle cx="492.4" cy="264.53" r="1.2" fill="#fff" stroke="#e59a9a" stroke-width="0.5"/>
<circle cx="498.7" cy="264.13" r="1.2" fill="#fff" stroke="#e59a9a" stroke-width="0.5"/>
<circle cx="494.05" cy="262.21" r="1.2" fill="#fff" stroke="#e59a9a" stroke-width="0.5"/>
<circle cx="498.7" cy="261.53" r="1.2" fill="#fff" stroke="#e59a9a" stroke-width="0.5"/>
<circle cx="492.4" cy="258.78" r="1.2" fill="#fff" stroke="#e59a9a" stroke-width="0.5"/>
<circle cx="491.2" cy="255.53" r="1.2" fill="#fff" stroke="#e59a9a" stroke-width="0.5"/>
<rect x="506.4" y="269.42" width="11.6" height="45.88" fill="#000"/>
<line x1="512.2" y1="269.42" x2="512.2" y2="265.86" stroke="#000" stroke-width="0.7"/>
<line x1="509.5" y1="265.86" x2="514.9" y2="265.86" stroke="#000" stroke-width="0.7"/>
<circle cx="509.7" cy="285.62" r="1.2" fill="#fff" stroke="#9a9a9a" stroke-width="0.5"/>
<circle cx="508.5" cy="279.32" r="1.2" fill="#fff" stroke="#9a9a9a" stroke-width="0.5"/>
<circle cx="513.5" cy="274.37" r="1.2" fill="#fff" stroke="#9a9a9a" stroke-width="0.5"/>
<circle cx="512.3" cy="270.5" r="1.2" fill="#fff" stroke="#9a9a9a" stroke-width="0.5"/>
<circle cx="514.8" cy="269.42" r="1.2" fill="#fff" stroke="#9a9a9a" stroke-width="0.5"/>
<circle cx="509.7" cy="268.7" r="1.2" fill="#fff" stroke="#9a9a9a" stroke-width="0.5"/>
<circle cx="512.3" cy="267.98" r="1.2" fill="#fff" stroke="#9a9a9a" stroke-width="0.5"/>
<circle cx="509.7" cy="264.02" r="1.2" fill="#fff" stroke="#9a9a9a" stroke-width="0.5"/>
<circle cx="508.5" cy="259.07" r="1.2" fill="#fff" stroke="#9a9a9a" stroke-width="0.5"/>
<circle cx="513.5" cy="253.22" r="1.2" fill="#fff" stroke="#9a9a9a" stroke-width="0.5"/>
<rect x="524.1" y="267.46" width="11.6" height="47.84" fill="#cd2316" stroke="#1a0505" stroke-width="0.6"/>
<line x1="529.9" y1="267.46" x2="529.9" y2="265.09" stroke="#c8231a" stroke-width="0.7"/>
<line x1="527.2" y1="265.09" x2="532.6" y2="265.09" stroke="#c8231a" stroke-width="0.7"/>
<circle cx="527.4" cy="278.26" r="1.2" fill="#fff" stroke="#e59a9a" stroke-width="0.5"/>
<circle cx="526.2" cy="274.06" r="1.2" fill="#fff" stroke="#e59a9a" stroke-width="0.5"/>
<circle cx="531.2" cy="270.76" r="1.2" fill="#fff" stroke="#e59a9a" stroke-width="0.5"/>
<circle cx="530" cy="268.18" r="1.2" fill="#fff" stroke="#e59a9a" stroke-width="0.5"/>
<circle cx="532.5" cy="267.46" r="1.2" fill="#fff" stroke="#e59a9a" stroke-width="0.5"/>
<circle cx="527.4" cy="266.98" r="1.2" fill="#fff" stroke="#e59a9a" stroke-width="0.5"/>
<circle cx="528.06" cy="265.4" r="1.2" fill="#fff" stroke="#e59a9a" stroke-width="0.5"/>
<circle cx="532.5" cy="263.86" r="1.2" fill="#fff" stroke="#e59a9a" stroke-width="0.5"/>
<circle cx="526.2" cy="260.56" r="1.2" fill="#fff" stroke="#e59a9a" stroke-width="0.5"/>
<circle cx="531.2" cy="256.66" r="1.2" fill="#fff" stroke="#e59a9a" stroke-width="0.5"/>
<line x1="430.3" y1="236.9" x2="430.3" y2="315.7" stroke="#111" stroke-width="0.9"/>
<line x1="429.9" y1="315.3" x2="541.7" y2="315.3" stroke="#111" stroke-width="0.9"/>
<line x1="427.7" y1="315.3" x2="430.3" y2="315.3" stroke="#111" stroke-width="0.8"/>
<text x="425.9" y="317.4" font-size="5.9" font-weight="bold" text-anchor="end" fill="#111">0</text>
<line x1="427.7" y1="295.77" x2="430.3" y2="295.77" stroke="#111" stroke-width="0.8"/>
<text x="425.9" y="297.88" font-size="5.9" font-weight="bold" text-anchor="end" fill="#111">2</text>
<line x1="427.7" y1="276.25" x2="430.3" y2="276.25" stroke="#111" stroke-width="0.8"/>
<text x="425.9" y="278.35" font-size="5.9" font-weight="bold" text-anchor="end" fill="#111">4</text>
<line x1="427.7" y1="256.73" x2="430.3" y2="256.73" stroke="#111" stroke-width="0.8"/>
<text x="425.9" y="258.83" font-size="5.9" font-weight="bold" text-anchor="end" fill="#111">6</text>
<line x1="427.7" y1="237.2" x2="430.3" y2="237.2" stroke="#111" stroke-width="0.8"/>
<text x="425.9" y="239.3" font-size="5.9" font-weight="bold" text-anchor="end" fill="#111">8</text>
<text x="452.75" y="323.7" font-size="6.0" font-weight="bold" text-anchor="end" fill="#111" transform="rotate(-45 452.75 323.7)">24h</text>
<text x="487.85" y="323.7" font-size="6.0" font-weight="bold" text-anchor="end" fill="#111" transform="rotate(-45 487.85 323.7)">Light</text>
<text x="522.85" y="323.7" font-size="6.0" font-weight="bold" text-anchor="end" fill="#111" transform="rotate(-45 522.85 323.7)">Dark</text>
<text x="418.6" y="275.95" font-size="6.8" font-weight="bold" text-anchor="middle" fill="#111" transform="rotate(-90 418.6 275.95)" textLength="74.92" lengthAdjust="spacingAndGlyphs">NREM bout length (min)</text>
<rect x="579.4" y="263.75" width="11.6" height="51.55" fill="#000"/>
<line x1="585.2" y1="263.75" x2="585.2" y2="261.38" stroke="#000" stroke-width="0.7"/>
<line x1="582.5" y1="261.38" x2="587.9" y2="261.38" stroke="#000" stroke-width="0.7"/>
<circle cx="585.3" cy="274.55" r="1.2" fill="#fff" stroke="#9a9a9a" stroke-width="0.5"/>
<circle cx="587.8" cy="270.35" r="1.2" fill="#fff" stroke="#9a9a9a" stroke-width="0.5"/>
<circle cx="584" cy="267.05" r="1.2" fill="#fff" stroke="#9a9a9a" stroke-width="0.5"/>
<circle cx="589" cy="264.47" r="1.2" fill="#fff" stroke="#9a9a9a" stroke-width="0.5"/>
<circle cx="582.7" cy="263.75" r="1.2" fill="#fff" stroke="#9a9a9a" stroke-width="0.5"/>
<circle cx="586.5" cy="263.27" r="1.2" fill="#fff" stroke="#9a9a9a" stroke-width="0.5"/>
<circle cx="585.34" cy="261.61" r="1.2" fill="#fff" stroke="#9a9a9a" stroke-width="0.5"/>
<circle cx="582.7" cy="260.15" r="1.2" fill="#fff" stroke="#9a9a9a" stroke-width="0.5"/>
<circle cx="587.8" cy="256.85" r="1.2" fill="#fff" stroke="#9a9a9a" stroke-width="0.5"/>
<circle cx="584" cy="252.95" r="1.2" fill="#fff" stroke="#9a9a9a" stroke-width="0.5"/>
<rect x="597.3" y="255.94" width="11.6" height="59.36" fill="#cd2316" stroke="#1a0505" stroke-width="0.6"/>
<line x1="603.1" y1="255.94" x2="603.1" y2="253.57" stroke="#c8231a" stroke-width="0.7"/>
<line x1="600.4" y1="253.57" x2="605.8" y2="253.57" stroke="#c8231a" stroke-width="0.7"/>
<circle cx="604.4" cy="266.74" r="1.2" fill="#fff" stroke="#e59a9a" stroke-width="0.5"/>
<circle cx="603.2" cy="262.54" r="1.2" fill="#fff" stroke="#e59a9a" stroke-width="0.5"/>
<circle cx="605.7" cy="259.24" r="1.2" fill="#fff" stroke="#e59a9a" stroke-width="0.5"/>
<circle cx="601.9" cy="256.66" r="1.2" fill="#fff" stroke="#e59a9a" stroke-width="0.5"/>
<circle cx="606.9" cy="255.94" r="1.2" fill="#fff" stroke="#e59a9a" stroke-width="0.5"/>
<circle cx="599.4" cy="255.46" r="1.2" fill="#fff" stroke="#e59a9a" stroke-width="0.5"/>
<circle cx="604.4" cy="254.98" r="1.2" fill="#fff" stroke="#e59a9a" stroke-width="0.5"/>
<circle cx="604.4" cy="252.34" r="1.2" fill="#fff" stroke="#e59a9a" stroke-width="0.5"/>
<circle cx="603.2" cy="249.04" r="1.2" fill="#fff" stroke="#e59a9a" stroke-width="0.5"/>
<circle cx="605.7" cy="245.14" r="1.2" fill="#fff" stroke="#e59a9a" stroke-width="0.5"/>
<rect x="614.7" y="262.58" width="11.6" height="52.72" fill="#000"/>
<line x1="620.5" y1="262.58" x2="620.5" y2="260.21" stroke="#000" stroke-width="0.7"/>
<line x1="617.8" y1="260.21" x2="623.2" y2="260.21" stroke="#000" stroke-width="0.7"/>
<circle cx="619.3" cy="273.38" r="1.2" fill="#fff" stroke="#9a9a9a" stroke-width="0.5"/>
<circle cx="624.3" cy="269.18" r="1.2" fill="#fff" stroke="#9a9a9a" stroke-width="0.5"/>
<circle cx="618" cy="265.88" r="1.2" fill="#fff" stroke="#9a9a9a" stroke-width="0.5"/>
<circle cx="616.8" cy="263.3" r="1.2" fill="#fff" stroke="#9a9a9a" stroke-width="0.5"/>
<circle cx="621.8" cy="262.58" r="1.2" fill="#fff" stroke="#9a9a9a" stroke-width="0.5"/>
<circle cx="619.3" cy="262.1" r="1.2" fill="#fff" stroke="#9a9a9a" stroke-width="0.5"/>
<circle cx="624.3" cy="261.62" r="1.2" fill="#fff" stroke="#9a9a9a" stroke-width="0.5"/>
<circle cx="619.3" cy="258.98" r="1.2" fill="#fff" stroke="#9a9a9a" stroke-width="0.5"/>
<circle cx="624.3" cy="255.68" r="1.2" fill="#fff" stroke="#9a9a9a" stroke-width="0.5"/>
<circle cx="618" cy="251.78" r="1.2" fill="#fff" stroke="#9a9a9a" stroke-width="0.5"/>
<rect x="632.3" y="253.6" width="11.6" height="61.7" fill="#cd2316" stroke="#1a0505" stroke-width="0.6"/>
<line x1="638.1" y1="253.6" x2="638.1" y2="251.23" stroke="#c8231a" stroke-width="0.7"/>
<line x1="635.4" y1="251.23" x2="640.8" y2="251.23" stroke="#c8231a" stroke-width="0.7"/>
<circle cx="638.2" cy="264.4" r="1.2" fill="#fff" stroke="#e59a9a" stroke-width="0.5"/>
<circle cx="640.7" cy="260.2" r="1.2" fill="#fff" stroke="#e59a9a" stroke-width="0.5"/>
<circle cx="636.9" cy="256.9" r="1.2" fill="#fff" stroke="#e59a9a" stroke-width="0.5"/>
<circle cx="641.9" cy="254.32" r="1.2" fill="#fff" stroke="#e59a9a" stroke-width="0.5"/>
<circle cx="635.6" cy="253.6" r="1.2" fill="#fff" stroke="#e59a9a" stroke-width="0.5"/>
<circle cx="639.4" cy="253.12" r="1.2" fill="#fff" stroke="#e59a9a" stroke-width="0.5"/>
<circle cx="637.93" cy="251.19" r="1.2" fill="#fff" stroke="#e59a9a" stroke-width="0.5"/>
<circle cx="635.6" cy="250" r="1.2" fill="#fff" stroke="#e59a9a" stroke-width="0.5"/>
<circle cx="640.7" cy="246.7" r="1.2" fill="#fff" stroke="#e59a9a" stroke-width="0.5"/>
<circle cx="636.9" cy="242.8" r="1.2" fill="#fff" stroke="#e59a9a" stroke-width="0.5"/>
<rect x="649.6" y="267.27" width="11.6" height="48.03" fill="#000"/>
<line x1="655.4" y1="267.27" x2="655.4" y2="264.11" stroke="#000" stroke-width="0.7"/>
<line x1="652.7" y1="264.11" x2="658.1" y2="264.11" stroke="#000" stroke-width="0.7"/>
<circle cx="651.7" cy="281.67" r="1.2" fill="#fff" stroke="#9a9a9a" stroke-width="0.5"/>
<circle cx="656.7" cy="276.07" r="1.2" fill="#fff" stroke="#9a9a9a" stroke-width="0.5"/>
<circle cx="655.5" cy="271.67" r="1.2" fill="#fff" stroke="#9a9a9a" stroke-width="0.5"/>
<circle cx="658" cy="268.23" r="1.2" fill="#fff" stroke="#9a9a9a" stroke-width="0.5"/>
<circle cx="654.2" cy="267.27" r="1.2" fill="#fff" stroke="#9a9a9a" stroke-width="0.5"/>
<circle cx="651.7" cy="266.63" r="1.2" fill="#fff" stroke="#9a9a9a" stroke-width="0.5"/>
<circle cx="656.7" cy="265.99" r="1.2" fill="#fff" stroke="#9a9a9a" stroke-width="0.5"/>
<circle cx="651.7" cy="262.47" r="1.2" fill="#fff" stroke="#9a9a9a" stroke-width="0.5"/>
<circle cx="656.7" cy="258.07" r="1.2" fill="#fff" stroke="#9a9a9a" stroke-width="0.5"/>
<circle cx="655.5" cy="252.87" r="1.2" fill="#fff" stroke="#9a9a9a" stroke-width="0.5"/>
<rect x="667.2" y="263.36" width="11.6" height="51.94" fill="#cd2316" stroke="#1a0505" stroke-width="0.6"/>
<line x1="673" y1="263.36" x2="673" y2="260.99" stroke="#c8231a" stroke-width="0.7"/>
<line x1="670.3" y1="260.99" x2="675.7" y2="260.99" stroke="#c8231a" stroke-width="0.7"/>
<circle cx="670.5" cy="274.16" r="1.2" fill="#fff" stroke="#e59a9a" stroke-width="0.5"/>
<circle cx="669.3" cy="269.96" r="1.2" fill="#fff" stroke="#e59a9a" stroke-width="0.5"/>
<circle cx="674.3" cy="266.66" r="1.2" fill="#fff" stroke="#e59a9a" stroke-width="0.5"/>
<circle cx="673.1" cy="264.08" r="1.2" fill="#fff" stroke="#e59a9a" stroke-width="0.5"/>
<circle cx="675.6" cy="263.36" r="1.2" fill="#fff" stroke="#e59a9a" stroke-width="0.5"/>
<circle cx="670.5" cy="262.88" r="1.2" fill="#fff" stroke="#e59a9a" stroke-width="0.5"/>
<circle cx="675.92" cy="260.84" r="1.2" fill="#fff" stroke="#e59a9a" stroke-width="0.5"/>
<circle cx="670.5" cy="259.76" r="1.2" fill="#fff" stroke="#e59a9a" stroke-width="0.5"/>
<circle cx="669.3" cy="256.46" r="1.2" fill="#fff" stroke="#e59a9a" stroke-width="0.5"/>
<circle cx="674.3" cy="252.56" r="1.2" fill="#fff" stroke="#e59a9a" stroke-width="0.5"/>
<line x1="573.5" y1="236.9" x2="573.5" y2="315.7" stroke="#111" stroke-width="0.9"/>
<line x1="573.1" y1="315.3" x2="684.8" y2="315.3" stroke="#111" stroke-width="0.9"/>
<line x1="570.9" y1="315.3" x2="573.5" y2="315.3" stroke="#111" stroke-width="0.8"/>
<text x="569.1" y="317.4" font-size="5.9" font-weight="bold" text-anchor="end" fill="#111">0.0</text>
<line x1="570.9" y1="295.77" x2="573.5" y2="295.77" stroke="#111" stroke-width="0.8"/>
<text x="569.1" y="297.88" font-size="5.9" font-weight="bold" text-anchor="end" fill="#111">0.5</text>
<line x1="570.9" y1="276.25" x2="573.5" y2="276.25" stroke="#111" stroke-width="0.8"/>
<text x="569.1" y="278.35" font-size="5.9" font-weight="bold" text-anchor="end" fill="#111">1.0</text>
<line x1="570.9" y1="256.73" x2="573.5" y2="256.73" stroke="#111" stroke-width="0.8"/>
<text x="569.1" y="258.83" font-size="5.9" font-weight="bold" text-anchor="end" fill="#111">1.5</text>
<line x1="570.9" y1="237.2" x2="573.5" y2="237.2" stroke="#111" stroke-width="0.8"/>
<text x="569.1" y="239.3" font-size="5.9" font-weight="bold" text-anchor="end" fill="#111">2.0</text>
<text x="595.95" y="323.7" font-size="6.0" font-weight="bold" text-anchor="end" fill="#111" transform="rotate(-45 595.95 323.7)">24h</text>
<text x="631.1" y="323.7" font-size="6.0" font-weight="bold" text-anchor="end" fill="#111" transform="rotate(-45 631.1 323.7)">Light</text>
<text x="666" y="323.7" font-size="6.0" font-weight="bold" text-anchor="end" fill="#111" transform="rotate(-45 666 323.7)">Dark</text>
<text x="556.68" y="276.04" font-size="6.8" font-weight="bold" text-anchor="middle" fill="#111" transform="rotate(-90 556.68 276.04)" textLength="69.07" lengthAdjust="spacingAndGlyphs">REM bout length (min)</text>
<rect x="655.3" y="229.3" width="6.9" height="3" fill="#000"/>
<rect x="655.5" y="239.4" width="6.5" height="2.8" fill="#cd2316" stroke="#500" stroke-width="0.4"/>
<text x="666" y="233.3" font-size="6.4" font-style="italic" fill="#3a3a3a" textLength="11" lengthAdjust="spacingAndGlyphs">Crbn</text><text x="677.5" y="230.8" font-size="4.6" font-style="italic" fill="#444" textLength="5.8" lengthAdjust="spacingAndGlyphs">+/+</text>
<text x="666" y="243.4" font-size="6.4" font-style="italic" fill="#3a3a3a" textLength="11" lengthAdjust="spacingAndGlyphs">Crbn</text><text x="677.5" y="240.9" font-size="4.6" font-style="italic" fill="#444" textLength="4.8" lengthAdjust="spacingAndGlyphs">-/-</text>
<polyline points="584.4,240.8 584.4,231.1 601.6,231.1 601.6,240.8" fill="none" stroke="#111" stroke-width="0.8"/>
<polygon points="592.6,223.7 593.18,225.1 594.69,225.22 593.54,226.21 593.89,227.68 592.6,226.89 591.31,227.68 591.66,226.21 590.51,225.22 592.02,225.1" fill="#111"/>
<polyline points="619.5,240.8 619.5,231.1 637.4,231.1 637.4,240.8" fill="none" stroke="#111" stroke-width="0.8"/>
<polygon points="628.4,223.7 628.98,225.1 630.49,225.22 629.34,226.21 629.69,227.68 628.4,226.89 627.11,227.68 627.46,226.21 626.31,225.22 627.82,225.1" fill="#111"/>
</svg></body></html>
